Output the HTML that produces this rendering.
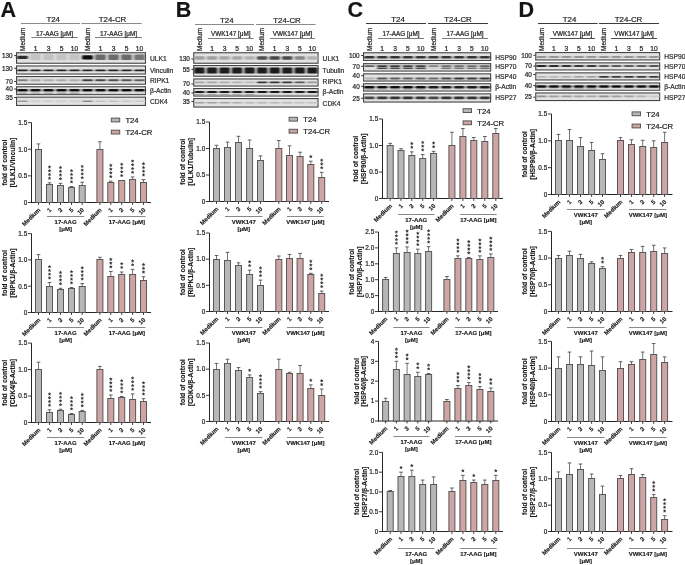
<!DOCTYPE html>
<html><head><meta charset="utf-8"><title>Figure</title>
<style>
html,body{margin:0;padding:0;background:#fff;width:685px;height:565px;overflow:hidden}
svg{display:block;font-family:"Liberation Sans", sans-serif;will-change:transform;filter:blur(0.35px)}
</style></head><body>
<svg width="685" height="565" viewBox="0 0 685 565">
<defs><filter id="bl" x="-20%" y="-80%" width="140%" height="260%"><feGaussianBlur stdDeviation="0.9 0.7"/></filter></defs>
<rect width="685" height="565" fill="#fff"/>
<text x="0.6" y="17" font-size="21.6" font-weight="bold" text-anchor="start" fill="#141414" stroke="#141414" stroke-width="0.15">A</text>
<text x="175.8" y="17" font-size="21.6" font-weight="bold" text-anchor="start" fill="#141414" stroke="#141414" stroke-width="0.15">B</text>
<text x="347.4" y="17" font-size="21.6" font-weight="bold" text-anchor="start" fill="#141414" stroke="#141414" stroke-width="0.15">C</text>
<text x="518.4" y="17" font-size="21.6" font-weight="bold" text-anchor="start" fill="#141414" stroke="#141414" stroke-width="0.15">D</text>
<line x1="20.9" y1="23.5" x2="79.9" y2="23.5" stroke="#8a8a8a" stroke-width="1"/>
<text x="53.2" y="21.9" font-size="7.9" font-weight="normal" text-anchor="middle" fill="#262626" stroke="#262626" stroke-width="0.22">T24</text>
<line x1="81.4" y1="23.5" x2="141.6" y2="23.5" stroke="#8a8a8a" stroke-width="1"/>
<text x="112.5" y="21.9" font-size="7.9" font-weight="normal" text-anchor="middle" fill="#262626" stroke="#262626" stroke-width="0.22">T24-CR</text>
<text x="24.8" y="51" font-size="6.5" font-weight="normal" text-anchor="start" fill="#262626" stroke="#262626" stroke-width="0.22" transform="rotate(-90 24.8 51)">Medium</text>
<text x="89.8" y="51" font-size="6.5" font-weight="normal" text-anchor="start" fill="#262626" stroke="#262626" stroke-width="0.22" transform="rotate(-90 89.8 51)">Medium</text>
<line x1="31.3" y1="37.5" x2="77.8" y2="37.5" stroke="#808080" stroke-width="1"/>
<text x="54.55" y="36" font-size="6.4" font-weight="normal" text-anchor="middle" fill="#262626" stroke="#262626" stroke-width="0.22">17-AAG [&#956;M]</text>
<line x1="95" y1="37.5" x2="142" y2="37.5" stroke="#808080" stroke-width="1"/>
<text x="118.5" y="36" font-size="6.4" font-weight="normal" text-anchor="middle" fill="#262626" stroke="#262626" stroke-width="0.22">17-AAG [&#956;M]</text>
<text x="35.5" y="50.8" font-size="6.7" font-weight="normal" text-anchor="middle" fill="#262626" stroke="#262626" stroke-width="0.22">1</text>
<text x="48.5" y="50.8" font-size="6.7" font-weight="normal" text-anchor="middle" fill="#262626" stroke="#262626" stroke-width="0.22">3</text>
<text x="61.5" y="50.8" font-size="6.7" font-weight="normal" text-anchor="middle" fill="#262626" stroke="#262626" stroke-width="0.22">5</text>
<text x="74.5" y="50.8" font-size="6.7" font-weight="normal" text-anchor="middle" fill="#262626" stroke="#262626" stroke-width="0.22">10</text>
<text x="100.5" y="50.8" font-size="6.7" font-weight="normal" text-anchor="middle" fill="#262626" stroke="#262626" stroke-width="0.22">1</text>
<text x="113.5" y="50.8" font-size="6.7" font-weight="normal" text-anchor="middle" fill="#262626" stroke="#262626" stroke-width="0.22">3</text>
<text x="126.5" y="50.8" font-size="6.7" font-weight="normal" text-anchor="middle" fill="#262626" stroke="#262626" stroke-width="0.22">5</text>
<text x="139.5" y="50.8" font-size="6.7" font-weight="normal" text-anchor="middle" fill="#262626" stroke="#262626" stroke-width="0.22">10</text>
<rect x="16.55" y="52.75" width="128.9" height="10.5" fill="#e1e1e1" stroke="#454545" stroke-width="1.1"/>
<rect x="17.04" y="55.7" width="10.92" height="3.2" rx="1.2" fill="#2a2a2a" filter="url(#bl)"/>
<rect x="30.04" y="54.3" width="10.92" height="6" rx="1.2" fill="#c3c3c3" filter="url(#bl)"/>
<rect x="43.04" y="54.3" width="10.92" height="6" rx="1.2" fill="#c3c3c3" filter="url(#bl)"/>
<rect x="56.04" y="54.3" width="10.92" height="6" rx="1.2" fill="#c3c3c3" filter="url(#bl)"/>
<rect x="69.04" y="54.3" width="10.92" height="6" rx="1.2" fill="#c3c3c3" filter="url(#bl)"/>
<rect x="82.04" y="55.2" width="10.92" height="4.2" rx="1.2" fill="#0a0a0a" filter="url(#bl)"/>
<rect x="95.04" y="54.55" width="10.92" height="5.5" rx="1.2" fill="#6b6b6b" filter="url(#bl)"/>
<rect x="108.04" y="54.55" width="10.92" height="5.5" rx="1.2" fill="#6b6b6b" filter="url(#bl)"/>
<rect x="121.04" y="54.55" width="10.92" height="5.5" rx="1.2" fill="#6b6b6b" filter="url(#bl)"/>
<rect x="134.04" y="54.55" width="10.92" height="5.5" rx="1.2" fill="#767676" filter="url(#bl)"/>
<text x="12.7" y="57.85" font-size="6.4" font-weight="normal" text-anchor="end" fill="#262626" stroke="#262626" stroke-width="0.22">130</text>
<line x1="14.2" y1="55.6" x2="16" y2="55.6" stroke="#333" stroke-width="1"/>
<text x="150" y="60.8" font-size="6.7" font-weight="normal" text-anchor="start" fill="#303030" stroke="#303030" stroke-width="0.22">ULK1</text>
<rect x="16.55" y="65.95" width="128.9" height="8.1" fill="#e1e1e1" stroke="#454545" stroke-width="1.1"/>
<rect x="17.04" y="69.5" width="10.92" height="1.8" rx="0.9" fill="#242424" filter="url(#bl)"/>
<rect x="30.04" y="69.5" width="10.92" height="1.8" rx="0.9" fill="#242424" filter="url(#bl)"/>
<rect x="43.04" y="69.5" width="10.92" height="1.8" rx="0.9" fill="#242424" filter="url(#bl)"/>
<rect x="56.04" y="69.5" width="10.92" height="1.8" rx="0.9" fill="#242424" filter="url(#bl)"/>
<rect x="69.04" y="69.5" width="10.92" height="1.8" rx="0.9" fill="#242424" filter="url(#bl)"/>
<rect x="82.04" y="69.5" width="10.92" height="1.8" rx="0.9" fill="#242424" filter="url(#bl)"/>
<rect x="95.04" y="69.5" width="10.92" height="1.8" rx="0.9" fill="#242424" filter="url(#bl)"/>
<rect x="108.04" y="69.5" width="10.92" height="1.8" rx="0.9" fill="#242424" filter="url(#bl)"/>
<rect x="121.04" y="69.5" width="10.92" height="1.8" rx="0.9" fill="#242424" filter="url(#bl)"/>
<rect x="134.04" y="69.5" width="10.92" height="1.8" rx="0.9" fill="#242424" filter="url(#bl)"/>
<text x="12.7" y="70.55" font-size="6.4" font-weight="normal" text-anchor="end" fill="#262626" stroke="#262626" stroke-width="0.22">130</text>
<line x1="14.2" y1="68.3" x2="16" y2="68.3" stroke="#333" stroke-width="1"/>
<text x="150" y="72.5" font-size="6.7" font-weight="normal" text-anchor="start" fill="#303030" stroke="#303030" stroke-width="0.22">Vinculin</text>
<rect x="16.55" y="76.55" width="128.9" height="7.7" fill="#e1e1e1" stroke="#454545" stroke-width="1.1"/>
<rect x="17.04" y="79.25" width="10.92" height="1.9" rx="0.95" fill="#808080" filter="url(#bl)"/>
<rect x="30.04" y="79.25" width="10.92" height="1.9" rx="0.95" fill="#a5a5a5" filter="url(#bl)"/>
<rect x="43.04" y="79.25" width="10.92" height="1.9" rx="0.95" fill="#adadad" filter="url(#bl)"/>
<rect x="56.04" y="79.25" width="10.92" height="1.9" rx="0.95" fill="#a9a9a9" filter="url(#bl)"/>
<rect x="69.04" y="79.25" width="10.92" height="1.9" rx="0.95" fill="#adadad" filter="url(#bl)"/>
<rect x="82.04" y="79.25" width="10.92" height="1.9" rx="0.95" fill="#404040" filter="url(#bl)"/>
<rect x="95.04" y="79.25" width="10.92" height="1.9" rx="0.95" fill="#464646" filter="url(#bl)"/>
<rect x="108.04" y="79.25" width="10.92" height="1.9" rx="0.95" fill="#4f4f4f" filter="url(#bl)"/>
<rect x="121.04" y="79.25" width="10.92" height="1.9" rx="0.95" fill="#555555" filter="url(#bl)"/>
<rect x="134.04" y="79.25" width="10.92" height="1.9" rx="0.95" fill="#606060" filter="url(#bl)"/>
<text x="12.7" y="83.75" font-size="6.4" font-weight="normal" text-anchor="end" fill="#262626" stroke="#262626" stroke-width="0.22">70</text>
<line x1="14.2" y1="81.5" x2="16" y2="81.5" stroke="#333" stroke-width="1"/>
<text x="150" y="82.8" font-size="6.7" font-weight="normal" text-anchor="start" fill="#303030" stroke="#303030" stroke-width="0.22">RIPK1</text>
<rect x="16.55" y="86.75" width="128.9" height="7.9" fill="#e1e1e1" stroke="#454545" stroke-width="1.1"/>
<rect x="17.04" y="88.9" width="10.92" height="2.6" rx="1.2" fill="#101010" filter="url(#bl)"/>
<rect x="30.04" y="88.9" width="10.92" height="2.6" rx="1.2" fill="#101010" filter="url(#bl)"/>
<rect x="43.04" y="88.9" width="10.92" height="2.6" rx="1.2" fill="#101010" filter="url(#bl)"/>
<rect x="56.04" y="88.9" width="10.92" height="2.6" rx="1.2" fill="#101010" filter="url(#bl)"/>
<rect x="69.04" y="88.9" width="10.92" height="2.6" rx="1.2" fill="#101010" filter="url(#bl)"/>
<rect x="82.04" y="88.9" width="10.92" height="2.6" rx="1.2" fill="#101010" filter="url(#bl)"/>
<rect x="95.04" y="88.9" width="10.92" height="2.6" rx="1.2" fill="#101010" filter="url(#bl)"/>
<rect x="108.04" y="88.9" width="10.92" height="2.6" rx="1.2" fill="#101010" filter="url(#bl)"/>
<rect x="121.04" y="88.9" width="10.92" height="2.6" rx="1.2" fill="#101010" filter="url(#bl)"/>
<rect x="134.04" y="88.9" width="10.92" height="2.6" rx="1.2" fill="#101010" filter="url(#bl)"/>
<rect x="17.3" y="92.6" width="10.4" height="1.2" fill="#a0a0a0" filter="url(#bl)"/>
<rect x="30.3" y="92.6" width="10.4" height="1.2" fill="#a0a0a0" filter="url(#bl)"/>
<rect x="43.3" y="92.6" width="10.4" height="1.2" fill="#a0a0a0" filter="url(#bl)"/>
<rect x="56.3" y="92.6" width="10.4" height="1.2" fill="#969696" filter="url(#bl)"/>
<rect x="69.3" y="92.6" width="10.4" height="1.2" fill="#969696" filter="url(#bl)"/>
<rect x="82.3" y="92.6" width="10.4" height="1.2" fill="#c7c7c7" filter="url(#bl)"/>
<rect x="95.3" y="92.6" width="10.4" height="1.2" fill="#cccccc" filter="url(#bl)"/>
<rect x="108.3" y="92.6" width="10.4" height="1.2" fill="#cccccc" filter="url(#bl)"/>
<rect x="121.3" y="92.6" width="10.4" height="1.2" fill="#cccccc" filter="url(#bl)"/>
<rect x="134.3" y="92.6" width="10.4" height="1.2" fill="#cccccc" filter="url(#bl)"/>
<text x="12.7" y="91.25" font-size="6.4" font-weight="normal" text-anchor="end" fill="#262626" stroke="#262626" stroke-width="0.22">40</text>
<line x1="14.2" y1="89" x2="16" y2="89" stroke="#333" stroke-width="1"/>
<text x="150" y="93.4" font-size="6.7" font-weight="normal" text-anchor="start" fill="#303030" stroke="#303030" stroke-width="0.22">&#946;-Actin</text>
<rect x="16.55" y="97.15" width="128.9" height="8.3" fill="#e1e1e1" stroke="#454545" stroke-width="1.1"/>
<rect x="17.04" y="100.4" width="10.92" height="1.6" rx="0.8" fill="#969696" filter="url(#bl)"/>
<rect x="30.04" y="100.4" width="10.92" height="1.6" rx="0.8" fill="#cccccc" filter="url(#bl)"/>
<rect x="43.04" y="100.4" width="10.92" height="1.6" rx="0.8" fill="#cccccc" filter="url(#bl)"/>
<rect x="56.04" y="100.4" width="10.92" height="1.6" rx="0.8" fill="#cccccc" filter="url(#bl)"/>
<rect x="69.04" y="100.4" width="10.92" height="1.6" rx="0.8" fill="#cccccc" filter="url(#bl)"/>
<rect x="82.04" y="100.4" width="10.92" height="1.6" rx="0.8" fill="#8b8b8b" filter="url(#bl)"/>
<rect x="95.04" y="100.4" width="10.92" height="1.6" rx="0.8" fill="#c1c1c1" filter="url(#bl)"/>
<rect x="108.04" y="100.4" width="10.92" height="1.6" rx="0.8" fill="#c1c1c1" filter="url(#bl)"/>
<rect x="121.04" y="100.4" width="10.92" height="1.6" rx="0.8" fill="#c7c7c7" filter="url(#bl)"/>
<rect x="134.04" y="100.4" width="10.92" height="1.6" rx="0.8" fill="#c7c7c7" filter="url(#bl)"/>
<text x="12.7" y="99.75" font-size="6.4" font-weight="normal" text-anchor="end" fill="#262626" stroke="#262626" stroke-width="0.22">35</text>
<line x1="14.2" y1="97.5" x2="16" y2="97.5" stroke="#333" stroke-width="1"/>
<text x="150" y="103.7" font-size="6.7" font-weight="normal" text-anchor="start" fill="#303030" stroke="#303030" stroke-width="0.22">CDK4</text>
<line x1="195" y1="24.5" x2="254" y2="24.5" stroke="#8a8a8a" stroke-width="1"/>
<text x="226.8" y="22.9" font-size="7.9" font-weight="normal" text-anchor="middle" fill="#262626" stroke="#262626" stroke-width="0.22">T24</text>
<line x1="256" y1="24.5" x2="315.6" y2="24.5" stroke="#8a8a8a" stroke-width="1"/>
<text x="287" y="22.9" font-size="7.9" font-weight="normal" text-anchor="middle" fill="#262626" stroke="#262626" stroke-width="0.22">T24-CR</text>
<text x="201.77" y="51" font-size="6.5" font-weight="normal" text-anchor="start" fill="#262626" stroke="#262626" stroke-width="0.22" transform="rotate(-90 201.77 51)">Medium</text>
<text x="264.47" y="51" font-size="6.5" font-weight="normal" text-anchor="start" fill="#262626" stroke="#262626" stroke-width="0.22" transform="rotate(-90 264.47 51)">Medium</text>
<line x1="208" y1="38.5" x2="253.6" y2="38.5" stroke="#808080" stroke-width="1"/>
<text x="230.8" y="36.2" font-size="6.4" font-weight="normal" text-anchor="middle" fill="#262626" stroke="#262626" stroke-width="0.22">VWK147 [&#956;M]</text>
<line x1="270" y1="38.5" x2="315" y2="38.5" stroke="#808080" stroke-width="1"/>
<text x="292.5" y="36.2" font-size="6.4" font-weight="normal" text-anchor="middle" fill="#262626" stroke="#262626" stroke-width="0.22">VWK147 [&#956;M]</text>
<text x="212.01" y="50.8" font-size="6.7" font-weight="normal" text-anchor="middle" fill="#262626" stroke="#262626" stroke-width="0.22">1</text>
<text x="224.55" y="50.8" font-size="6.7" font-weight="normal" text-anchor="middle" fill="#262626" stroke="#262626" stroke-width="0.22">3</text>
<text x="237.09" y="50.8" font-size="6.7" font-weight="normal" text-anchor="middle" fill="#262626" stroke="#262626" stroke-width="0.22">5</text>
<text x="249.63" y="50.8" font-size="6.7" font-weight="normal" text-anchor="middle" fill="#262626" stroke="#262626" stroke-width="0.22">10</text>
<text x="274.71" y="50.8" font-size="6.7" font-weight="normal" text-anchor="middle" fill="#262626" stroke="#262626" stroke-width="0.22">1</text>
<text x="287.25" y="50.8" font-size="6.7" font-weight="normal" text-anchor="middle" fill="#262626" stroke="#262626" stroke-width="0.22">3</text>
<text x="299.79" y="50.8" font-size="6.7" font-weight="normal" text-anchor="middle" fill="#262626" stroke="#262626" stroke-width="0.22">5</text>
<text x="312.33" y="50.8" font-size="6.7" font-weight="normal" text-anchor="middle" fill="#262626" stroke="#262626" stroke-width="0.22">10</text>
<rect x="193.75" y="52.75" width="124.3" height="10.5" fill="#e1e1e1" stroke="#454545" stroke-width="1.1"/>
<rect x="194.2" y="56.3" width="10.53" height="3.4" rx="1.2" fill="#a0a0a0" filter="url(#bl)"/>
<rect x="206.74" y="56.3" width="10.53" height="3.4" rx="1.2" fill="#a0a0a0" filter="url(#bl)"/>
<rect x="219.28" y="56.3" width="10.53" height="3.4" rx="1.2" fill="#a7a7a7" filter="url(#bl)"/>
<rect x="231.82" y="56.3" width="10.53" height="3.4" rx="1.2" fill="#a7a7a7" filter="url(#bl)"/>
<rect x="244.36" y="56.3" width="10.53" height="3.4" rx="1.2" fill="#b2b2b2" filter="url(#bl)"/>
<rect x="256.9" y="56.3" width="10.53" height="3.4" rx="1.2" fill="#4f4f4f" filter="url(#bl)"/>
<rect x="269.44" y="56.3" width="10.53" height="3.4" rx="1.2" fill="#464646" filter="url(#bl)"/>
<rect x="281.98" y="56.3" width="10.53" height="3.4" rx="1.2" fill="#4a4a4a" filter="url(#bl)"/>
<rect x="294.52" y="56.3" width="10.53" height="3.4" rx="1.2" fill="#878787" filter="url(#bl)"/>
<rect x="307.06" y="56.3" width="10.53" height="3.4" rx="1.2" fill="#b2b2b2" filter="url(#bl)"/>
<text x="189.9" y="61.25" font-size="6.4" font-weight="normal" text-anchor="end" fill="#262626" stroke="#262626" stroke-width="0.22">130</text>
<line x1="191.4" y1="59" x2="193.2" y2="59" stroke="#333" stroke-width="1"/>
<text x="322.6" y="61" font-size="6.7" font-weight="normal" text-anchor="start" fill="#303030" stroke="#303030" stroke-width="0.22">ULK1</text>
<rect x="193.75" y="65.55" width="124.3" height="10.7" fill="#e1e1e1" stroke="#454545" stroke-width="1.1"/>
<rect x="194.2" y="67.6" width="10.53" height="6" rx="1.2" fill="#1b1b1b" filter="url(#bl)"/>
<rect x="206.74" y="67.6" width="10.53" height="6" rx="1.2" fill="#1b1b1b" filter="url(#bl)"/>
<rect x="219.28" y="67.6" width="10.53" height="6" rx="1.2" fill="#1b1b1b" filter="url(#bl)"/>
<rect x="231.82" y="67.6" width="10.53" height="6" rx="1.2" fill="#1b1b1b" filter="url(#bl)"/>
<rect x="244.36" y="67.6" width="10.53" height="6" rx="1.2" fill="#1b1b1b" filter="url(#bl)"/>
<rect x="256.9" y="67.6" width="10.53" height="6" rx="1.2" fill="#1b1b1b" filter="url(#bl)"/>
<rect x="269.44" y="67.6" width="10.53" height="6" rx="1.2" fill="#1b1b1b" filter="url(#bl)"/>
<rect x="281.98" y="67.6" width="10.53" height="6" rx="1.2" fill="#1b1b1b" filter="url(#bl)"/>
<rect x="294.52" y="67.6" width="10.53" height="6" rx="1.2" fill="#1b1b1b" filter="url(#bl)"/>
<rect x="307.06" y="67.6" width="10.53" height="6" rx="1.2" fill="#1b1b1b" filter="url(#bl)"/>
<text x="189.9" y="71.55" font-size="6.4" font-weight="normal" text-anchor="end" fill="#262626" stroke="#262626" stroke-width="0.22">55</text>
<line x1="191.4" y1="69.3" x2="193.2" y2="69.3" stroke="#333" stroke-width="1"/>
<text x="322.6" y="73.4" font-size="6.7" font-weight="normal" text-anchor="start" fill="#303030" stroke="#303030" stroke-width="0.22">Tubulin</text>
<rect x="193.75" y="78.95" width="124.3" height="7.1" fill="#e1e1e1" stroke="#454545" stroke-width="1.1"/>
<rect x="194.2" y="81.45" width="10.53" height="1.9" rx="0.95" fill="#a5a5a5" filter="url(#bl)"/>
<rect x="206.74" y="81.45" width="10.53" height="1.9" rx="0.95" fill="#a5a5a5" filter="url(#bl)"/>
<rect x="219.28" y="81.45" width="10.53" height="1.9" rx="0.95" fill="#ababab" filter="url(#bl)"/>
<rect x="231.82" y="81.45" width="10.53" height="1.9" rx="0.95" fill="#b2b2b2" filter="url(#bl)"/>
<rect x="244.36" y="81.45" width="10.53" height="1.9" rx="0.95" fill="#bababa" filter="url(#bl)"/>
<rect x="256.9" y="81.45" width="10.53" height="1.9" rx="0.95" fill="#353535" filter="url(#bl)"/>
<rect x="269.44" y="81.45" width="10.53" height="1.9" rx="0.95" fill="#313131" filter="url(#bl)"/>
<rect x="281.98" y="81.45" width="10.53" height="1.9" rx="0.95" fill="#353535" filter="url(#bl)"/>
<rect x="294.52" y="81.45" width="10.53" height="1.9" rx="0.95" fill="#555555" filter="url(#bl)"/>
<rect x="307.06" y="81.45" width="10.53" height="1.9" rx="0.95" fill="#969696" filter="url(#bl)"/>
<text x="189.9" y="86.25" font-size="6.4" font-weight="normal" text-anchor="end" fill="#262626" stroke="#262626" stroke-width="0.22">70</text>
<line x1="191.4" y1="84" x2="193.2" y2="84" stroke="#333" stroke-width="1"/>
<text x="322.6" y="84.2" font-size="6.7" font-weight="normal" text-anchor="start" fill="#303030" stroke="#303030" stroke-width="0.22">RIPK1</text>
<rect x="193.75" y="88.55" width="124.3" height="7.5" fill="#e1e1e1" stroke="#454545" stroke-width="1.1"/>
<rect x="194.2" y="90.9" width="10.53" height="2.2" rx="1.1" fill="#151515" filter="url(#bl)"/>
<rect x="206.74" y="90.9" width="10.53" height="2.2" rx="1.1" fill="#151515" filter="url(#bl)"/>
<rect x="219.28" y="90.9" width="10.53" height="2.2" rx="1.1" fill="#151515" filter="url(#bl)"/>
<rect x="231.82" y="90.9" width="10.53" height="2.2" rx="1.1" fill="#151515" filter="url(#bl)"/>
<rect x="244.36" y="90.9" width="10.53" height="2.2" rx="1.1" fill="#151515" filter="url(#bl)"/>
<rect x="256.9" y="90.9" width="10.53" height="2.2" rx="1.1" fill="#151515" filter="url(#bl)"/>
<rect x="269.44" y="90.9" width="10.53" height="2.2" rx="1.1" fill="#151515" filter="url(#bl)"/>
<rect x="281.98" y="90.9" width="10.53" height="2.2" rx="1.1" fill="#151515" filter="url(#bl)"/>
<rect x="294.52" y="90.9" width="10.53" height="2.2" rx="1.1" fill="#151515" filter="url(#bl)"/>
<rect x="307.06" y="90.9" width="10.53" height="2.2" rx="1.1" fill="#151515" filter="url(#bl)"/>
<rect x="194.45" y="93.9" width="10.03" height="1" fill="#a0a0a0" filter="url(#bl)"/>
<rect x="206.99" y="93.9" width="10.03" height="1" fill="#a0a0a0" filter="url(#bl)"/>
<rect x="219.53" y="93.9" width="10.03" height="1" fill="#a0a0a0" filter="url(#bl)"/>
<rect x="232.07" y="93.9" width="10.03" height="1" fill="#a0a0a0" filter="url(#bl)"/>
<rect x="244.61" y="93.9" width="10.03" height="1" fill="#a0a0a0" filter="url(#bl)"/>
<rect x="257.15" y="93.9" width="10.03" height="1" fill="#cccccc" filter="url(#bl)"/>
<rect x="269.69" y="93.9" width="10.03" height="1" fill="#cccccc" filter="url(#bl)"/>
<rect x="282.23" y="93.9" width="10.03" height="1" fill="#cccccc" filter="url(#bl)"/>
<rect x="294.77" y="93.9" width="10.03" height="1" fill="#cccccc" filter="url(#bl)"/>
<rect x="307.31" y="93.9" width="10.03" height="1" fill="#cccccc" filter="url(#bl)"/>
<text x="189.9" y="95.25" font-size="6.4" font-weight="normal" text-anchor="end" fill="#262626" stroke="#262626" stroke-width="0.22">40</text>
<line x1="191.4" y1="93" x2="193.2" y2="93" stroke="#333" stroke-width="1"/>
<text x="322.6" y="94.4" font-size="6.7" font-weight="normal" text-anchor="start" fill="#303030" stroke="#303030" stroke-width="0.22">&#946;-Actin</text>
<rect x="193.75" y="98.55" width="124.3" height="8.5" fill="#e1e1e1" stroke="#454545" stroke-width="1.1"/>
<rect x="194.2" y="102.1" width="10.53" height="1.4" rx="0.7" fill="#a0a0a0" filter="url(#bl)"/>
<rect x="206.74" y="102.1" width="10.53" height="1.4" rx="0.7" fill="#a0a0a0" filter="url(#bl)"/>
<rect x="219.28" y="102.1" width="10.53" height="1.4" rx="0.7" fill="#a5a5a5" filter="url(#bl)"/>
<rect x="231.82" y="102.1" width="10.53" height="1.4" rx="0.7" fill="#ababab" filter="url(#bl)"/>
<rect x="244.36" y="102.1" width="10.53" height="1.4" rx="0.7" fill="#b6b6b6" filter="url(#bl)"/>
<rect x="256.9" y="102.1" width="10.53" height="1.4" rx="0.7" fill="#b6b6b6" filter="url(#bl)"/>
<rect x="269.44" y="102.1" width="10.53" height="1.4" rx="0.7" fill="#b6b6b6" filter="url(#bl)"/>
<rect x="281.98" y="102.1" width="10.53" height="1.4" rx="0.7" fill="#b6b6b6" filter="url(#bl)"/>
<rect x="294.52" y="102.1" width="10.53" height="1.4" rx="0.7" fill="#c1c1c1" filter="url(#bl)"/>
<rect x="307.06" y="102.1" width="10.53" height="1.4" rx="0.7" fill="#c1c1c1" filter="url(#bl)"/>
<text x="189.9" y="103.75" font-size="6.4" font-weight="normal" text-anchor="end" fill="#262626" stroke="#262626" stroke-width="0.22">35</text>
<line x1="191.4" y1="101.5" x2="193.2" y2="101.5" stroke="#333" stroke-width="1"/>
<text x="322.6" y="105.7" font-size="6.7" font-weight="normal" text-anchor="start" fill="#303030" stroke="#303030" stroke-width="0.22">CDK4</text>
<line x1="366" y1="23.5" x2="426" y2="23.5" stroke="#3c3c3c" stroke-width="1"/>
<text x="398" y="21.9" font-size="7.9" font-weight="normal" text-anchor="middle" fill="#262626" stroke="#262626" stroke-width="0.22">T24</text>
<line x1="428" y1="23.5" x2="488" y2="23.5" stroke="#3c3c3c" stroke-width="1"/>
<text x="458" y="21.9" font-size="7.9" font-weight="normal" text-anchor="middle" fill="#262626" stroke="#262626" stroke-width="0.22">T24-CR</text>
<text x="371.71" y="51" font-size="6.5" font-weight="normal" text-anchor="start" fill="#262626" stroke="#262626" stroke-width="0.22" transform="rotate(-90 371.71 51)">Medium</text>
<text x="435.81" y="51" font-size="6.5" font-weight="normal" text-anchor="start" fill="#262626" stroke="#262626" stroke-width="0.22" transform="rotate(-90 435.81 51)">Medium</text>
<line x1="378" y1="38.5" x2="424" y2="38.5" stroke="#808080" stroke-width="1"/>
<text x="401" y="36.2" font-size="6.4" font-weight="normal" text-anchor="middle" fill="#262626" stroke="#262626" stroke-width="0.22">17-AAG [&#956;M]</text>
<line x1="442" y1="38.5" x2="488" y2="38.5" stroke="#808080" stroke-width="1"/>
<text x="465" y="36.2" font-size="6.4" font-weight="normal" text-anchor="middle" fill="#262626" stroke="#262626" stroke-width="0.22">17-AAG [&#956;M]</text>
<text x="382.23" y="50.8" font-size="6.7" font-weight="normal" text-anchor="middle" fill="#262626" stroke="#262626" stroke-width="0.22">1</text>
<text x="395.05" y="50.8" font-size="6.7" font-weight="normal" text-anchor="middle" fill="#262626" stroke="#262626" stroke-width="0.22">3</text>
<text x="407.87" y="50.8" font-size="6.7" font-weight="normal" text-anchor="middle" fill="#262626" stroke="#262626" stroke-width="0.22">5</text>
<text x="420.69" y="50.8" font-size="6.7" font-weight="normal" text-anchor="middle" fill="#262626" stroke="#262626" stroke-width="0.22">10</text>
<text x="446.33" y="50.8" font-size="6.7" font-weight="normal" text-anchor="middle" fill="#262626" stroke="#262626" stroke-width="0.22">1</text>
<text x="459.15" y="50.8" font-size="6.7" font-weight="normal" text-anchor="middle" fill="#262626" stroke="#262626" stroke-width="0.22">3</text>
<text x="471.97" y="50.8" font-size="6.7" font-weight="normal" text-anchor="middle" fill="#262626" stroke="#262626" stroke-width="0.22">5</text>
<text x="484.79" y="50.8" font-size="6.7" font-weight="normal" text-anchor="middle" fill="#262626" stroke="#262626" stroke-width="0.22">10</text>
<rect x="363.55" y="52.75" width="127.1" height="7.7" fill="#e1e1e1" stroke="#454545" stroke-width="1.1"/>
<rect x="364.03" y="56" width="10.77" height="2.6" rx="1.2" fill="#353535" filter="url(#bl)"/>
<rect x="376.85" y="56" width="10.77" height="2.6" rx="1.2" fill="#353535" filter="url(#bl)"/>
<rect x="389.67" y="56" width="10.77" height="2.6" rx="1.2" fill="#353535" filter="url(#bl)"/>
<rect x="402.49" y="56" width="10.77" height="2.6" rx="1.2" fill="#353535" filter="url(#bl)"/>
<rect x="415.31" y="56" width="10.77" height="2.6" rx="1.2" fill="#353535" filter="url(#bl)"/>
<rect x="428.13" y="56" width="10.77" height="2.6" rx="1.2" fill="#353535" filter="url(#bl)"/>
<rect x="440.95" y="56" width="10.77" height="2.6" rx="1.2" fill="#353535" filter="url(#bl)"/>
<rect x="453.77" y="56" width="10.77" height="2.6" rx="1.2" fill="#353535" filter="url(#bl)"/>
<rect x="466.59" y="56" width="10.77" height="2.6" rx="1.2" fill="#353535" filter="url(#bl)"/>
<rect x="479.41" y="56" width="10.77" height="2.6" rx="1.2" fill="#353535" filter="url(#bl)"/>
<text x="359.7" y="57.75" font-size="6.4" font-weight="normal" text-anchor="end" fill="#262626" stroke="#262626" stroke-width="0.22">100</text>
<line x1="361.2" y1="55.5" x2="363" y2="55.5" stroke="#333" stroke-width="1"/>
<text x="495.2" y="59.7" font-size="6.7" font-weight="normal" text-anchor="start" fill="#303030" stroke="#303030" stroke-width="0.22">HSP90</text>
<rect x="363.55" y="63.65" width="127.1" height="7.4" fill="#e1e1e1" stroke="#454545" stroke-width="1.1"/>
<rect x="364.03" y="65.3" width="10.77" height="1.6" rx="0.8" fill="#5c5c5c" filter="url(#bl)"/>
<rect x="376.85" y="65.2" width="10.77" height="1.8" rx="0.9" fill="#393939" filter="url(#bl)"/>
<rect x="389.67" y="65.2" width="10.77" height="1.8" rx="0.9" fill="#393939" filter="url(#bl)"/>
<rect x="402.49" y="65.2" width="10.77" height="1.8" rx="0.9" fill="#3e3e3e" filter="url(#bl)"/>
<rect x="415.31" y="65.2" width="10.77" height="1.8" rx="0.9" fill="#3e3e3e" filter="url(#bl)"/>
<rect x="428.13" y="65.3" width="10.77" height="1.6" rx="0.8" fill="#808080" filter="url(#bl)"/>
<rect x="440.95" y="65.2" width="10.77" height="1.8" rx="0.9" fill="#6b6b6b" filter="url(#bl)"/>
<rect x="453.77" y="65.2" width="10.77" height="1.8" rx="0.9" fill="#6b6b6b" filter="url(#bl)"/>
<rect x="466.59" y="65.2" width="10.77" height="1.8" rx="0.9" fill="#6b6b6b" filter="url(#bl)"/>
<rect x="479.41" y="65.2" width="10.77" height="1.8" rx="0.9" fill="#606060" filter="url(#bl)"/>
<rect x="377.1" y="67.5" width="10.26" height="1.6" fill="#464646" filter="url(#bl)"/>
<rect x="389.92" y="67.5" width="10.26" height="1.6" fill="#464646" filter="url(#bl)"/>
<rect x="402.74" y="67.5" width="10.26" height="1.6" fill="#4a4a4a" filter="url(#bl)"/>
<rect x="415.56" y="67.5" width="10.26" height="1.6" fill="#4a4a4a" filter="url(#bl)"/>
<rect x="428.38" y="67.5" width="10.26" height="1.6" fill="#cccccc" filter="url(#bl)"/>
<rect x="441.2" y="67.5" width="10.26" height="1.6" fill="#767676" filter="url(#bl)"/>
<rect x="454.02" y="67.5" width="10.26" height="1.6" fill="#767676" filter="url(#bl)"/>
<rect x="466.84" y="67.5" width="10.26" height="1.6" fill="#767676" filter="url(#bl)"/>
<rect x="479.66" y="67.5" width="10.26" height="1.6" fill="#6b6b6b" filter="url(#bl)"/>
<text x="359.7" y="68.55" font-size="6.4" font-weight="normal" text-anchor="end" fill="#262626" stroke="#262626" stroke-width="0.22">70</text>
<line x1="361.2" y1="66.3" x2="363" y2="66.3" stroke="#333" stroke-width="1"/>
<text x="495.2" y="69.4" font-size="6.7" font-weight="normal" text-anchor="start" fill="#303030" stroke="#303030" stroke-width="0.22">HSP70</text>
<rect x="363.55" y="73.85" width="127.1" height="7.2" fill="#e1e1e1" stroke="#454545" stroke-width="1.1"/>
<rect x="364.03" y="77.4" width="10.77" height="2" rx="1" fill="#b2b2b2" filter="url(#bl)"/>
<rect x="376.85" y="77.4" width="10.77" height="2" rx="1" fill="#555555" filter="url(#bl)"/>
<rect x="389.67" y="77.4" width="10.77" height="2" rx="1" fill="#5c5c5c" filter="url(#bl)"/>
<rect x="402.49" y="77.4" width="10.77" height="2" rx="1" fill="#606060" filter="url(#bl)"/>
<rect x="415.31" y="77.4" width="10.77" height="2" rx="1" fill="#5c5c5c" filter="url(#bl)"/>
<rect x="428.13" y="77.4" width="10.77" height="2" rx="1" fill="#6b6b6b" filter="url(#bl)"/>
<rect x="440.95" y="77.4" width="10.77" height="2" rx="1" fill="#464646" filter="url(#bl)"/>
<rect x="453.77" y="77.4" width="10.77" height="2" rx="1" fill="#353535" filter="url(#bl)"/>
<rect x="466.59" y="77.4" width="10.77" height="2" rx="1" fill="#393939" filter="url(#bl)"/>
<rect x="479.41" y="77.4" width="10.77" height="2" rx="1" fill="#353535" filter="url(#bl)"/>
<text x="359.7" y="77.95" font-size="6.4" font-weight="normal" text-anchor="end" fill="#262626" stroke="#262626" stroke-width="0.22">40</text>
<line x1="361.2" y1="75.7" x2="363" y2="75.7" stroke="#333" stroke-width="1"/>
<text x="495.2" y="79.4" font-size="6.7" font-weight="normal" text-anchor="start" fill="#303030" stroke="#303030" stroke-width="0.22">HSP40</text>
<rect x="363.55" y="83.75" width="127.1" height="7.3" fill="#e1e1e1" stroke="#454545" stroke-width="1.1"/>
<rect x="364.03" y="85.9" width="10.77" height="2.6" rx="1.2" fill="#0a0a0a" filter="url(#bl)"/>
<rect x="376.85" y="85.9" width="10.77" height="2.6" rx="1.2" fill="#101010" filter="url(#bl)"/>
<rect x="389.67" y="85.9" width="10.77" height="2.6" rx="1.2" fill="#101010" filter="url(#bl)"/>
<rect x="402.49" y="85.9" width="10.77" height="2.6" rx="1.2" fill="#0a0a0a" filter="url(#bl)"/>
<rect x="415.31" y="85.9" width="10.77" height="2.6" rx="1.2" fill="#0a0a0a" filter="url(#bl)"/>
<rect x="428.13" y="85.9" width="10.77" height="2.6" rx="1.2" fill="#1b1b1b" filter="url(#bl)"/>
<rect x="440.95" y="85.9" width="10.77" height="2.6" rx="1.2" fill="#1b1b1b" filter="url(#bl)"/>
<rect x="453.77" y="85.9" width="10.77" height="2.6" rx="1.2" fill="#1b1b1b" filter="url(#bl)"/>
<rect x="466.59" y="85.9" width="10.77" height="2.6" rx="1.2" fill="#1b1b1b" filter="url(#bl)"/>
<rect x="479.41" y="85.9" width="10.77" height="2.6" rx="1.2" fill="#1b1b1b" filter="url(#bl)"/>
<rect x="364.28" y="89.1" width="10.26" height="1" fill="#ababab" filter="url(#bl)"/>
<rect x="377.1" y="89.1" width="10.26" height="1" fill="#b6b6b6" filter="url(#bl)"/>
<rect x="389.92" y="89.1" width="10.26" height="1" fill="#b6b6b6" filter="url(#bl)"/>
<rect x="402.74" y="89.1" width="10.26" height="1" fill="#b2b2b2" filter="url(#bl)"/>
<rect x="415.56" y="89.1" width="10.26" height="1" fill="#b2b2b2" filter="url(#bl)"/>
<rect x="428.38" y="89.1" width="10.26" height="1" fill="#cccccc" filter="url(#bl)"/>
<rect x="441.2" y="89.1" width="10.26" height="1" fill="#cccccc" filter="url(#bl)"/>
<rect x="454.02" y="89.1" width="10.26" height="1" fill="#cccccc" filter="url(#bl)"/>
<rect x="466.84" y="89.1" width="10.26" height="1" fill="#cccccc" filter="url(#bl)"/>
<rect x="479.66" y="89.1" width="10.26" height="1" fill="#cccccc" filter="url(#bl)"/>
<text x="359.7" y="88.55" font-size="6.4" font-weight="normal" text-anchor="end" fill="#262626" stroke="#262626" stroke-width="0.22">40</text>
<line x1="361.2" y1="86.3" x2="363" y2="86.3" stroke="#333" stroke-width="1"/>
<text x="495.2" y="89.4" font-size="6.7" font-weight="normal" text-anchor="start" fill="#303030" stroke="#303030" stroke-width="0.22">&#946;-Actin</text>
<rect x="363.55" y="93.85" width="127.1" height="8.2" fill="#e1e1e1" stroke="#454545" stroke-width="1.1"/>
<rect x="364.03" y="96.4" width="10.77" height="2.8" rx="1.2" fill="#464646" filter="url(#bl)"/>
<rect x="376.85" y="96.4" width="10.77" height="2.8" rx="1.2" fill="#353535" filter="url(#bl)"/>
<rect x="389.67" y="96.4" width="10.77" height="2.8" rx="1.2" fill="#353535" filter="url(#bl)"/>
<rect x="402.49" y="96.4" width="10.77" height="2.8" rx="1.2" fill="#313131" filter="url(#bl)"/>
<rect x="415.31" y="96.4" width="10.77" height="2.8" rx="1.2" fill="#353535" filter="url(#bl)"/>
<rect x="428.13" y="96.4" width="10.77" height="2.8" rx="1.2" fill="#464646" filter="url(#bl)"/>
<rect x="440.95" y="96.4" width="10.77" height="2.8" rx="1.2" fill="#313131" filter="url(#bl)"/>
<rect x="453.77" y="96.4" width="10.77" height="2.8" rx="1.2" fill="#313131" filter="url(#bl)"/>
<rect x="466.59" y="96.4" width="10.77" height="2.8" rx="1.2" fill="#353535" filter="url(#bl)"/>
<rect x="479.41" y="96.4" width="10.77" height="2.8" rx="1.2" fill="#353535" filter="url(#bl)"/>
<text x="359.7" y="100.55" font-size="6.4" font-weight="normal" text-anchor="end" fill="#262626" stroke="#262626" stroke-width="0.22">25</text>
<line x1="361.2" y1="98.3" x2="363" y2="98.3" stroke="#333" stroke-width="1"/>
<text x="495.2" y="100.4" font-size="6.7" font-weight="normal" text-anchor="start" fill="#303030" stroke="#303030" stroke-width="0.22">HSP27</text>
<line x1="538" y1="23.5" x2="597.6" y2="23.5" stroke="#3c3c3c" stroke-width="1"/>
<text x="569.5" y="21.9" font-size="7.9" font-weight="normal" text-anchor="middle" fill="#262626" stroke="#262626" stroke-width="0.22">T24</text>
<line x1="599" y1="23.5" x2="659" y2="23.5" stroke="#3c3c3c" stroke-width="1"/>
<text x="628.5" y="21.9" font-size="7.9" font-weight="normal" text-anchor="middle" fill="#262626" stroke="#262626" stroke-width="0.22">T24-CR</text>
<text x="543.75" y="51" font-size="6.5" font-weight="normal" text-anchor="start" fill="#262626" stroke="#262626" stroke-width="0.22" transform="rotate(-90 543.75 51)">Medium</text>
<text x="606.25" y="51" font-size="6.5" font-weight="normal" text-anchor="start" fill="#262626" stroke="#262626" stroke-width="0.22" transform="rotate(-90 606.25 51)">Medium</text>
<line x1="550" y1="38.5" x2="595" y2="38.5" stroke="#505050" stroke-width="1"/>
<text x="572.5" y="36.2" font-size="6.4" font-weight="normal" text-anchor="middle" fill="#262626" stroke="#262626" stroke-width="0.22">VWK147 [&#956;M]</text>
<line x1="611" y1="38.5" x2="657" y2="38.5" stroke="#505050" stroke-width="1"/>
<text x="634" y="36.2" font-size="6.4" font-weight="normal" text-anchor="middle" fill="#262626" stroke="#262626" stroke-width="0.22">VWK147 [&#956;M]</text>
<text x="553.95" y="50.8" font-size="6.7" font-weight="normal" text-anchor="middle" fill="#262626" stroke="#262626" stroke-width="0.22">1</text>
<text x="566.45" y="50.8" font-size="6.7" font-weight="normal" text-anchor="middle" fill="#262626" stroke="#262626" stroke-width="0.22">3</text>
<text x="578.95" y="50.8" font-size="6.7" font-weight="normal" text-anchor="middle" fill="#262626" stroke="#262626" stroke-width="0.22">5</text>
<text x="591.45" y="50.8" font-size="6.7" font-weight="normal" text-anchor="middle" fill="#262626" stroke="#262626" stroke-width="0.22">10</text>
<text x="616.45" y="50.8" font-size="6.7" font-weight="normal" text-anchor="middle" fill="#262626" stroke="#262626" stroke-width="0.22">1</text>
<text x="628.95" y="50.8" font-size="6.7" font-weight="normal" text-anchor="middle" fill="#262626" stroke="#262626" stroke-width="0.22">3</text>
<text x="641.45" y="50.8" font-size="6.7" font-weight="normal" text-anchor="middle" fill="#262626" stroke="#262626" stroke-width="0.22">5</text>
<text x="653.95" y="50.8" font-size="6.7" font-weight="normal" text-anchor="middle" fill="#262626" stroke="#262626" stroke-width="0.22">10</text>
<rect x="535.75" y="52.55" width="123.9" height="7.4" fill="#e1e1e1" stroke="#454545" stroke-width="1.1"/>
<rect x="536.2" y="56" width="10.5" height="2" rx="1" fill="#969696" filter="url(#bl)"/>
<rect x="548.7" y="56" width="10.5" height="2" rx="1" fill="#969696" filter="url(#bl)"/>
<rect x="561.2" y="56" width="10.5" height="2" rx="1" fill="#969696" filter="url(#bl)"/>
<rect x="573.7" y="56" width="10.5" height="2" rx="1" fill="#969696" filter="url(#bl)"/>
<rect x="586.2" y="56" width="10.5" height="2" rx="1" fill="#969696" filter="url(#bl)"/>
<rect x="598.7" y="56" width="10.5" height="2" rx="1" fill="#969696" filter="url(#bl)"/>
<rect x="611.2" y="56" width="10.5" height="2" rx="1" fill="#969696" filter="url(#bl)"/>
<rect x="623.7" y="56" width="10.5" height="2" rx="1" fill="#969696" filter="url(#bl)"/>
<rect x="636.2" y="56" width="10.5" height="2" rx="1" fill="#969696" filter="url(#bl)"/>
<rect x="648.7" y="56" width="10.5" height="2" rx="1" fill="#969696" filter="url(#bl)"/>
<text x="531.9" y="57.55" font-size="6.4" font-weight="normal" text-anchor="end" fill="#262626" stroke="#262626" stroke-width="0.22">100</text>
<line x1="533.4" y1="55.3" x2="535.2" y2="55.3" stroke="#333" stroke-width="1"/>
<text x="664.2" y="58.9" font-size="6.7" font-weight="normal" text-anchor="start" fill="#303030" stroke="#303030" stroke-width="0.22">HSP90</text>
<rect x="535.75" y="62.85" width="123.9" height="7.1" fill="#e1e1e1" stroke="#454545" stroke-width="1.1"/>
<rect x="536.2" y="65.1" width="10.5" height="2" rx="1" fill="#242424" filter="url(#bl)"/>
<rect x="548.7" y="65.1" width="10.5" height="2" rx="1" fill="#2a2a2a" filter="url(#bl)"/>
<rect x="561.2" y="65.1" width="10.5" height="2" rx="1" fill="#313131" filter="url(#bl)"/>
<rect x="573.7" y="65.1" width="10.5" height="2" rx="1" fill="#393939" filter="url(#bl)"/>
<rect x="586.2" y="65.1" width="10.5" height="2" rx="1" fill="#393939" filter="url(#bl)"/>
<rect x="598.7" y="65.1" width="10.5" height="2" rx="1" fill="#5c5c5c" filter="url(#bl)"/>
<rect x="611.2" y="65.1" width="10.5" height="2" rx="1" fill="#5c5c5c" filter="url(#bl)"/>
<rect x="623.7" y="65.1" width="10.5" height="2" rx="1" fill="#5c5c5c" filter="url(#bl)"/>
<rect x="636.2" y="65.1" width="10.5" height="2" rx="1" fill="#5c5c5c" filter="url(#bl)"/>
<rect x="648.7" y="65.1" width="10.5" height="2" rx="1" fill="#575757" filter="url(#bl)"/>
<text x="531.9" y="68.35" font-size="6.4" font-weight="normal" text-anchor="end" fill="#262626" stroke="#262626" stroke-width="0.22">70</text>
<line x1="533.4" y1="66.1" x2="535.2" y2="66.1" stroke="#333" stroke-width="1"/>
<text x="664.2" y="68.9" font-size="6.7" font-weight="normal" text-anchor="start" fill="#303030" stroke="#303030" stroke-width="0.22">HSP70</text>
<rect x="535.75" y="72.85" width="123.9" height="7.1" fill="#e1e1e1" stroke="#454545" stroke-width="1.1"/>
<rect x="536.2" y="75.9" width="10.5" height="1.8" rx="0.9" fill="#b6b6b6" filter="url(#bl)"/>
<rect x="548.7" y="75.9" width="10.5" height="1.8" rx="0.9" fill="#bababa" filter="url(#bl)"/>
<rect x="561.2" y="75.9" width="10.5" height="1.8" rx="0.9" fill="#b2b2b2" filter="url(#bl)"/>
<rect x="573.7" y="75.9" width="10.5" height="1.8" rx="0.9" fill="#a5a5a5" filter="url(#bl)"/>
<rect x="586.2" y="75.9" width="10.5" height="1.8" rx="0.9" fill="#a0a0a0" filter="url(#bl)"/>
<rect x="598.7" y="75.9" width="10.5" height="1.8" rx="0.9" fill="#393939" filter="url(#bl)"/>
<rect x="611.2" y="75.9" width="10.5" height="1.8" rx="0.9" fill="#393939" filter="url(#bl)"/>
<rect x="623.7" y="75.9" width="10.5" height="1.8" rx="0.9" fill="#353535" filter="url(#bl)"/>
<rect x="636.2" y="75.9" width="10.5" height="1.8" rx="0.9" fill="#393939" filter="url(#bl)"/>
<rect x="648.7" y="75.9" width="10.5" height="1.8" rx="0.9" fill="#393939" filter="url(#bl)"/>
<text x="531.9" y="76.75" font-size="6.4" font-weight="normal" text-anchor="end" fill="#262626" stroke="#262626" stroke-width="0.22">40</text>
<line x1="533.4" y1="74.5" x2="535.2" y2="74.5" stroke="#333" stroke-width="1"/>
<text x="664.2" y="78.9" font-size="6.7" font-weight="normal" text-anchor="start" fill="#303030" stroke="#303030" stroke-width="0.22">HSP40</text>
<rect x="535.75" y="82.95" width="123.9" height="7.3" fill="#e1e1e1" stroke="#454545" stroke-width="1.1"/>
<rect x="536.2" y="85.25" width="10.5" height="2.5" rx="1.2" fill="#0a0a0a" filter="url(#bl)"/>
<rect x="548.7" y="85.25" width="10.5" height="2.5" rx="1.2" fill="#0a0a0a" filter="url(#bl)"/>
<rect x="561.2" y="85.25" width="10.5" height="2.5" rx="1.2" fill="#0a0a0a" filter="url(#bl)"/>
<rect x="573.7" y="85.25" width="10.5" height="2.5" rx="1.2" fill="#0a0a0a" filter="url(#bl)"/>
<rect x="586.2" y="85.25" width="10.5" height="2.5" rx="1.2" fill="#0a0a0a" filter="url(#bl)"/>
<rect x="598.7" y="85.25" width="10.5" height="2.5" rx="1.2" fill="#0a0a0a" filter="url(#bl)"/>
<rect x="611.2" y="85.25" width="10.5" height="2.5" rx="1.2" fill="#0a0a0a" filter="url(#bl)"/>
<rect x="623.7" y="85.25" width="10.5" height="2.5" rx="1.2" fill="#0a0a0a" filter="url(#bl)"/>
<rect x="636.2" y="85.25" width="10.5" height="2.5" rx="1.2" fill="#0a0a0a" filter="url(#bl)"/>
<rect x="648.7" y="85.25" width="10.5" height="2.5" rx="1.2" fill="#0a0a0a" filter="url(#bl)"/>
<rect x="536.45" y="88.45" width="10" height="1.1" fill="#c1c1c1" filter="url(#bl)"/>
<rect x="548.95" y="88.45" width="10" height="1.1" fill="#b6b6b6" filter="url(#bl)"/>
<rect x="561.45" y="88.45" width="10" height="1.1" fill="#8b8b8b" filter="url(#bl)"/>
<rect x="573.95" y="88.45" width="10" height="1.1" fill="#8b8b8b" filter="url(#bl)"/>
<rect x="586.45" y="88.45" width="10" height="1.1" fill="#8b8b8b" filter="url(#bl)"/>
<rect x="598.95" y="88.45" width="10" height="1.1" fill="#cccccc" filter="url(#bl)"/>
<rect x="611.45" y="88.45" width="10" height="1.1" fill="#cccccc" filter="url(#bl)"/>
<rect x="623.95" y="88.45" width="10" height="1.1" fill="#cccccc" filter="url(#bl)"/>
<rect x="636.45" y="88.45" width="10" height="1.1" fill="#cccccc" filter="url(#bl)"/>
<rect x="648.95" y="88.45" width="10" height="1.1" fill="#cccccc" filter="url(#bl)"/>
<text x="531.9" y="87.75" font-size="6.4" font-weight="normal" text-anchor="end" fill="#262626" stroke="#262626" stroke-width="0.22">40</text>
<line x1="533.4" y1="85.5" x2="535.2" y2="85.5" stroke="#333" stroke-width="1"/>
<text x="664.2" y="88.7" font-size="6.7" font-weight="normal" text-anchor="start" fill="#303030" stroke="#303030" stroke-width="0.22">&#946;-Actin</text>
<rect x="535.75" y="92.95" width="123.9" height="7.6" fill="#e1e1e1" stroke="#454545" stroke-width="1.1"/>
<rect x="536.2" y="95.4" width="10.5" height="1.8" rx="0.9" fill="#8f8f8f" filter="url(#bl)"/>
<rect x="548.7" y="95.4" width="10.5" height="1.8" rx="0.9" fill="#9c9c9c" filter="url(#bl)"/>
<rect x="561.2" y="95.4" width="10.5" height="1.8" rx="0.9" fill="#969696" filter="url(#bl)"/>
<rect x="573.7" y="95.4" width="10.5" height="1.8" rx="0.9" fill="#a0a0a0" filter="url(#bl)"/>
<rect x="586.2" y="95.4" width="10.5" height="1.8" rx="0.9" fill="#a5a5a5" filter="url(#bl)"/>
<rect x="598.7" y="95.4" width="10.5" height="1.8" rx="0.9" fill="#8f8f8f" filter="url(#bl)"/>
<rect x="611.2" y="95.4" width="10.5" height="1.8" rx="0.9" fill="#9c9c9c" filter="url(#bl)"/>
<rect x="623.7" y="95.4" width="10.5" height="1.8" rx="0.9" fill="#a0a0a0" filter="url(#bl)"/>
<rect x="636.2" y="95.4" width="10.5" height="1.8" rx="0.9" fill="#b2b2b2" filter="url(#bl)"/>
<rect x="648.7" y="95.4" width="10.5" height="1.8" rx="0.9" fill="#c7c7c7" filter="url(#bl)"/>
<text x="531.9" y="99.45" font-size="6.4" font-weight="normal" text-anchor="end" fill="#262626" stroke="#262626" stroke-width="0.22">25</text>
<line x1="533.4" y1="97.2" x2="535.2" y2="97.2" stroke="#333" stroke-width="1"/>
<text x="664.2" y="99.9" font-size="6.7" font-weight="normal" text-anchor="start" fill="#303030" stroke="#303030" stroke-width="0.22">HSP27</text>
<line x1="31.5" y1="122.6" x2="31.5" y2="203" stroke="#262626" stroke-width="1"/>
<line x1="31" y1="202.5" x2="151" y2="202.5" stroke="#262626" stroke-width="1"/>
<line x1="28" y1="202.5" x2="31.5" y2="202.5" stroke="#262626" stroke-width="0.9"/>
<text x="27.2" y="204.8" font-size="6.4" font-weight="normal" text-anchor="end" fill="#1a1a1a" stroke="#1a1a1a" stroke-width="0.2">0</text>
<line x1="28" y1="175.87" x2="31.5" y2="175.87" stroke="#262626" stroke-width="0.9"/>
<text x="27.2" y="178.17" font-size="6.4" font-weight="normal" text-anchor="end" fill="#1a1a1a" stroke="#1a1a1a" stroke-width="0.2">0.5</text>
<line x1="28" y1="149.23" x2="31.5" y2="149.23" stroke="#262626" stroke-width="0.9"/>
<text x="27.2" y="151.53" font-size="6.4" font-weight="normal" text-anchor="end" fill="#1a1a1a" stroke="#1a1a1a" stroke-width="0.2">1.0</text>
<line x1="28" y1="122.6" x2="31.5" y2="122.6" stroke="#262626" stroke-width="0.9"/>
<text x="27.2" y="124.9" font-size="6.4" font-weight="normal" text-anchor="end" fill="#1a1a1a" stroke="#1a1a1a" stroke-width="0.2">1.5</text>
<line x1="38.5" y1="143.91" x2="38.5" y2="149.5" stroke="#5a5a5a" stroke-width="0.85"/>
<line x1="36.7" y1="143.91" x2="40.3" y2="143.91" stroke="#555" stroke-width="0.95"/>
<rect x="35.5" y="149.5" width="6" height="53" fill="#b6b7b6" stroke="#585858" stroke-width="1"/>
<line x1="38.5" y1="202.5" x2="38.5" y2="204.9" stroke="#262626" stroke-width="0.9"/>
<line x1="49.5" y1="182.79" x2="49.5" y2="184.5" stroke="#5a5a5a" stroke-width="0.85"/>
<line x1="47.7" y1="182.79" x2="51.3" y2="182.79" stroke="#555" stroke-width="0.95"/>
<rect x="46.5" y="184.5" width="6" height="18" fill="#b6b7b6" stroke="#585858" stroke-width="1"/>
<line x1="49.5" y1="202.5" x2="49.5" y2="204.9" stroke="#262626" stroke-width="0.9"/>
<polygon points="49.5,176.29 50.06,177.42 51.31,177.6 50.4,178.48 50.62,179.73 49.5,179.14 48.38,179.73 48.6,178.48 47.69,177.6 48.94,177.42" fill="#3a3a3a"/>
<polygon points="49.5,172.54 50.06,173.67 51.31,173.85 50.4,174.73 50.62,175.98 49.5,175.39 48.38,175.98 48.6,174.73 47.69,173.85 48.94,173.67" fill="#3a3a3a"/>
<polygon points="49.5,168.79 50.06,169.92 51.31,170.1 50.4,170.98 50.62,172.23 49.5,171.64 48.38,172.23 48.6,170.98 47.69,170.1 48.94,169.92" fill="#3a3a3a"/>
<polygon points="49.5,165.04 50.06,166.17 51.31,166.35 50.4,167.23 50.62,168.48 49.5,167.89 48.38,168.48 48.6,167.23 47.69,166.35 48.94,166.17" fill="#3a3a3a"/>
<line x1="60.5" y1="183.32" x2="60.5" y2="185.5" stroke="#5a5a5a" stroke-width="0.85"/>
<line x1="58.7" y1="183.32" x2="62.3" y2="183.32" stroke="#555" stroke-width="0.95"/>
<rect x="57.5" y="185.5" width="6" height="17" fill="#b6b7b6" stroke="#585858" stroke-width="1"/>
<line x1="60.5" y1="202.5" x2="60.5" y2="204.9" stroke="#262626" stroke-width="0.9"/>
<polygon points="60.5,176.82 61.06,177.96 62.31,178.14 61.4,179.02 61.62,180.26 60.5,179.67 59.38,180.26 59.6,179.02 58.69,178.14 59.94,177.96" fill="#3a3a3a"/>
<polygon points="60.5,173.07 61.06,174.21 62.31,174.39 61.4,175.27 61.62,176.51 60.5,175.92 59.38,176.51 59.6,175.27 58.69,174.39 59.94,174.21" fill="#3a3a3a"/>
<polygon points="60.5,169.32 61.06,170.46 62.31,170.64 61.4,171.52 61.62,172.76 60.5,172.17 59.38,172.76 59.6,171.52 58.69,170.64 59.94,170.46" fill="#3a3a3a"/>
<polygon points="60.5,165.57 61.06,166.71 62.31,166.89 61.4,167.77 61.62,169.01 60.5,168.42 59.38,169.01 59.6,167.77 58.69,166.89 59.94,166.71" fill="#3a3a3a"/>
<line x1="71.5" y1="186.5" x2="71.5" y2="187.5" stroke="#5a5a5a" stroke-width="0.85"/>
<line x1="69.7" y1="186.5" x2="73.3" y2="186.5" stroke="#555" stroke-width="0.95"/>
<rect x="68.5" y="187.5" width="6" height="15" fill="#b6b7b6" stroke="#585858" stroke-width="1"/>
<line x1="71.5" y1="202.5" x2="71.5" y2="204.9" stroke="#262626" stroke-width="0.9"/>
<polygon points="71.5,180 72.06,181.13 73.31,181.31 72.4,182.19 72.62,183.44 71.5,182.85 70.38,183.44 70.6,182.19 69.69,181.31 70.94,181.13" fill="#3a3a3a"/>
<polygon points="71.5,176.25 72.06,177.38 73.31,177.56 72.4,178.44 72.62,179.69 71.5,179.1 70.38,179.69 70.6,178.44 69.69,177.56 70.94,177.38" fill="#3a3a3a"/>
<polygon points="71.5,172.5 72.06,173.63 73.31,173.81 72.4,174.69 72.62,175.94 71.5,175.35 70.38,175.94 70.6,174.69 69.69,173.81 70.94,173.63" fill="#3a3a3a"/>
<polygon points="71.5,168.75 72.06,169.88 73.31,170.06 72.4,170.94 72.62,172.19 71.5,171.6 70.38,172.19 70.6,170.94 69.69,170.06 70.94,169.88" fill="#3a3a3a"/>
<line x1="82.2" y1="182.26" x2="82.2" y2="185.5" stroke="#5a5a5a" stroke-width="0.85"/>
<line x1="80.4" y1="182.26" x2="84" y2="182.26" stroke="#555" stroke-width="0.95"/>
<rect x="79.2" y="185.5" width="6" height="17" fill="#b6b7b6" stroke="#585858" stroke-width="1"/>
<line x1="82.2" y1="202.5" x2="82.2" y2="204.9" stroke="#262626" stroke-width="0.9"/>
<polygon points="82.2,175.76 82.76,176.89 84.01,177.07 83.1,177.95 83.32,179.2 82.2,178.61 81.08,179.2 81.3,177.95 80.39,177.07 81.64,176.89" fill="#3a3a3a"/>
<polygon points="82.2,172.01 82.76,173.14 84.01,173.32 83.1,174.2 83.32,175.45 82.2,174.86 81.08,175.45 81.3,174.2 80.39,173.32 81.64,173.14" fill="#3a3a3a"/>
<polygon points="82.2,168.26 82.76,169.39 84.01,169.57 83.1,170.45 83.32,171.7 82.2,171.11 81.08,171.7 81.3,170.45 80.39,169.57 81.64,169.39" fill="#3a3a3a"/>
<polygon points="82.2,164.51 82.76,165.64 84.01,165.82 83.1,166.7 83.32,167.95 82.2,167.36 81.08,167.95 81.3,166.7 80.39,165.82 81.64,165.64" fill="#3a3a3a"/>
<line x1="99.9" y1="141.78" x2="99.9" y2="149.5" stroke="#5a5a5a" stroke-width="0.85"/>
<line x1="98.1" y1="141.78" x2="101.7" y2="141.78" stroke="#555" stroke-width="0.95"/>
<rect x="96.9" y="149.5" width="6" height="53" fill="#cea5a4" stroke="#585858" stroke-width="1"/>
<line x1="99.9" y1="202.5" x2="99.9" y2="204.9" stroke="#262626" stroke-width="0.9"/>
<line x1="110.8" y1="181.19" x2="110.8" y2="182.5" stroke="#5a5a5a" stroke-width="0.85"/>
<line x1="109" y1="181.19" x2="112.6" y2="181.19" stroke="#555" stroke-width="0.95"/>
<rect x="107.8" y="182.5" width="6" height="20" fill="#cea5a4" stroke="#585858" stroke-width="1"/>
<line x1="110.8" y1="202.5" x2="110.8" y2="204.9" stroke="#262626" stroke-width="0.9"/>
<polygon points="110.8,174.69 111.36,175.82 112.61,176.01 111.7,176.89 111.92,178.13 110.8,177.54 109.68,178.13 109.9,176.89 108.99,176.01 110.24,175.82" fill="#3a3a3a"/>
<polygon points="110.8,170.94 111.36,172.07 112.61,172.26 111.7,173.14 111.92,174.38 110.8,173.79 109.68,174.38 109.9,173.14 108.99,172.26 110.24,172.07" fill="#3a3a3a"/>
<polygon points="110.8,167.19 111.36,168.32 112.61,168.51 111.7,169.39 111.92,170.63 110.8,170.04 109.68,170.63 109.9,169.39 108.99,168.51 110.24,168.32" fill="#3a3a3a"/>
<polygon points="110.8,163.44 111.36,164.57 112.61,164.76 111.7,165.64 111.92,166.88 110.8,166.29 109.68,166.88 109.9,165.64 108.99,164.76 110.24,164.57" fill="#3a3a3a"/>
<rect x="118.7" y="180.5" width="6" height="22" fill="#cea5a4" stroke="#585858" stroke-width="1"/>
<line x1="121.7" y1="202.5" x2="121.7" y2="204.9" stroke="#262626" stroke-width="0.9"/>
<polygon points="121.7,173.63 122.26,174.76 123.51,174.94 122.6,175.82 122.82,177.07 121.7,176.48 120.58,177.07 120.8,175.82 119.89,174.94 121.14,174.76" fill="#3a3a3a"/>
<polygon points="121.7,169.88 122.26,171.01 123.51,171.19 122.6,172.07 122.82,173.32 121.7,172.73 120.58,173.32 120.8,172.07 119.89,171.19 121.14,171.01" fill="#3a3a3a"/>
<polygon points="121.7,166.13 122.26,167.26 123.51,167.44 122.6,168.32 122.82,169.57 121.7,168.98 120.58,169.57 120.8,168.32 119.89,167.44 121.14,167.26" fill="#3a3a3a"/>
<polygon points="121.7,162.38 122.26,163.51 123.51,163.69 122.6,164.57 122.82,165.82 121.7,165.23 120.58,165.82 120.8,164.57 119.89,163.69 121.14,163.51" fill="#3a3a3a"/>
<line x1="132.6" y1="176.93" x2="132.6" y2="179.5" stroke="#5a5a5a" stroke-width="0.85"/>
<line x1="130.8" y1="176.93" x2="134.4" y2="176.93" stroke="#555" stroke-width="0.95"/>
<rect x="129.6" y="179.5" width="6" height="23" fill="#cea5a4" stroke="#585858" stroke-width="1"/>
<line x1="132.6" y1="202.5" x2="132.6" y2="204.9" stroke="#262626" stroke-width="0.9"/>
<polygon points="132.6,170.43 133.16,171.56 134.41,171.74 133.5,172.63 133.72,173.87 132.6,173.28 131.48,173.87 131.7,172.63 130.79,171.74 132.04,171.56" fill="#3a3a3a"/>
<polygon points="132.6,166.68 133.16,167.81 134.41,167.99 133.5,168.88 133.72,170.12 132.6,169.53 131.48,170.12 131.7,168.88 130.79,167.99 132.04,167.81" fill="#3a3a3a"/>
<polygon points="132.6,162.93 133.16,164.06 134.41,164.24 133.5,165.13 133.72,166.37 132.6,165.78 131.48,166.37 131.7,165.13 130.79,164.24 132.04,164.06" fill="#3a3a3a"/>
<polygon points="132.6,159.18 133.16,160.31 134.41,160.49 133.5,161.38 133.72,162.62 132.6,162.03 131.48,162.62 131.7,161.38 130.79,160.49 132.04,160.31" fill="#3a3a3a"/>
<line x1="143.5" y1="179.6" x2="143.5" y2="182.5" stroke="#5a5a5a" stroke-width="0.85"/>
<line x1="141.7" y1="179.6" x2="145.3" y2="179.6" stroke="#555" stroke-width="0.95"/>
<rect x="140.5" y="182.5" width="6" height="20" fill="#cea5a4" stroke="#585858" stroke-width="1"/>
<line x1="143.5" y1="202.5" x2="143.5" y2="204.9" stroke="#262626" stroke-width="0.9"/>
<polygon points="143.5,173.1 144.06,174.23 145.31,174.41 144.4,175.29 144.62,176.53 143.5,175.95 142.38,176.53 142.6,175.29 141.69,174.41 142.94,174.23" fill="#3a3a3a"/>
<polygon points="143.5,169.35 144.06,170.48 145.31,170.66 144.4,171.54 144.62,172.78 143.5,172.2 142.38,172.78 142.6,171.54 141.69,170.66 142.94,170.48" fill="#3a3a3a"/>
<polygon points="143.5,165.6 144.06,166.73 145.31,166.91 144.4,167.79 144.62,169.03 143.5,168.45 142.38,169.03 142.6,167.79 141.69,166.91 142.94,166.73" fill="#3a3a3a"/>
<polygon points="143.5,161.85 144.06,162.98 145.31,163.16 144.4,164.04 144.62,165.28 143.5,164.7 142.38,165.28 142.6,164.04 141.69,163.16 142.94,162.98" fill="#3a3a3a"/>
<text x="40.8" y="210.3" font-size="6.1" font-weight="bold" text-anchor="end" fill="#1a1a1a" stroke="#1a1a1a" stroke-width="0.15" transform="rotate(-45 40.8 210.3)">Medium</text>
<text x="51.8" y="210.3" font-size="6.1" font-weight="bold" text-anchor="end" fill="#1a1a1a" stroke="#1a1a1a" stroke-width="0.15" transform="rotate(-45 51.8 210.3)">1</text>
<text x="62.8" y="210.3" font-size="6.1" font-weight="bold" text-anchor="end" fill="#1a1a1a" stroke="#1a1a1a" stroke-width="0.15" transform="rotate(-45 62.8 210.3)">3</text>
<text x="73.8" y="210.3" font-size="6.1" font-weight="bold" text-anchor="end" fill="#1a1a1a" stroke="#1a1a1a" stroke-width="0.15" transform="rotate(-45 73.8 210.3)">5</text>
<text x="84.5" y="210.3" font-size="6.1" font-weight="bold" text-anchor="end" fill="#1a1a1a" stroke="#1a1a1a" stroke-width="0.15" transform="rotate(-45 84.5 210.3)">10</text>
<text x="102.2" y="210.3" font-size="6.1" font-weight="bold" text-anchor="end" fill="#1a1a1a" stroke="#1a1a1a" stroke-width="0.15" transform="rotate(-45 102.2 210.3)">Medium</text>
<text x="113.1" y="210.3" font-size="6.1" font-weight="bold" text-anchor="end" fill="#1a1a1a" stroke="#1a1a1a" stroke-width="0.15" transform="rotate(-45 113.1 210.3)">1</text>
<text x="124" y="210.3" font-size="6.1" font-weight="bold" text-anchor="end" fill="#1a1a1a" stroke="#1a1a1a" stroke-width="0.15" transform="rotate(-45 124 210.3)">3</text>
<text x="134.9" y="210.3" font-size="6.1" font-weight="bold" text-anchor="end" fill="#1a1a1a" stroke="#1a1a1a" stroke-width="0.15" transform="rotate(-45 134.9 210.3)">5</text>
<text x="145.8" y="210.3" font-size="6.1" font-weight="bold" text-anchor="end" fill="#1a1a1a" stroke="#1a1a1a" stroke-width="0.15" transform="rotate(-45 145.8 210.3)">10</text>
<line x1="47" y1="216.5" x2="84.2" y2="216.5" stroke="#7c7c7c" stroke-width="0.9"/>
<text x="65.6" y="224" font-size="6" font-weight="bold" text-anchor="middle" fill="#1a1a1a" stroke="#1a1a1a" stroke-width="0.15">17-AAG</text>
<text x="65.6" y="230.5" font-size="6" font-weight="bold" text-anchor="middle" fill="#1a1a1a" stroke="#1a1a1a" stroke-width="0.15">[&#956;M]</text>
<line x1="108.3" y1="216.5" x2="145.5" y2="216.5" stroke="#7c7c7c" stroke-width="0.9"/>
<text x="126.9" y="224" font-size="6" font-weight="bold" text-anchor="middle" fill="#1a1a1a" stroke="#1a1a1a" stroke-width="0.15">17-AAG [&#956;M]</text>
<text x="7.1" y="162.55" font-size="6.85" font-weight="bold" text-anchor="middle" fill="#1a1a1a" stroke="#1a1a1a" stroke-width="0.15" transform="rotate(-90 7.1 162.55)">fold of control</text>
<text x="14.9" y="162.55" font-size="6.7" font-weight="bold" text-anchor="middle" fill="#1a1a1a" stroke="#1a1a1a" stroke-width="0.15" transform="rotate(-90 14.9 162.55)">[ULK1/Vinculin]</text>
<line x1="31.5" y1="233.6" x2="31.5" y2="313" stroke="#262626" stroke-width="1"/>
<line x1="31" y1="312.5" x2="151" y2="312.5" stroke="#262626" stroke-width="1"/>
<line x1="28" y1="312.5" x2="31.5" y2="312.5" stroke="#262626" stroke-width="0.9"/>
<text x="27.2" y="314.8" font-size="6.4" font-weight="normal" text-anchor="end" fill="#1a1a1a" stroke="#1a1a1a" stroke-width="0.2">0</text>
<line x1="28" y1="286.2" x2="31.5" y2="286.2" stroke="#262626" stroke-width="0.9"/>
<text x="27.2" y="288.5" font-size="6.4" font-weight="normal" text-anchor="end" fill="#1a1a1a" stroke="#1a1a1a" stroke-width="0.2">0.5</text>
<line x1="28" y1="259.9" x2="31.5" y2="259.9" stroke="#262626" stroke-width="0.9"/>
<text x="27.2" y="262.2" font-size="6.4" font-weight="normal" text-anchor="end" fill="#1a1a1a" stroke="#1a1a1a" stroke-width="0.2">1.0</text>
<line x1="28" y1="233.6" x2="31.5" y2="233.6" stroke="#262626" stroke-width="0.9"/>
<text x="27.2" y="235.9" font-size="6.4" font-weight="normal" text-anchor="end" fill="#1a1a1a" stroke="#1a1a1a" stroke-width="0.2">1.5</text>
<line x1="38.5" y1="254.64" x2="38.5" y2="259.5" stroke="#5a5a5a" stroke-width="0.85"/>
<line x1="36.7" y1="254.64" x2="40.3" y2="254.64" stroke="#555" stroke-width="0.95"/>
<rect x="35.5" y="259.5" width="6" height="53" fill="#b6b7b6" stroke="#585858" stroke-width="1"/>
<line x1="38.5" y1="312.5" x2="38.5" y2="314.9" stroke="#262626" stroke-width="0.9"/>
<line x1="49.5" y1="282.52" x2="49.5" y2="286.5" stroke="#5a5a5a" stroke-width="0.85"/>
<line x1="47.7" y1="282.52" x2="51.3" y2="282.52" stroke="#555" stroke-width="0.95"/>
<rect x="46.5" y="286.5" width="6" height="26" fill="#b6b7b6" stroke="#585858" stroke-width="1"/>
<line x1="49.5" y1="312.5" x2="49.5" y2="314.9" stroke="#262626" stroke-width="0.9"/>
<polygon points="49.5,276.02 50.06,277.15 51.31,277.33 50.4,278.21 50.62,279.46 49.5,278.87 48.38,279.46 48.6,278.21 47.69,277.33 48.94,277.15" fill="#3a3a3a"/>
<polygon points="49.5,272.27 50.06,273.4 51.31,273.58 50.4,274.46 50.62,275.71 49.5,275.12 48.38,275.71 48.6,274.46 47.69,273.58 48.94,273.4" fill="#3a3a3a"/>
<polygon points="49.5,268.52 50.06,269.65 51.31,269.83 50.4,270.71 50.62,271.96 49.5,271.37 48.38,271.96 48.6,270.71 47.69,269.83 48.94,269.65" fill="#3a3a3a"/>
<polygon points="49.5,264.77 50.06,265.9 51.31,266.08 50.4,266.96 50.62,268.21 49.5,267.62 48.38,268.21 48.6,266.96 47.69,266.08 48.94,265.9" fill="#3a3a3a"/>
<line x1="60.5" y1="288.3" x2="60.5" y2="289.5" stroke="#5a5a5a" stroke-width="0.85"/>
<line x1="58.7" y1="288.3" x2="62.3" y2="288.3" stroke="#555" stroke-width="0.95"/>
<rect x="57.5" y="289.5" width="6" height="23" fill="#b6b7b6" stroke="#585858" stroke-width="1"/>
<line x1="60.5" y1="312.5" x2="60.5" y2="314.9" stroke="#262626" stroke-width="0.9"/>
<polygon points="60.5,281.8 61.06,282.94 62.31,283.12 61.4,284 61.62,285.24 60.5,284.65 59.38,285.24 59.6,284 58.69,283.12 59.94,282.94" fill="#3a3a3a"/>
<polygon points="60.5,278.05 61.06,279.19 62.31,279.37 61.4,280.25 61.62,281.49 60.5,280.9 59.38,281.49 59.6,280.25 58.69,279.37 59.94,279.19" fill="#3a3a3a"/>
<polygon points="60.5,274.3 61.06,275.44 62.31,275.62 61.4,276.5 61.62,277.74 60.5,277.15 59.38,277.74 59.6,276.5 58.69,275.62 59.94,275.44" fill="#3a3a3a"/>
<polygon points="60.5,270.55 61.06,271.69 62.31,271.87 61.4,272.75 61.62,273.99 60.5,273.4 59.38,273.99 59.6,272.75 58.69,271.87 59.94,271.69" fill="#3a3a3a"/>
<line x1="71.5" y1="287.5" x2="71.5" y2="288.5" stroke="#5a5a5a" stroke-width="0.85"/>
<line x1="69.7" y1="287.5" x2="73.3" y2="287.5" stroke="#555" stroke-width="0.95"/>
<rect x="68.5" y="288.5" width="6" height="24" fill="#b6b7b6" stroke="#585858" stroke-width="1"/>
<line x1="71.5" y1="312.5" x2="71.5" y2="314.9" stroke="#262626" stroke-width="0.9"/>
<polygon points="71.5,281 72.06,282.13 73.31,282.31 72.4,283.19 72.62,284.44 71.5,283.85 70.38,284.44 70.6,283.19 69.69,282.31 70.94,282.13" fill="#3a3a3a"/>
<polygon points="71.5,277.25 72.06,278.38 73.31,278.56 72.4,279.44 72.62,280.69 71.5,280.1 70.38,280.69 70.6,279.44 69.69,278.56 70.94,278.38" fill="#3a3a3a"/>
<polygon points="71.5,273.5 72.06,274.63 73.31,274.81 72.4,275.69 72.62,276.94 71.5,276.35 70.38,276.94 70.6,275.69 69.69,274.81 70.94,274.63" fill="#3a3a3a"/>
<polygon points="71.5,269.75 72.06,270.88 73.31,271.06 72.4,271.94 72.62,273.19 71.5,272.6 70.38,273.19 70.6,271.94 69.69,271.06 70.94,270.88" fill="#3a3a3a"/>
<line x1="82.2" y1="283.57" x2="82.2" y2="286.5" stroke="#5a5a5a" stroke-width="0.85"/>
<line x1="80.4" y1="283.57" x2="84" y2="283.57" stroke="#555" stroke-width="0.95"/>
<rect x="79.2" y="286.5" width="6" height="26" fill="#b6b7b6" stroke="#585858" stroke-width="1"/>
<line x1="82.2" y1="312.5" x2="82.2" y2="314.9" stroke="#262626" stroke-width="0.9"/>
<polygon points="82.2,277.07 82.76,278.2 84.01,278.38 83.1,279.26 83.32,280.51 82.2,279.92 81.08,280.51 81.3,279.26 80.39,278.38 81.64,278.2" fill="#3a3a3a"/>
<polygon points="82.2,273.32 82.76,274.45 84.01,274.63 83.1,275.51 83.32,276.76 82.2,276.17 81.08,276.76 81.3,275.51 80.39,274.63 81.64,274.45" fill="#3a3a3a"/>
<polygon points="82.2,269.57 82.76,270.7 84.01,270.88 83.1,271.76 83.32,273.01 82.2,272.42 81.08,273.01 81.3,271.76 80.39,270.88 81.64,270.7" fill="#3a3a3a"/>
<polygon points="82.2,265.82 82.76,266.95 84.01,267.13 83.1,268.01 83.32,269.26 82.2,268.67 81.08,269.26 81.3,268.01 80.39,267.13 81.64,266.95" fill="#3a3a3a"/>
<line x1="99.9" y1="257.27" x2="99.9" y2="259.5" stroke="#5a5a5a" stroke-width="0.85"/>
<line x1="98.1" y1="257.27" x2="101.7" y2="257.27" stroke="#555" stroke-width="0.95"/>
<rect x="96.9" y="259.5" width="6" height="53" fill="#cea5a4" stroke="#585858" stroke-width="1"/>
<line x1="99.9" y1="312.5" x2="99.9" y2="314.9" stroke="#262626" stroke-width="0.9"/>
<line x1="110.8" y1="271.47" x2="110.8" y2="276.5" stroke="#5a5a5a" stroke-width="0.85"/>
<line x1="109" y1="271.47" x2="112.6" y2="271.47" stroke="#555" stroke-width="0.95"/>
<rect x="107.8" y="276.5" width="6" height="36" fill="#cea5a4" stroke="#585858" stroke-width="1"/>
<line x1="110.8" y1="312.5" x2="110.8" y2="314.9" stroke="#262626" stroke-width="0.9"/>
<polygon points="110.8,264.97 111.36,266.1 112.61,266.28 111.7,267.17 111.92,268.41 110.8,267.82 109.68,268.41 109.9,267.17 108.99,266.28 110.24,266.1" fill="#3a3a3a"/>
<polygon points="110.8,261.22 111.36,262.35 112.61,262.53 111.7,263.42 111.92,264.66 110.8,264.07 109.68,264.66 109.9,263.42 108.99,262.53 110.24,262.35" fill="#3a3a3a"/>
<polygon points="110.8,257.47 111.36,258.6 112.61,258.78 111.7,259.67 111.92,260.91 110.8,260.32 109.68,260.91 109.9,259.67 108.99,258.78 110.24,258.6" fill="#3a3a3a"/>
<line x1="121.7" y1="272" x2="121.7" y2="274.5" stroke="#5a5a5a" stroke-width="0.85"/>
<line x1="119.9" y1="272" x2="123.5" y2="272" stroke="#555" stroke-width="0.95"/>
<rect x="118.7" y="274.5" width="6" height="38" fill="#cea5a4" stroke="#585858" stroke-width="1"/>
<line x1="121.7" y1="312.5" x2="121.7" y2="314.9" stroke="#262626" stroke-width="0.9"/>
<polygon points="121.7,265.5 122.26,266.63 123.51,266.81 122.6,267.69 122.82,268.94 121.7,268.35 120.58,268.94 120.8,267.69 119.89,266.81 121.14,266.63" fill="#3a3a3a"/>
<polygon points="121.7,261.75 122.26,262.88 123.51,263.06 122.6,263.94 122.82,265.19 121.7,264.6 120.58,265.19 120.8,263.94 119.89,263.06 121.14,262.88" fill="#3a3a3a"/>
<line x1="132.6" y1="269.37" x2="132.6" y2="274.5" stroke="#5a5a5a" stroke-width="0.85"/>
<line x1="130.8" y1="269.37" x2="134.4" y2="269.37" stroke="#555" stroke-width="0.95"/>
<rect x="129.6" y="274.5" width="6" height="38" fill="#cea5a4" stroke="#585858" stroke-width="1"/>
<line x1="132.6" y1="312.5" x2="132.6" y2="314.9" stroke="#262626" stroke-width="0.9"/>
<polygon points="132.6,262.87 133.16,264 134.41,264.18 133.5,265.06 133.72,266.31 132.6,265.72 131.48,266.31 131.7,265.06 130.79,264.18 132.04,264" fill="#3a3a3a"/>
<polygon points="132.6,259.12 133.16,260.25 134.41,260.43 133.5,261.31 133.72,262.56 132.6,261.97 131.48,262.56 131.7,261.31 130.79,260.43 132.04,260.25" fill="#3a3a3a"/>
<line x1="143.5" y1="276.73" x2="143.5" y2="280.5" stroke="#5a5a5a" stroke-width="0.85"/>
<line x1="141.7" y1="276.73" x2="145.3" y2="276.73" stroke="#555" stroke-width="0.95"/>
<rect x="140.5" y="280.5" width="6" height="32" fill="#cea5a4" stroke="#585858" stroke-width="1"/>
<line x1="143.5" y1="312.5" x2="143.5" y2="314.9" stroke="#262626" stroke-width="0.9"/>
<polygon points="143.5,270.23 144.06,271.36 145.31,271.54 144.4,272.43 144.62,273.67 143.5,273.08 142.38,273.67 142.6,272.43 141.69,271.54 142.94,271.36" fill="#3a3a3a"/>
<polygon points="143.5,266.48 144.06,267.61 145.31,267.79 144.4,268.68 144.62,269.92 143.5,269.33 142.38,269.92 142.6,268.68 141.69,267.79 142.94,267.61" fill="#3a3a3a"/>
<polygon points="143.5,262.73 144.06,263.86 145.31,264.04 144.4,264.93 144.62,266.17 143.5,265.58 142.38,266.17 142.6,264.93 141.69,264.04 142.94,263.86" fill="#3a3a3a"/>
<text x="40.8" y="320.3" font-size="6.1" font-weight="bold" text-anchor="end" fill="#1a1a1a" stroke="#1a1a1a" stroke-width="0.15" transform="rotate(-45 40.8 320.3)">Medium</text>
<text x="51.8" y="320.3" font-size="6.1" font-weight="bold" text-anchor="end" fill="#1a1a1a" stroke="#1a1a1a" stroke-width="0.15" transform="rotate(-45 51.8 320.3)">1</text>
<text x="62.8" y="320.3" font-size="6.1" font-weight="bold" text-anchor="end" fill="#1a1a1a" stroke="#1a1a1a" stroke-width="0.15" transform="rotate(-45 62.8 320.3)">3</text>
<text x="73.8" y="320.3" font-size="6.1" font-weight="bold" text-anchor="end" fill="#1a1a1a" stroke="#1a1a1a" stroke-width="0.15" transform="rotate(-45 73.8 320.3)">5</text>
<text x="84.5" y="320.3" font-size="6.1" font-weight="bold" text-anchor="end" fill="#1a1a1a" stroke="#1a1a1a" stroke-width="0.15" transform="rotate(-45 84.5 320.3)">10</text>
<text x="102.2" y="320.3" font-size="6.1" font-weight="bold" text-anchor="end" fill="#1a1a1a" stroke="#1a1a1a" stroke-width="0.15" transform="rotate(-45 102.2 320.3)">Medium</text>
<text x="113.1" y="320.3" font-size="6.1" font-weight="bold" text-anchor="end" fill="#1a1a1a" stroke="#1a1a1a" stroke-width="0.15" transform="rotate(-45 113.1 320.3)">1</text>
<text x="124" y="320.3" font-size="6.1" font-weight="bold" text-anchor="end" fill="#1a1a1a" stroke="#1a1a1a" stroke-width="0.15" transform="rotate(-45 124 320.3)">3</text>
<text x="134.9" y="320.3" font-size="6.1" font-weight="bold" text-anchor="end" fill="#1a1a1a" stroke="#1a1a1a" stroke-width="0.15" transform="rotate(-45 134.9 320.3)">5</text>
<text x="145.8" y="320.3" font-size="6.1" font-weight="bold" text-anchor="end" fill="#1a1a1a" stroke="#1a1a1a" stroke-width="0.15" transform="rotate(-45 145.8 320.3)">10</text>
<line x1="47" y1="327.5" x2="84.2" y2="327.5" stroke="#7c7c7c" stroke-width="0.9"/>
<text x="65.6" y="335" font-size="6" font-weight="bold" text-anchor="middle" fill="#1a1a1a" stroke="#1a1a1a" stroke-width="0.15">17-AAG</text>
<text x="65.6" y="341.5" font-size="6" font-weight="bold" text-anchor="middle" fill="#1a1a1a" stroke="#1a1a1a" stroke-width="0.15">[&#956;M]</text>
<line x1="108.3" y1="327.5" x2="145.5" y2="327.5" stroke="#7c7c7c" stroke-width="0.9"/>
<text x="126.9" y="335" font-size="6" font-weight="bold" text-anchor="middle" fill="#1a1a1a" stroke="#1a1a1a" stroke-width="0.15">17-AAG [&#956;M]</text>
<text x="7.1" y="273.05" font-size="6.85" font-weight="bold" text-anchor="middle" fill="#1a1a1a" stroke="#1a1a1a" stroke-width="0.15" transform="rotate(-90 7.1 273.05)">fold of control</text>
<text x="14.9" y="273.05" font-size="6.7" font-weight="bold" text-anchor="middle" fill="#1a1a1a" stroke="#1a1a1a" stroke-width="0.15" transform="rotate(-90 14.9 273.05)">[RIPK1/&#946;-Actin]</text>
<line x1="31.5" y1="343.1" x2="31.5" y2="423" stroke="#262626" stroke-width="1"/>
<line x1="31" y1="422.5" x2="151" y2="422.5" stroke="#262626" stroke-width="1"/>
<line x1="28" y1="422.5" x2="31.5" y2="422.5" stroke="#262626" stroke-width="0.9"/>
<text x="27.2" y="424.8" font-size="6.4" font-weight="normal" text-anchor="end" fill="#1a1a1a" stroke="#1a1a1a" stroke-width="0.2">0</text>
<line x1="28" y1="396.03" x2="31.5" y2="396.03" stroke="#262626" stroke-width="0.9"/>
<text x="27.2" y="398.33" font-size="6.4" font-weight="normal" text-anchor="end" fill="#1a1a1a" stroke="#1a1a1a" stroke-width="0.2">0.5</text>
<line x1="28" y1="369.57" x2="31.5" y2="369.57" stroke="#262626" stroke-width="0.9"/>
<text x="27.2" y="371.87" font-size="6.4" font-weight="normal" text-anchor="end" fill="#1a1a1a" stroke="#1a1a1a" stroke-width="0.2">1.0</text>
<line x1="28" y1="343.1" x2="31.5" y2="343.1" stroke="#262626" stroke-width="0.9"/>
<text x="27.2" y="345.4" font-size="6.4" font-weight="normal" text-anchor="end" fill="#1a1a1a" stroke="#1a1a1a" stroke-width="0.2">1.5</text>
<line x1="38.5" y1="362.16" x2="38.5" y2="369.5" stroke="#5a5a5a" stroke-width="0.85"/>
<line x1="36.7" y1="362.16" x2="40.3" y2="362.16" stroke="#555" stroke-width="0.95"/>
<rect x="35.5" y="369.5" width="6" height="53" fill="#b6b7b6" stroke="#585858" stroke-width="1"/>
<line x1="38.5" y1="422.5" x2="38.5" y2="424.9" stroke="#262626" stroke-width="0.9"/>
<line x1="49.5" y1="409.8" x2="49.5" y2="412.5" stroke="#5a5a5a" stroke-width="0.85"/>
<line x1="47.7" y1="409.8" x2="51.3" y2="409.8" stroke="#555" stroke-width="0.95"/>
<rect x="46.5" y="412.5" width="6" height="10" fill="#b6b7b6" stroke="#585858" stroke-width="1"/>
<line x1="49.5" y1="422.5" x2="49.5" y2="424.9" stroke="#262626" stroke-width="0.9"/>
<polygon points="49.5,403.3 50.06,404.43 51.31,404.61 50.4,405.49 50.62,406.73 49.5,406.15 48.38,406.73 48.6,405.49 47.69,404.61 48.94,404.43" fill="#3a3a3a"/>
<polygon points="49.5,399.55 50.06,400.68 51.31,400.86 50.4,401.74 50.62,402.98 49.5,402.4 48.38,402.98 48.6,401.74 47.69,400.86 48.94,400.68" fill="#3a3a3a"/>
<polygon points="49.5,395.8 50.06,396.93 51.31,397.11 50.4,397.99 50.62,399.23 49.5,398.65 48.38,399.23 48.6,397.99 47.69,397.11 48.94,396.93" fill="#3a3a3a"/>
<polygon points="49.5,392.05 50.06,393.18 51.31,393.36 50.4,394.24 50.62,395.48 49.5,394.9 48.38,395.48 48.6,394.24 47.69,393.36 48.94,393.18" fill="#3a3a3a"/>
<line x1="60.5" y1="409.27" x2="60.5" y2="410.5" stroke="#5a5a5a" stroke-width="0.85"/>
<line x1="58.7" y1="409.27" x2="62.3" y2="409.27" stroke="#555" stroke-width="0.95"/>
<rect x="57.5" y="410.5" width="6" height="12" fill="#b6b7b6" stroke="#585858" stroke-width="1"/>
<line x1="60.5" y1="422.5" x2="60.5" y2="424.9" stroke="#262626" stroke-width="0.9"/>
<polygon points="60.5,402.77 61.06,403.9 62.31,404.08 61.4,404.96 61.62,406.2 60.5,405.62 59.38,406.2 59.6,404.96 58.69,404.08 59.94,403.9" fill="#3a3a3a"/>
<polygon points="60.5,399.02 61.06,400.15 62.31,400.33 61.4,401.21 61.62,402.45 60.5,401.87 59.38,402.45 59.6,401.21 58.69,400.33 59.94,400.15" fill="#3a3a3a"/>
<polygon points="60.5,395.27 61.06,396.4 62.31,396.58 61.4,397.46 61.62,398.7 60.5,398.12 59.38,398.7 59.6,397.46 58.69,396.58 59.94,396.4" fill="#3a3a3a"/>
<polygon points="60.5,391.52 61.06,392.65 62.31,392.83 61.4,393.71 61.62,394.95 60.5,394.37 59.38,394.95 59.6,393.71 58.69,392.83 59.94,392.65" fill="#3a3a3a"/>
<line x1="71.5" y1="413.5" x2="71.5" y2="414.5" stroke="#5a5a5a" stroke-width="0.85"/>
<line x1="69.7" y1="413.5" x2="73.3" y2="413.5" stroke="#555" stroke-width="0.95"/>
<rect x="68.5" y="414.5" width="6" height="8" fill="#b6b7b6" stroke="#585858" stroke-width="1"/>
<line x1="71.5" y1="422.5" x2="71.5" y2="424.9" stroke="#262626" stroke-width="0.9"/>
<polygon points="71.5,407 72.06,408.13 73.31,408.31 72.4,409.19 72.62,410.44 71.5,409.85 70.38,410.44 70.6,409.19 69.69,408.31 70.94,408.13" fill="#3a3a3a"/>
<polygon points="71.5,403.25 72.06,404.38 73.31,404.56 72.4,405.44 72.62,406.69 71.5,406.1 70.38,406.69 70.6,405.44 69.69,404.56 70.94,404.38" fill="#3a3a3a"/>
<polygon points="71.5,399.5 72.06,400.63 73.31,400.81 72.4,401.69 72.62,402.94 71.5,402.35 70.38,402.94 70.6,401.69 69.69,400.81 70.94,400.63" fill="#3a3a3a"/>
<polygon points="71.5,395.75 72.06,396.88 73.31,397.06 72.4,397.94 72.62,399.19 71.5,398.6 70.38,399.19 70.6,397.94 69.69,397.06 70.94,396.88" fill="#3a3a3a"/>
<line x1="82.2" y1="410.33" x2="82.2" y2="411.5" stroke="#5a5a5a" stroke-width="0.85"/>
<line x1="80.4" y1="410.33" x2="84" y2="410.33" stroke="#555" stroke-width="0.95"/>
<rect x="79.2" y="411.5" width="6" height="11" fill="#b6b7b6" stroke="#585858" stroke-width="1"/>
<line x1="82.2" y1="422.5" x2="82.2" y2="424.9" stroke="#262626" stroke-width="0.9"/>
<polygon points="82.2,403.83 82.76,404.96 84.01,405.14 83.1,406.02 83.32,407.26 82.2,406.68 81.08,407.26 81.3,406.02 80.39,405.14 81.64,404.96" fill="#3a3a3a"/>
<polygon points="82.2,400.08 82.76,401.21 84.01,401.39 83.1,402.27 83.32,403.51 82.2,402.93 81.08,403.51 81.3,402.27 80.39,401.39 81.64,401.21" fill="#3a3a3a"/>
<polygon points="82.2,396.33 82.76,397.46 84.01,397.64 83.1,398.52 83.32,399.76 82.2,399.18 81.08,399.76 81.3,398.52 80.39,397.64 81.64,397.46" fill="#3a3a3a"/>
<polygon points="82.2,392.58 82.76,393.71 84.01,393.89 83.1,394.77 83.32,396.01 82.2,395.43 81.08,396.01 81.3,394.77 80.39,393.89 81.64,393.71" fill="#3a3a3a"/>
<line x1="99.9" y1="366.39" x2="99.9" y2="369.5" stroke="#5a5a5a" stroke-width="0.85"/>
<line x1="98.1" y1="366.39" x2="101.7" y2="366.39" stroke="#555" stroke-width="0.95"/>
<rect x="96.9" y="369.5" width="6" height="53" fill="#cea5a4" stroke="#585858" stroke-width="1"/>
<line x1="99.9" y1="422.5" x2="99.9" y2="424.9" stroke="#262626" stroke-width="0.9"/>
<line x1="110.8" y1="394.97" x2="110.8" y2="398.5" stroke="#5a5a5a" stroke-width="0.85"/>
<line x1="109" y1="394.97" x2="112.6" y2="394.97" stroke="#555" stroke-width="0.95"/>
<rect x="107.8" y="398.5" width="6" height="24" fill="#cea5a4" stroke="#585858" stroke-width="1"/>
<line x1="110.8" y1="422.5" x2="110.8" y2="424.9" stroke="#262626" stroke-width="0.9"/>
<polygon points="110.8,388.47 111.36,389.61 112.61,389.79 111.7,390.67 111.92,391.91 110.8,391.32 109.68,391.91 109.9,390.67 108.99,389.79 110.24,389.61" fill="#3a3a3a"/>
<polygon points="110.8,384.72 111.36,385.86 112.61,386.04 111.7,386.92 111.92,388.16 110.8,387.57 109.68,388.16 109.9,386.92 108.99,386.04 110.24,385.86" fill="#3a3a3a"/>
<polygon points="110.8,380.97 111.36,382.11 112.61,382.29 111.7,383.17 111.92,384.41 110.8,383.82 109.68,384.41 109.9,383.17 108.99,382.29 110.24,382.11" fill="#3a3a3a"/>
<polygon points="110.8,377.22 111.36,378.36 112.61,378.54 111.7,379.42 111.92,380.66 110.8,380.07 109.68,380.66 109.9,379.42 108.99,378.54 110.24,378.36" fill="#3a3a3a"/>
<line x1="121.7" y1="396.5" x2="121.7" y2="397.5" stroke="#5a5a5a" stroke-width="0.85"/>
<line x1="119.9" y1="396.5" x2="123.5" y2="396.5" stroke="#555" stroke-width="0.95"/>
<rect x="118.7" y="397.5" width="6" height="25" fill="#cea5a4" stroke="#585858" stroke-width="1"/>
<line x1="121.7" y1="422.5" x2="121.7" y2="424.9" stroke="#262626" stroke-width="0.9"/>
<polygon points="121.7,390 122.26,391.13 123.51,391.31 122.6,392.19 122.82,393.44 121.7,392.85 120.58,393.44 120.8,392.19 119.89,391.31 121.14,391.13" fill="#3a3a3a"/>
<polygon points="121.7,386.25 122.26,387.38 123.51,387.56 122.6,388.44 122.82,389.69 121.7,389.1 120.58,389.69 120.8,388.44 119.89,387.56 121.14,387.38" fill="#3a3a3a"/>
<polygon points="121.7,382.5 122.26,383.63 123.51,383.81 122.6,384.69 122.82,385.94 121.7,385.35 120.58,385.94 120.8,384.69 119.89,383.81 121.14,383.63" fill="#3a3a3a"/>
<polygon points="121.7,378.75 122.26,379.88 123.51,380.06 122.6,380.94 122.82,382.19 121.7,381.6 120.58,382.19 120.8,380.94 119.89,380.06 121.14,379.88" fill="#3a3a3a"/>
<line x1="132.6" y1="393.92" x2="132.6" y2="399.5" stroke="#5a5a5a" stroke-width="0.85"/>
<line x1="130.8" y1="393.92" x2="134.4" y2="393.92" stroke="#555" stroke-width="0.95"/>
<rect x="129.6" y="399.5" width="6" height="23" fill="#cea5a4" stroke="#585858" stroke-width="1"/>
<line x1="132.6" y1="422.5" x2="132.6" y2="424.9" stroke="#262626" stroke-width="0.9"/>
<polygon points="132.6,387.42 133.16,388.55 134.41,388.73 133.5,389.61 133.72,390.85 132.6,390.27 131.48,390.85 131.7,389.61 130.79,388.73 132.04,388.55" fill="#3a3a3a"/>
<polygon points="132.6,383.67 133.16,384.8 134.41,384.98 133.5,385.86 133.72,387.1 132.6,386.52 131.48,387.1 131.7,385.86 130.79,384.98 132.04,384.8" fill="#3a3a3a"/>
<polygon points="132.6,379.92 133.16,381.05 134.41,381.23 133.5,382.11 133.72,383.35 132.6,382.77 131.48,383.35 131.7,382.11 130.79,381.23 132.04,381.05" fill="#3a3a3a"/>
<polygon points="132.6,376.17 133.16,377.3 134.41,377.48 133.5,378.36 133.72,379.6 132.6,379.02 131.48,379.6 131.7,378.36 130.79,377.48 132.04,377.3" fill="#3a3a3a"/>
<line x1="143.5" y1="398.68" x2="143.5" y2="401.5" stroke="#5a5a5a" stroke-width="0.85"/>
<line x1="141.7" y1="398.68" x2="145.3" y2="398.68" stroke="#555" stroke-width="0.95"/>
<rect x="140.5" y="401.5" width="6" height="21" fill="#cea5a4" stroke="#585858" stroke-width="1"/>
<line x1="143.5" y1="422.5" x2="143.5" y2="424.9" stroke="#262626" stroke-width="0.9"/>
<polygon points="143.5,392.18 144.06,393.31 145.31,393.49 144.4,394.37 144.62,395.62 143.5,395.03 142.38,395.62 142.6,394.37 141.69,393.49 142.94,393.31" fill="#3a3a3a"/>
<polygon points="143.5,388.43 144.06,389.56 145.31,389.74 144.4,390.62 144.62,391.87 143.5,391.28 142.38,391.87 142.6,390.62 141.69,389.74 142.94,389.56" fill="#3a3a3a"/>
<polygon points="143.5,384.68 144.06,385.81 145.31,385.99 144.4,386.87 144.62,388.12 143.5,387.53 142.38,388.12 142.6,386.87 141.69,385.99 142.94,385.81" fill="#3a3a3a"/>
<polygon points="143.5,380.93 144.06,382.06 145.31,382.24 144.4,383.12 144.62,384.37 143.5,383.78 142.38,384.37 142.6,383.12 141.69,382.24 142.94,382.06" fill="#3a3a3a"/>
<text x="40.8" y="430.3" font-size="6.1" font-weight="bold" text-anchor="end" fill="#1a1a1a" stroke="#1a1a1a" stroke-width="0.15" transform="rotate(-45 40.8 430.3)">Medium</text>
<text x="51.8" y="430.3" font-size="6.1" font-weight="bold" text-anchor="end" fill="#1a1a1a" stroke="#1a1a1a" stroke-width="0.15" transform="rotate(-45 51.8 430.3)">1</text>
<text x="62.8" y="430.3" font-size="6.1" font-weight="bold" text-anchor="end" fill="#1a1a1a" stroke="#1a1a1a" stroke-width="0.15" transform="rotate(-45 62.8 430.3)">3</text>
<text x="73.8" y="430.3" font-size="6.1" font-weight="bold" text-anchor="end" fill="#1a1a1a" stroke="#1a1a1a" stroke-width="0.15" transform="rotate(-45 73.8 430.3)">5</text>
<text x="84.5" y="430.3" font-size="6.1" font-weight="bold" text-anchor="end" fill="#1a1a1a" stroke="#1a1a1a" stroke-width="0.15" transform="rotate(-45 84.5 430.3)">10</text>
<text x="102.2" y="430.3" font-size="6.1" font-weight="bold" text-anchor="end" fill="#1a1a1a" stroke="#1a1a1a" stroke-width="0.15" transform="rotate(-45 102.2 430.3)">Medium</text>
<text x="113.1" y="430.3" font-size="6.1" font-weight="bold" text-anchor="end" fill="#1a1a1a" stroke="#1a1a1a" stroke-width="0.15" transform="rotate(-45 113.1 430.3)">1</text>
<text x="124" y="430.3" font-size="6.1" font-weight="bold" text-anchor="end" fill="#1a1a1a" stroke="#1a1a1a" stroke-width="0.15" transform="rotate(-45 124 430.3)">3</text>
<text x="134.9" y="430.3" font-size="6.1" font-weight="bold" text-anchor="end" fill="#1a1a1a" stroke="#1a1a1a" stroke-width="0.15" transform="rotate(-45 134.9 430.3)">5</text>
<text x="145.8" y="430.3" font-size="6.1" font-weight="bold" text-anchor="end" fill="#1a1a1a" stroke="#1a1a1a" stroke-width="0.15" transform="rotate(-45 145.8 430.3)">10</text>
<line x1="47" y1="437.5" x2="84.2" y2="437.5" stroke="#7c7c7c" stroke-width="0.9"/>
<text x="65.6" y="445" font-size="6" font-weight="bold" text-anchor="middle" fill="#1a1a1a" stroke="#1a1a1a" stroke-width="0.15">17-AAG</text>
<text x="65.6" y="451.5" font-size="6" font-weight="bold" text-anchor="middle" fill="#1a1a1a" stroke="#1a1a1a" stroke-width="0.15">[&#956;M]</text>
<line x1="108.3" y1="437.5" x2="145.5" y2="437.5" stroke="#7c7c7c" stroke-width="0.9"/>
<text x="126.9" y="445" font-size="6" font-weight="bold" text-anchor="middle" fill="#1a1a1a" stroke="#1a1a1a" stroke-width="0.15">17-AAG [&#956;M]</text>
<text x="7.1" y="382.8" font-size="6.85" font-weight="bold" text-anchor="middle" fill="#1a1a1a" stroke="#1a1a1a" stroke-width="0.15" transform="rotate(-90 7.1 382.8)">fold of control</text>
<text x="14.9" y="382.8" font-size="6.7" font-weight="bold" text-anchor="middle" fill="#1a1a1a" stroke="#1a1a1a" stroke-width="0.15" transform="rotate(-90 14.9 382.8)">[CDK4/&#946;-Actin]</text>
<rect x="111.3" y="118.1" width="8.4" height="3.8" fill="#b6b7b6" stroke="#585858" stroke-width="1"/>
<rect x="111.3" y="130.2" width="8.4" height="3.8" fill="#cea5a4" stroke="#585858" stroke-width="1"/>
<text x="125.4" y="123.1" font-size="7.7" font-weight="normal" text-anchor="start" fill="#1e1e1e" stroke="#1e1e1e" stroke-width="0.22">T24</text>
<text x="125.4" y="135.2" font-size="7.7" font-weight="normal" text-anchor="start" fill="#1e1e1e" stroke="#1e1e1e" stroke-width="0.22">T24-CR</text>
<line x1="209.5" y1="122" x2="209.5" y2="202" stroke="#262626" stroke-width="1"/>
<line x1="209" y1="201.5" x2="329" y2="201.5" stroke="#262626" stroke-width="1"/>
<line x1="206" y1="201.5" x2="209.5" y2="201.5" stroke="#262626" stroke-width="0.9"/>
<text x="205.2" y="203.8" font-size="6.4" font-weight="normal" text-anchor="end" fill="#1a1a1a" stroke="#1a1a1a" stroke-width="0.2">0</text>
<line x1="206" y1="175" x2="209.5" y2="175" stroke="#262626" stroke-width="0.9"/>
<text x="205.2" y="177.3" font-size="6.4" font-weight="normal" text-anchor="end" fill="#1a1a1a" stroke="#1a1a1a" stroke-width="0.2">0.5</text>
<line x1="206" y1="148.5" x2="209.5" y2="148.5" stroke="#262626" stroke-width="0.9"/>
<text x="205.2" y="150.8" font-size="6.4" font-weight="normal" text-anchor="end" fill="#1a1a1a" stroke="#1a1a1a" stroke-width="0.2">1.0</text>
<line x1="206" y1="122" x2="209.5" y2="122" stroke="#262626" stroke-width="0.9"/>
<text x="205.2" y="124.3" font-size="6.4" font-weight="normal" text-anchor="end" fill="#1a1a1a" stroke="#1a1a1a" stroke-width="0.2">1.5</text>
<line x1="216.5" y1="145.32" x2="216.5" y2="148.5" stroke="#5a5a5a" stroke-width="0.85"/>
<line x1="214.7" y1="145.32" x2="218.3" y2="145.32" stroke="#555" stroke-width="0.95"/>
<rect x="213.5" y="148.5" width="6" height="53" fill="#b6b7b6" stroke="#585858" stroke-width="1"/>
<line x1="216.5" y1="201.5" x2="216.5" y2="203.9" stroke="#262626" stroke-width="0.9"/>
<line x1="227.5" y1="142.14" x2="227.5" y2="147.5" stroke="#5a5a5a" stroke-width="0.85"/>
<line x1="225.7" y1="142.14" x2="229.3" y2="142.14" stroke="#555" stroke-width="0.95"/>
<rect x="224.5" y="147.5" width="6" height="54" fill="#b6b7b6" stroke="#585858" stroke-width="1"/>
<line x1="227.5" y1="201.5" x2="227.5" y2="203.9" stroke="#262626" stroke-width="0.9"/>
<line x1="238.5" y1="136.31" x2="238.5" y2="142.5" stroke="#5a5a5a" stroke-width="0.85"/>
<line x1="236.7" y1="136.31" x2="240.3" y2="136.31" stroke="#555" stroke-width="0.95"/>
<rect x="235.5" y="142.5" width="6" height="59" fill="#b6b7b6" stroke="#585858" stroke-width="1"/>
<line x1="238.5" y1="201.5" x2="238.5" y2="203.9" stroke="#262626" stroke-width="0.9"/>
<line x1="249.6" y1="140.02" x2="249.6" y2="148.5" stroke="#5a5a5a" stroke-width="0.85"/>
<line x1="247.8" y1="140.02" x2="251.4" y2="140.02" stroke="#555" stroke-width="0.95"/>
<rect x="246.6" y="148.5" width="6" height="53" fill="#b6b7b6" stroke="#585858" stroke-width="1"/>
<line x1="249.6" y1="201.5" x2="249.6" y2="203.9" stroke="#262626" stroke-width="0.9"/>
<line x1="260.5" y1="155.92" x2="260.5" y2="160.5" stroke="#5a5a5a" stroke-width="0.85"/>
<line x1="258.7" y1="155.92" x2="262.3" y2="155.92" stroke="#555" stroke-width="0.95"/>
<rect x="257.5" y="160.5" width="6" height="41" fill="#b6b7b6" stroke="#585858" stroke-width="1"/>
<line x1="260.5" y1="201.5" x2="260.5" y2="203.9" stroke="#262626" stroke-width="0.9"/>
<line x1="278.8" y1="140.55" x2="278.8" y2="148.5" stroke="#5a5a5a" stroke-width="0.85"/>
<line x1="277" y1="140.55" x2="280.6" y2="140.55" stroke="#555" stroke-width="0.95"/>
<rect x="275.8" y="148.5" width="6" height="53" fill="#cea5a4" stroke="#585858" stroke-width="1"/>
<line x1="278.8" y1="201.5" x2="278.8" y2="203.9" stroke="#262626" stroke-width="0.9"/>
<line x1="289.5" y1="145.85" x2="289.5" y2="155.5" stroke="#5a5a5a" stroke-width="0.85"/>
<line x1="287.7" y1="145.85" x2="291.3" y2="145.85" stroke="#555" stroke-width="0.95"/>
<rect x="286.5" y="155.5" width="6" height="46" fill="#cea5a4" stroke="#585858" stroke-width="1"/>
<line x1="289.5" y1="201.5" x2="289.5" y2="203.9" stroke="#262626" stroke-width="0.9"/>
<line x1="300.1" y1="152.21" x2="300.1" y2="156.5" stroke="#5a5a5a" stroke-width="0.85"/>
<line x1="298.3" y1="152.21" x2="301.9" y2="152.21" stroke="#555" stroke-width="0.95"/>
<rect x="297.1" y="156.5" width="6" height="45" fill="#cea5a4" stroke="#585858" stroke-width="1"/>
<line x1="300.1" y1="201.5" x2="300.1" y2="203.9" stroke="#262626" stroke-width="0.9"/>
<line x1="310.8" y1="161.22" x2="310.8" y2="164.5" stroke="#5a5a5a" stroke-width="0.85"/>
<line x1="309" y1="161.22" x2="312.6" y2="161.22" stroke="#555" stroke-width="0.95"/>
<rect x="307.8" y="164.5" width="6" height="37" fill="#cea5a4" stroke="#585858" stroke-width="1"/>
<line x1="310.8" y1="201.5" x2="310.8" y2="203.9" stroke="#262626" stroke-width="0.9"/>
<polygon points="310.8,154.72 311.36,155.85 312.61,156.03 311.7,156.91 311.92,158.16 310.8,157.57 309.68,158.16 309.9,156.91 308.99,156.03 310.24,155.85" fill="#3a3a3a"/>
<line x1="321.7" y1="172.35" x2="321.7" y2="177.5" stroke="#5a5a5a" stroke-width="0.85"/>
<line x1="319.9" y1="172.35" x2="323.5" y2="172.35" stroke="#555" stroke-width="0.95"/>
<rect x="318.7" y="177.5" width="6" height="24" fill="#cea5a4" stroke="#585858" stroke-width="1"/>
<line x1="321.7" y1="201.5" x2="321.7" y2="203.9" stroke="#262626" stroke-width="0.9"/>
<polygon points="321.7,165.85 322.26,166.98 323.51,167.16 322.6,168.04 322.82,169.29 321.7,168.7 320.58,169.29 320.8,168.04 319.89,167.16 321.14,166.98" fill="#3a3a3a"/>
<polygon points="321.7,162.1 322.26,163.23 323.51,163.41 322.6,164.29 322.82,165.54 321.7,164.95 320.58,165.54 320.8,164.29 319.89,163.41 321.14,163.23" fill="#3a3a3a"/>
<polygon points="321.7,158.35 322.26,159.48 323.51,159.66 322.6,160.54 322.82,161.79 321.7,161.2 320.58,161.79 320.8,160.54 319.89,159.66 321.14,159.48" fill="#3a3a3a"/>
<text x="218.8" y="209.3" font-size="6.1" font-weight="bold" text-anchor="end" fill="#1a1a1a" stroke="#1a1a1a" stroke-width="0.15" transform="rotate(-45 218.8 209.3)">Medium</text>
<text x="229.8" y="209.3" font-size="6.1" font-weight="bold" text-anchor="end" fill="#1a1a1a" stroke="#1a1a1a" stroke-width="0.15" transform="rotate(-45 229.8 209.3)">1</text>
<text x="240.8" y="209.3" font-size="6.1" font-weight="bold" text-anchor="end" fill="#1a1a1a" stroke="#1a1a1a" stroke-width="0.15" transform="rotate(-45 240.8 209.3)">3</text>
<text x="251.9" y="209.3" font-size="6.1" font-weight="bold" text-anchor="end" fill="#1a1a1a" stroke="#1a1a1a" stroke-width="0.15" transform="rotate(-45 251.9 209.3)">5</text>
<text x="262.8" y="209.3" font-size="6.1" font-weight="bold" text-anchor="end" fill="#1a1a1a" stroke="#1a1a1a" stroke-width="0.15" transform="rotate(-45 262.8 209.3)">10</text>
<text x="281.1" y="209.3" font-size="6.1" font-weight="bold" text-anchor="end" fill="#1a1a1a" stroke="#1a1a1a" stroke-width="0.15" transform="rotate(-45 281.1 209.3)">Medium</text>
<text x="291.8" y="209.3" font-size="6.1" font-weight="bold" text-anchor="end" fill="#1a1a1a" stroke="#1a1a1a" stroke-width="0.15" transform="rotate(-45 291.8 209.3)">1</text>
<text x="302.4" y="209.3" font-size="6.1" font-weight="bold" text-anchor="end" fill="#1a1a1a" stroke="#1a1a1a" stroke-width="0.15" transform="rotate(-45 302.4 209.3)">3</text>
<text x="313.1" y="209.3" font-size="6.1" font-weight="bold" text-anchor="end" fill="#1a1a1a" stroke="#1a1a1a" stroke-width="0.15" transform="rotate(-45 313.1 209.3)">5</text>
<text x="324" y="209.3" font-size="6.1" font-weight="bold" text-anchor="end" fill="#1a1a1a" stroke="#1a1a1a" stroke-width="0.15" transform="rotate(-45 324 209.3)">10</text>
<line x1="225" y1="216.5" x2="262.5" y2="216.5" stroke="#7c7c7c" stroke-width="0.9"/>
<text x="243.75" y="224" font-size="6" font-weight="bold" text-anchor="middle" fill="#1a1a1a" stroke="#1a1a1a" stroke-width="0.15">VWK147</text>
<text x="243.75" y="230.5" font-size="6" font-weight="bold" text-anchor="middle" fill="#1a1a1a" stroke="#1a1a1a" stroke-width="0.15">[&#956;M]</text>
<line x1="287" y1="216.5" x2="323.7" y2="216.5" stroke="#7c7c7c" stroke-width="0.9"/>
<text x="305.35" y="224" font-size="6" font-weight="bold" text-anchor="middle" fill="#1a1a1a" stroke="#1a1a1a" stroke-width="0.15">VWK147 [&#956;M]</text>
<text x="184.6" y="161.75" font-size="6.85" font-weight="bold" text-anchor="middle" fill="#1a1a1a" stroke="#1a1a1a" stroke-width="0.15" transform="rotate(-90 184.6 161.75)">fold of control</text>
<text x="192.9" y="161.75" font-size="6.7" font-weight="bold" text-anchor="middle" fill="#1a1a1a" stroke="#1a1a1a" stroke-width="0.15" transform="rotate(-90 192.9 161.75)">[ULK1/Tubulin]</text>
<line x1="209.5" y1="233" x2="209.5" y2="312" stroke="#262626" stroke-width="1"/>
<line x1="209" y1="311.5" x2="329" y2="311.5" stroke="#262626" stroke-width="1"/>
<line x1="206" y1="311.5" x2="209.5" y2="311.5" stroke="#262626" stroke-width="0.9"/>
<text x="205.2" y="313.8" font-size="6.4" font-weight="normal" text-anchor="end" fill="#1a1a1a" stroke="#1a1a1a" stroke-width="0.2">0</text>
<line x1="206" y1="285.33" x2="209.5" y2="285.33" stroke="#262626" stroke-width="0.9"/>
<text x="205.2" y="287.63" font-size="6.4" font-weight="normal" text-anchor="end" fill="#1a1a1a" stroke="#1a1a1a" stroke-width="0.2">0.5</text>
<line x1="206" y1="259.17" x2="209.5" y2="259.17" stroke="#262626" stroke-width="0.9"/>
<text x="205.2" y="261.47" font-size="6.4" font-weight="normal" text-anchor="end" fill="#1a1a1a" stroke="#1a1a1a" stroke-width="0.2">1.0</text>
<line x1="206" y1="233" x2="209.5" y2="233" stroke="#262626" stroke-width="0.9"/>
<text x="205.2" y="235.3" font-size="6.4" font-weight="normal" text-anchor="end" fill="#1a1a1a" stroke="#1a1a1a" stroke-width="0.2">1.5</text>
<line x1="216.5" y1="255.5" x2="216.5" y2="259.5" stroke="#5a5a5a" stroke-width="0.85"/>
<line x1="214.7" y1="255.5" x2="218.3" y2="255.5" stroke="#555" stroke-width="0.95"/>
<rect x="213.5" y="259.5" width="6" height="52" fill="#b6b7b6" stroke="#585858" stroke-width="1"/>
<line x1="216.5" y1="311.5" x2="216.5" y2="313.9" stroke="#262626" stroke-width="0.9"/>
<line x1="227.5" y1="252.36" x2="227.5" y2="260.5" stroke="#5a5a5a" stroke-width="0.85"/>
<line x1="225.7" y1="252.36" x2="229.3" y2="252.36" stroke="#555" stroke-width="0.95"/>
<rect x="224.5" y="260.5" width="6" height="51" fill="#b6b7b6" stroke="#585858" stroke-width="1"/>
<line x1="227.5" y1="311.5" x2="227.5" y2="313.9" stroke="#262626" stroke-width="0.9"/>
<line x1="238.5" y1="262.83" x2="238.5" y2="265.5" stroke="#5a5a5a" stroke-width="0.85"/>
<line x1="236.7" y1="262.83" x2="240.3" y2="262.83" stroke="#555" stroke-width="0.95"/>
<rect x="235.5" y="265.5" width="6" height="46" fill="#b6b7b6" stroke="#585858" stroke-width="1"/>
<line x1="238.5" y1="311.5" x2="238.5" y2="313.9" stroke="#262626" stroke-width="0.9"/>
<line x1="249.6" y1="270.16" x2="249.6" y2="274.5" stroke="#5a5a5a" stroke-width="0.85"/>
<line x1="247.8" y1="270.16" x2="251.4" y2="270.16" stroke="#555" stroke-width="0.95"/>
<rect x="246.6" y="274.5" width="6" height="37" fill="#b6b7b6" stroke="#585858" stroke-width="1"/>
<line x1="249.6" y1="311.5" x2="249.6" y2="313.9" stroke="#262626" stroke-width="0.9"/>
<polygon points="249.6,263.66 250.16,264.79 251.41,264.97 250.5,265.85 250.72,267.09 249.6,266.51 248.48,267.09 248.7,265.85 247.79,264.97 249.04,264.79" fill="#3a3a3a"/>
<polygon points="249.6,259.91 250.16,261.04 251.41,261.22 250.5,262.1 250.72,263.34 249.6,262.76 248.48,263.34 248.7,262.1 247.79,261.22 249.04,261.04" fill="#3a3a3a"/>
<line x1="260.5" y1="280.1" x2="260.5" y2="285.5" stroke="#5a5a5a" stroke-width="0.85"/>
<line x1="258.7" y1="280.1" x2="262.3" y2="280.1" stroke="#555" stroke-width="0.95"/>
<rect x="257.5" y="285.5" width="6" height="26" fill="#b6b7b6" stroke="#585858" stroke-width="1"/>
<line x1="260.5" y1="311.5" x2="260.5" y2="313.9" stroke="#262626" stroke-width="0.9"/>
<polygon points="260.5,273.6 261.06,274.73 262.31,274.91 261.4,275.79 261.62,277.04 260.5,276.45 259.38,277.04 259.6,275.79 258.69,274.91 259.94,274.73" fill="#3a3a3a"/>
<polygon points="260.5,269.85 261.06,270.98 262.31,271.16 261.4,272.04 261.62,273.29 260.5,272.7 259.38,273.29 259.6,272.04 258.69,271.16 259.94,270.98" fill="#3a3a3a"/>
<polygon points="260.5,266.1 261.06,267.23 262.31,267.41 261.4,268.29 261.62,269.54 260.5,268.95 259.38,269.54 259.6,268.29 258.69,267.41 259.94,267.23" fill="#3a3a3a"/>
<line x1="278.8" y1="256.03" x2="278.8" y2="259.5" stroke="#5a5a5a" stroke-width="0.85"/>
<line x1="277" y1="256.03" x2="280.6" y2="256.03" stroke="#555" stroke-width="0.95"/>
<rect x="275.8" y="259.5" width="6" height="52" fill="#cea5a4" stroke="#585858" stroke-width="1"/>
<line x1="278.8" y1="311.5" x2="278.8" y2="313.9" stroke="#262626" stroke-width="0.9"/>
<line x1="289.5" y1="254.46" x2="289.5" y2="258.5" stroke="#5a5a5a" stroke-width="0.85"/>
<line x1="287.7" y1="254.46" x2="291.3" y2="254.46" stroke="#555" stroke-width="0.95"/>
<rect x="286.5" y="258.5" width="6" height="53" fill="#cea5a4" stroke="#585858" stroke-width="1"/>
<line x1="289.5" y1="311.5" x2="289.5" y2="313.9" stroke="#262626" stroke-width="0.9"/>
<line x1="300.1" y1="253.41" x2="300.1" y2="258.5" stroke="#5a5a5a" stroke-width="0.85"/>
<line x1="298.3" y1="253.41" x2="301.9" y2="253.41" stroke="#555" stroke-width="0.95"/>
<rect x="297.1" y="258.5" width="6" height="53" fill="#cea5a4" stroke="#585858" stroke-width="1"/>
<line x1="300.1" y1="311.5" x2="300.1" y2="313.9" stroke="#262626" stroke-width="0.9"/>
<line x1="310.8" y1="273.3" x2="310.8" y2="274.5" stroke="#5a5a5a" stroke-width="0.85"/>
<line x1="309" y1="273.3" x2="312.6" y2="273.3" stroke="#555" stroke-width="0.95"/>
<rect x="307.8" y="274.5" width="6" height="37" fill="#cea5a4" stroke="#585858" stroke-width="1"/>
<line x1="310.8" y1="311.5" x2="310.8" y2="313.9" stroke="#262626" stroke-width="0.9"/>
<polygon points="310.8,266.8 311.36,267.93 312.61,268.11 311.7,268.99 311.92,270.23 310.8,269.65 309.68,270.23 309.9,268.99 308.99,268.11 310.24,267.93" fill="#3a3a3a"/>
<polygon points="310.8,263.05 311.36,264.18 312.61,264.36 311.7,265.24 311.92,266.48 310.8,265.9 309.68,266.48 309.9,265.24 308.99,264.36 310.24,264.18" fill="#3a3a3a"/>
<polygon points="310.8,259.3 311.36,260.43 312.61,260.61 311.7,261.49 311.92,262.73 310.8,262.15 309.68,262.73 309.9,261.49 308.99,260.61 310.24,260.43" fill="#3a3a3a"/>
<line x1="321.7" y1="291.09" x2="321.7" y2="293.5" stroke="#5a5a5a" stroke-width="0.85"/>
<line x1="319.9" y1="291.09" x2="323.5" y2="291.09" stroke="#555" stroke-width="0.95"/>
<rect x="318.7" y="293.5" width="6" height="18" fill="#cea5a4" stroke="#585858" stroke-width="1"/>
<line x1="321.7" y1="311.5" x2="321.7" y2="313.9" stroke="#262626" stroke-width="0.9"/>
<polygon points="321.7,284.59 322.26,285.72 323.51,285.9 322.6,286.78 322.82,288.03 321.7,287.44 320.58,288.03 320.8,286.78 319.89,285.9 321.14,285.72" fill="#3a3a3a"/>
<polygon points="321.7,280.84 322.26,281.97 323.51,282.15 322.6,283.03 322.82,284.28 321.7,283.69 320.58,284.28 320.8,283.03 319.89,282.15 321.14,281.97" fill="#3a3a3a"/>
<polygon points="321.7,277.09 322.26,278.22 323.51,278.4 322.6,279.28 322.82,280.53 321.7,279.94 320.58,280.53 320.8,279.28 319.89,278.4 321.14,278.22" fill="#3a3a3a"/>
<polygon points="321.7,273.34 322.26,274.47 323.51,274.65 322.6,275.53 322.82,276.78 321.7,276.19 320.58,276.78 320.8,275.53 319.89,274.65 321.14,274.47" fill="#3a3a3a"/>
<text x="218.8" y="319.3" font-size="6.1" font-weight="bold" text-anchor="end" fill="#1a1a1a" stroke="#1a1a1a" stroke-width="0.15" transform="rotate(-45 218.8 319.3)">Medium</text>
<text x="229.8" y="319.3" font-size="6.1" font-weight="bold" text-anchor="end" fill="#1a1a1a" stroke="#1a1a1a" stroke-width="0.15" transform="rotate(-45 229.8 319.3)">1</text>
<text x="240.8" y="319.3" font-size="6.1" font-weight="bold" text-anchor="end" fill="#1a1a1a" stroke="#1a1a1a" stroke-width="0.15" transform="rotate(-45 240.8 319.3)">3</text>
<text x="251.9" y="319.3" font-size="6.1" font-weight="bold" text-anchor="end" fill="#1a1a1a" stroke="#1a1a1a" stroke-width="0.15" transform="rotate(-45 251.9 319.3)">5</text>
<text x="262.8" y="319.3" font-size="6.1" font-weight="bold" text-anchor="end" fill="#1a1a1a" stroke="#1a1a1a" stroke-width="0.15" transform="rotate(-45 262.8 319.3)">10</text>
<text x="281.1" y="319.3" font-size="6.1" font-weight="bold" text-anchor="end" fill="#1a1a1a" stroke="#1a1a1a" stroke-width="0.15" transform="rotate(-45 281.1 319.3)">Medium</text>
<text x="291.8" y="319.3" font-size="6.1" font-weight="bold" text-anchor="end" fill="#1a1a1a" stroke="#1a1a1a" stroke-width="0.15" transform="rotate(-45 291.8 319.3)">1</text>
<text x="302.4" y="319.3" font-size="6.1" font-weight="bold" text-anchor="end" fill="#1a1a1a" stroke="#1a1a1a" stroke-width="0.15" transform="rotate(-45 302.4 319.3)">3</text>
<text x="313.1" y="319.3" font-size="6.1" font-weight="bold" text-anchor="end" fill="#1a1a1a" stroke="#1a1a1a" stroke-width="0.15" transform="rotate(-45 313.1 319.3)">5</text>
<text x="324" y="319.3" font-size="6.1" font-weight="bold" text-anchor="end" fill="#1a1a1a" stroke="#1a1a1a" stroke-width="0.15" transform="rotate(-45 324 319.3)">10</text>
<line x1="225" y1="327.5" x2="262.5" y2="327.5" stroke="#7c7c7c" stroke-width="0.9"/>
<text x="243.75" y="335" font-size="6" font-weight="bold" text-anchor="middle" fill="#1a1a1a" stroke="#1a1a1a" stroke-width="0.15">VWK147</text>
<text x="243.75" y="341.5" font-size="6" font-weight="bold" text-anchor="middle" fill="#1a1a1a" stroke="#1a1a1a" stroke-width="0.15">[&#956;M]</text>
<line x1="287" y1="327.5" x2="323.7" y2="327.5" stroke="#7c7c7c" stroke-width="0.9"/>
<text x="305.35" y="335" font-size="6" font-weight="bold" text-anchor="middle" fill="#1a1a1a" stroke="#1a1a1a" stroke-width="0.15">VWK147 [&#956;M]</text>
<text x="184.6" y="272.25" font-size="6.85" font-weight="bold" text-anchor="middle" fill="#1a1a1a" stroke="#1a1a1a" stroke-width="0.15" transform="rotate(-90 184.6 272.25)">fold of control</text>
<text x="192.9" y="272.25" font-size="6.7" font-weight="bold" text-anchor="middle" fill="#1a1a1a" stroke="#1a1a1a" stroke-width="0.15" transform="rotate(-90 192.9 272.25)">[RIPK1/&#946;-Actin]</text>
<line x1="209.5" y1="343" x2="209.5" y2="422" stroke="#262626" stroke-width="1"/>
<line x1="209" y1="421.5" x2="329" y2="421.5" stroke="#262626" stroke-width="1"/>
<line x1="206" y1="421.5" x2="209.5" y2="421.5" stroke="#262626" stroke-width="0.9"/>
<text x="205.2" y="423.8" font-size="6.4" font-weight="normal" text-anchor="end" fill="#1a1a1a" stroke="#1a1a1a" stroke-width="0.2">0</text>
<line x1="206" y1="395.33" x2="209.5" y2="395.33" stroke="#262626" stroke-width="0.9"/>
<text x="205.2" y="397.63" font-size="6.4" font-weight="normal" text-anchor="end" fill="#1a1a1a" stroke="#1a1a1a" stroke-width="0.2">0.5</text>
<line x1="206" y1="369.17" x2="209.5" y2="369.17" stroke="#262626" stroke-width="0.9"/>
<text x="205.2" y="371.47" font-size="6.4" font-weight="normal" text-anchor="end" fill="#1a1a1a" stroke="#1a1a1a" stroke-width="0.2">1.0</text>
<line x1="206" y1="343" x2="209.5" y2="343" stroke="#262626" stroke-width="0.9"/>
<text x="205.2" y="345.3" font-size="6.4" font-weight="normal" text-anchor="end" fill="#1a1a1a" stroke="#1a1a1a" stroke-width="0.2">1.5</text>
<line x1="216.5" y1="363.41" x2="216.5" y2="369.5" stroke="#5a5a5a" stroke-width="0.85"/>
<line x1="214.7" y1="363.41" x2="218.3" y2="363.41" stroke="#555" stroke-width="0.95"/>
<rect x="213.5" y="369.5" width="6" height="52" fill="#b6b7b6" stroke="#585858" stroke-width="1"/>
<line x1="216.5" y1="421.5" x2="216.5" y2="423.9" stroke="#262626" stroke-width="0.9"/>
<line x1="227.5" y1="359.22" x2="227.5" y2="363.5" stroke="#5a5a5a" stroke-width="0.85"/>
<line x1="225.7" y1="359.22" x2="229.3" y2="359.22" stroke="#555" stroke-width="0.95"/>
<rect x="224.5" y="363.5" width="6" height="58" fill="#b6b7b6" stroke="#585858" stroke-width="1"/>
<line x1="227.5" y1="421.5" x2="227.5" y2="423.9" stroke="#262626" stroke-width="0.9"/>
<line x1="238.5" y1="367.6" x2="238.5" y2="370.5" stroke="#5a5a5a" stroke-width="0.85"/>
<line x1="236.7" y1="367.6" x2="240.3" y2="367.6" stroke="#555" stroke-width="0.95"/>
<rect x="235.5" y="370.5" width="6" height="51" fill="#b6b7b6" stroke="#585858" stroke-width="1"/>
<line x1="238.5" y1="421.5" x2="238.5" y2="423.9" stroke="#262626" stroke-width="0.9"/>
<line x1="249.6" y1="374.92" x2="249.6" y2="377.5" stroke="#5a5a5a" stroke-width="0.85"/>
<line x1="247.8" y1="374.92" x2="251.4" y2="374.92" stroke="#555" stroke-width="0.95"/>
<rect x="246.6" y="377.5" width="6" height="44" fill="#b6b7b6" stroke="#585858" stroke-width="1"/>
<line x1="249.6" y1="421.5" x2="249.6" y2="423.9" stroke="#262626" stroke-width="0.9"/>
<polygon points="249.6,368.42 250.16,369.55 251.41,369.74 250.5,370.62 250.72,371.86 249.6,371.27 248.48,371.86 248.7,370.62 247.79,369.74 249.04,369.55" fill="#3a3a3a"/>
<line x1="260.5" y1="391.67" x2="260.5" y2="393.5" stroke="#5a5a5a" stroke-width="0.85"/>
<line x1="258.7" y1="391.67" x2="262.3" y2="391.67" stroke="#555" stroke-width="0.95"/>
<rect x="257.5" y="393.5" width="6" height="28" fill="#b6b7b6" stroke="#585858" stroke-width="1"/>
<line x1="260.5" y1="421.5" x2="260.5" y2="423.9" stroke="#262626" stroke-width="0.9"/>
<polygon points="260.5,385.17 261.06,386.3 262.31,386.48 261.4,387.36 261.62,388.61 260.5,388.02 259.38,388.61 259.6,387.36 258.69,386.48 259.94,386.3" fill="#3a3a3a"/>
<polygon points="260.5,381.42 261.06,382.55 262.31,382.73 261.4,383.61 261.62,384.86 260.5,384.27 259.38,384.86 259.6,383.61 258.69,382.73 259.94,382.55" fill="#3a3a3a"/>
<polygon points="260.5,377.67 261.06,378.8 262.31,378.98 261.4,379.86 261.62,381.11 260.5,380.52 259.38,381.11 259.6,379.86 258.69,378.98 259.94,378.8" fill="#3a3a3a"/>
<polygon points="260.5,373.92 261.06,375.05 262.31,375.23 261.4,376.11 261.62,377.36 260.5,376.77 259.38,377.36 259.6,376.11 258.69,375.23 259.94,375.05" fill="#3a3a3a"/>
<line x1="278.8" y1="359.22" x2="278.8" y2="369.5" stroke="#5a5a5a" stroke-width="0.85"/>
<line x1="277" y1="359.22" x2="280.6" y2="359.22" stroke="#555" stroke-width="0.95"/>
<rect x="275.8" y="369.5" width="6" height="52" fill="#cea5a4" stroke="#585858" stroke-width="1"/>
<line x1="278.8" y1="421.5" x2="278.8" y2="423.9" stroke="#262626" stroke-width="0.9"/>
<line x1="289.5" y1="372.31" x2="289.5" y2="373.5" stroke="#5a5a5a" stroke-width="0.85"/>
<line x1="287.7" y1="372.31" x2="291.3" y2="372.31" stroke="#555" stroke-width="0.95"/>
<rect x="286.5" y="373.5" width="6" height="48" fill="#cea5a4" stroke="#585858" stroke-width="1"/>
<line x1="289.5" y1="421.5" x2="289.5" y2="423.9" stroke="#262626" stroke-width="0.9"/>
<line x1="300.1" y1="365.5" x2="300.1" y2="373.5" stroke="#5a5a5a" stroke-width="0.85"/>
<line x1="298.3" y1="365.5" x2="301.9" y2="365.5" stroke="#555" stroke-width="0.95"/>
<rect x="297.1" y="373.5" width="6" height="48" fill="#cea5a4" stroke="#585858" stroke-width="1"/>
<line x1="300.1" y1="421.5" x2="300.1" y2="423.9" stroke="#262626" stroke-width="0.9"/>
<line x1="310.8" y1="384.87" x2="310.8" y2="388.5" stroke="#5a5a5a" stroke-width="0.85"/>
<line x1="309" y1="384.87" x2="312.6" y2="384.87" stroke="#555" stroke-width="0.95"/>
<rect x="307.8" y="388.5" width="6" height="33" fill="#cea5a4" stroke="#585858" stroke-width="1"/>
<line x1="310.8" y1="421.5" x2="310.8" y2="423.9" stroke="#262626" stroke-width="0.9"/>
<polygon points="310.8,378.37 311.36,379.5 312.61,379.68 311.7,380.56 311.92,381.8 310.8,381.22 309.68,381.8 309.9,380.56 308.99,379.68 310.24,379.5" fill="#3a3a3a"/>
<line x1="321.7" y1="389.05" x2="321.7" y2="395.5" stroke="#5a5a5a" stroke-width="0.85"/>
<line x1="319.9" y1="389.05" x2="323.5" y2="389.05" stroke="#555" stroke-width="0.95"/>
<rect x="318.7" y="395.5" width="6" height="26" fill="#cea5a4" stroke="#585858" stroke-width="1"/>
<line x1="321.7" y1="421.5" x2="321.7" y2="423.9" stroke="#262626" stroke-width="0.9"/>
<polygon points="321.7,382.55 322.26,383.68 323.51,383.87 322.6,384.75 322.82,385.99 321.7,385.4 320.58,385.99 320.8,384.75 319.89,383.87 321.14,383.68" fill="#3a3a3a"/>
<polygon points="321.7,378.8 322.26,379.93 323.51,380.12 322.6,381 322.82,382.24 321.7,381.65 320.58,382.24 320.8,381 319.89,380.12 321.14,379.93" fill="#3a3a3a"/>
<text x="218.8" y="429.3" font-size="6.1" font-weight="bold" text-anchor="end" fill="#1a1a1a" stroke="#1a1a1a" stroke-width="0.15" transform="rotate(-45 218.8 429.3)">Medium</text>
<text x="229.8" y="429.3" font-size="6.1" font-weight="bold" text-anchor="end" fill="#1a1a1a" stroke="#1a1a1a" stroke-width="0.15" transform="rotate(-45 229.8 429.3)">1</text>
<text x="240.8" y="429.3" font-size="6.1" font-weight="bold" text-anchor="end" fill="#1a1a1a" stroke="#1a1a1a" stroke-width="0.15" transform="rotate(-45 240.8 429.3)">3</text>
<text x="251.9" y="429.3" font-size="6.1" font-weight="bold" text-anchor="end" fill="#1a1a1a" stroke="#1a1a1a" stroke-width="0.15" transform="rotate(-45 251.9 429.3)">5</text>
<text x="262.8" y="429.3" font-size="6.1" font-weight="bold" text-anchor="end" fill="#1a1a1a" stroke="#1a1a1a" stroke-width="0.15" transform="rotate(-45 262.8 429.3)">10</text>
<text x="281.1" y="429.3" font-size="6.1" font-weight="bold" text-anchor="end" fill="#1a1a1a" stroke="#1a1a1a" stroke-width="0.15" transform="rotate(-45 281.1 429.3)">Medium</text>
<text x="291.8" y="429.3" font-size="6.1" font-weight="bold" text-anchor="end" fill="#1a1a1a" stroke="#1a1a1a" stroke-width="0.15" transform="rotate(-45 291.8 429.3)">1</text>
<text x="302.4" y="429.3" font-size="6.1" font-weight="bold" text-anchor="end" fill="#1a1a1a" stroke="#1a1a1a" stroke-width="0.15" transform="rotate(-45 302.4 429.3)">3</text>
<text x="313.1" y="429.3" font-size="6.1" font-weight="bold" text-anchor="end" fill="#1a1a1a" stroke="#1a1a1a" stroke-width="0.15" transform="rotate(-45 313.1 429.3)">5</text>
<text x="324" y="429.3" font-size="6.1" font-weight="bold" text-anchor="end" fill="#1a1a1a" stroke="#1a1a1a" stroke-width="0.15" transform="rotate(-45 324 429.3)">10</text>
<line x1="225" y1="437.5" x2="262.5" y2="437.5" stroke="#7c7c7c" stroke-width="0.9"/>
<text x="243.75" y="445" font-size="6" font-weight="bold" text-anchor="middle" fill="#1a1a1a" stroke="#1a1a1a" stroke-width="0.15">VWK147</text>
<text x="243.75" y="451.5" font-size="6" font-weight="bold" text-anchor="middle" fill="#1a1a1a" stroke="#1a1a1a" stroke-width="0.15">[&#956;M]</text>
<line x1="287" y1="437.5" x2="323.7" y2="437.5" stroke="#7c7c7c" stroke-width="0.9"/>
<text x="305.35" y="445" font-size="6" font-weight="bold" text-anchor="middle" fill="#1a1a1a" stroke="#1a1a1a" stroke-width="0.15">VWK147 [&#956;M]</text>
<text x="184.6" y="382.25" font-size="6.85" font-weight="bold" text-anchor="middle" fill="#1a1a1a" stroke="#1a1a1a" stroke-width="0.15" transform="rotate(-90 184.6 382.25)">fold of control</text>
<text x="192.9" y="382.25" font-size="6.7" font-weight="bold" text-anchor="middle" fill="#1a1a1a" stroke="#1a1a1a" stroke-width="0.15" transform="rotate(-90 192.9 382.25)">[CDK4/&#946;-Actin]</text>
<rect x="289.1" y="117.3" width="8.4" height="3.8" fill="#b6b7b6" stroke="#585858" stroke-width="1"/>
<rect x="289.1" y="129.3" width="8.4" height="3.8" fill="#cea5a4" stroke="#585858" stroke-width="1"/>
<text x="303.2" y="122.3" font-size="7.7" font-weight="normal" text-anchor="start" fill="#1e1e1e" stroke="#1e1e1e" stroke-width="0.22">T24</text>
<text x="303.2" y="134.3" font-size="7.7" font-weight="normal" text-anchor="start" fill="#1e1e1e" stroke="#1e1e1e" stroke-width="0.22">T24-CR</text>
<line x1="382.5" y1="119" x2="382.5" y2="199" stroke="#262626" stroke-width="1"/>
<line x1="382" y1="198.5" x2="503" y2="198.5" stroke="#262626" stroke-width="1"/>
<line x1="379" y1="198.5" x2="382.5" y2="198.5" stroke="#262626" stroke-width="0.9"/>
<text x="378.2" y="200.8" font-size="6.4" font-weight="normal" text-anchor="end" fill="#1a1a1a" stroke="#1a1a1a" stroke-width="0.2">0</text>
<line x1="379" y1="172" x2="382.5" y2="172" stroke="#262626" stroke-width="0.9"/>
<text x="378.2" y="174.3" font-size="6.4" font-weight="normal" text-anchor="end" fill="#1a1a1a" stroke="#1a1a1a" stroke-width="0.2">0.5</text>
<line x1="379" y1="145.5" x2="382.5" y2="145.5" stroke="#262626" stroke-width="0.9"/>
<text x="378.2" y="147.8" font-size="6.4" font-weight="normal" text-anchor="end" fill="#1a1a1a" stroke="#1a1a1a" stroke-width="0.2">1.0</text>
<line x1="379" y1="119" x2="382.5" y2="119" stroke="#262626" stroke-width="0.9"/>
<text x="378.2" y="121.3" font-size="6.4" font-weight="normal" text-anchor="end" fill="#1a1a1a" stroke="#1a1a1a" stroke-width="0.2">1.5</text>
<line x1="390.2" y1="143.38" x2="390.2" y2="145.5" stroke="#5a5a5a" stroke-width="0.85"/>
<line x1="388.4" y1="143.38" x2="392" y2="143.38" stroke="#555" stroke-width="0.95"/>
<rect x="387.2" y="145.5" width="6" height="53" fill="#b6b7b6" stroke="#585858" stroke-width="1"/>
<line x1="390.2" y1="198.5" x2="390.2" y2="200.9" stroke="#262626" stroke-width="0.9"/>
<line x1="401" y1="148.68" x2="401" y2="150.5" stroke="#5a5a5a" stroke-width="0.85"/>
<line x1="399.2" y1="148.68" x2="402.8" y2="148.68" stroke="#555" stroke-width="0.95"/>
<rect x="398" y="150.5" width="6" height="48" fill="#b6b7b6" stroke="#585858" stroke-width="1"/>
<line x1="401" y1="198.5" x2="401" y2="200.9" stroke="#262626" stroke-width="0.9"/>
<line x1="411.8" y1="151.86" x2="411.8" y2="155.5" stroke="#5a5a5a" stroke-width="0.85"/>
<line x1="410" y1="151.86" x2="413.6" y2="151.86" stroke="#555" stroke-width="0.95"/>
<rect x="408.8" y="155.5" width="6" height="43" fill="#b6b7b6" stroke="#585858" stroke-width="1"/>
<line x1="411.8" y1="198.5" x2="411.8" y2="200.9" stroke="#262626" stroke-width="0.9"/>
<polygon points="411.8,145.36 412.36,146.49 413.61,146.67 412.7,147.55 412.92,148.8 411.8,148.21 410.68,148.8 410.9,147.55 409.99,146.67 411.24,146.49" fill="#3a3a3a"/>
<polygon points="411.8,141.61 412.36,142.74 413.61,142.92 412.7,143.8 412.92,145.05 411.8,144.46 410.68,145.05 410.9,143.8 409.99,142.92 411.24,142.74" fill="#3a3a3a"/>
<line x1="422.7" y1="154.51" x2="422.7" y2="158.5" stroke="#5a5a5a" stroke-width="0.85"/>
<line x1="420.9" y1="154.51" x2="424.5" y2="154.51" stroke="#555" stroke-width="0.95"/>
<rect x="419.7" y="158.5" width="6" height="40" fill="#b6b7b6" stroke="#585858" stroke-width="1"/>
<line x1="422.7" y1="198.5" x2="422.7" y2="200.9" stroke="#262626" stroke-width="0.9"/>
<polygon points="422.7,148.01 423.26,149.14 424.51,149.32 423.6,150.2 423.82,151.45 422.7,150.86 421.58,151.45 421.8,150.2 420.89,149.32 422.14,149.14" fill="#3a3a3a"/>
<polygon points="422.7,144.26 423.26,145.39 424.51,145.57 423.6,146.45 423.82,147.7 422.7,147.11 421.58,147.7 421.8,146.45 420.89,145.57 422.14,145.39" fill="#3a3a3a"/>
<polygon points="422.7,140.51 423.26,141.64 424.51,141.82 423.6,142.7 423.82,143.95 422.7,143.36 421.58,143.95 421.8,142.7 420.89,141.82 422.14,141.64" fill="#3a3a3a"/>
<line x1="433.6" y1="151.33" x2="433.6" y2="153.5" stroke="#5a5a5a" stroke-width="0.85"/>
<line x1="431.8" y1="151.33" x2="435.4" y2="151.33" stroke="#555" stroke-width="0.95"/>
<rect x="430.6" y="153.5" width="6" height="45" fill="#b6b7b6" stroke="#585858" stroke-width="1"/>
<line x1="433.6" y1="198.5" x2="433.6" y2="200.9" stroke="#262626" stroke-width="0.9"/>
<polygon points="433.6,144.83 434.16,145.96 435.41,146.14 434.5,147.02 434.72,148.27 433.6,147.68 432.48,148.27 432.7,147.02 431.79,146.14 433.04,145.96" fill="#3a3a3a"/>
<polygon points="433.6,141.08 434.16,142.21 435.41,142.39 434.5,143.27 434.72,144.52 433.6,143.93 432.48,144.52 432.7,143.27 431.79,142.39 433.04,142.21" fill="#3a3a3a"/>
<line x1="451.9" y1="132.25" x2="451.9" y2="145.5" stroke="#5a5a5a" stroke-width="0.85"/>
<line x1="450.1" y1="132.25" x2="453.7" y2="132.25" stroke="#555" stroke-width="0.95"/>
<rect x="448.9" y="145.5" width="6" height="53" fill="#cea5a4" stroke="#585858" stroke-width="1"/>
<line x1="451.9" y1="198.5" x2="451.9" y2="200.9" stroke="#262626" stroke-width="0.9"/>
<line x1="462.9" y1="128.54" x2="462.9" y2="136.5" stroke="#5a5a5a" stroke-width="0.85"/>
<line x1="461.1" y1="128.54" x2="464.7" y2="128.54" stroke="#555" stroke-width="0.95"/>
<rect x="459.9" y="136.5" width="6" height="62" fill="#cea5a4" stroke="#585858" stroke-width="1"/>
<line x1="462.9" y1="198.5" x2="462.9" y2="200.9" stroke="#262626" stroke-width="0.9"/>
<line x1="473.8" y1="137.55" x2="473.8" y2="140.5" stroke="#5a5a5a" stroke-width="0.85"/>
<line x1="472" y1="137.55" x2="475.6" y2="137.55" stroke="#555" stroke-width="0.95"/>
<rect x="470.8" y="140.5" width="6" height="58" fill="#cea5a4" stroke="#585858" stroke-width="1"/>
<line x1="473.8" y1="198.5" x2="473.8" y2="200.9" stroke="#262626" stroke-width="0.9"/>
<line x1="484.8" y1="136.49" x2="484.8" y2="141.5" stroke="#5a5a5a" stroke-width="0.85"/>
<line x1="483" y1="136.49" x2="486.6" y2="136.49" stroke="#555" stroke-width="0.95"/>
<rect x="481.8" y="141.5" width="6" height="57" fill="#cea5a4" stroke="#585858" stroke-width="1"/>
<line x1="484.8" y1="198.5" x2="484.8" y2="200.9" stroke="#262626" stroke-width="0.9"/>
<line x1="495.8" y1="128.54" x2="495.8" y2="133.5" stroke="#5a5a5a" stroke-width="0.85"/>
<line x1="494" y1="128.54" x2="497.6" y2="128.54" stroke="#555" stroke-width="0.95"/>
<rect x="492.8" y="133.5" width="6" height="65" fill="#cea5a4" stroke="#585858" stroke-width="1"/>
<line x1="495.8" y1="198.5" x2="495.8" y2="200.9" stroke="#262626" stroke-width="0.9"/>
<text x="392.5" y="206.3" font-size="6.1" font-weight="bold" text-anchor="end" fill="#1a1a1a" stroke="#1a1a1a" stroke-width="0.15" transform="rotate(-45 392.5 206.3)">Medium</text>
<text x="403.3" y="206.3" font-size="6.1" font-weight="bold" text-anchor="end" fill="#1a1a1a" stroke="#1a1a1a" stroke-width="0.15" transform="rotate(-45 403.3 206.3)">1</text>
<text x="414.1" y="206.3" font-size="6.1" font-weight="bold" text-anchor="end" fill="#1a1a1a" stroke="#1a1a1a" stroke-width="0.15" transform="rotate(-45 414.1 206.3)">3</text>
<text x="425" y="206.3" font-size="6.1" font-weight="bold" text-anchor="end" fill="#1a1a1a" stroke="#1a1a1a" stroke-width="0.15" transform="rotate(-45 425 206.3)">5</text>
<text x="435.9" y="206.3" font-size="6.1" font-weight="bold" text-anchor="end" fill="#1a1a1a" stroke="#1a1a1a" stroke-width="0.15" transform="rotate(-45 435.9 206.3)">10</text>
<text x="454.2" y="206.3" font-size="6.1" font-weight="bold" text-anchor="end" fill="#1a1a1a" stroke="#1a1a1a" stroke-width="0.15" transform="rotate(-45 454.2 206.3)">Medium</text>
<text x="465.2" y="206.3" font-size="6.1" font-weight="bold" text-anchor="end" fill="#1a1a1a" stroke="#1a1a1a" stroke-width="0.15" transform="rotate(-45 465.2 206.3)">1</text>
<text x="476.1" y="206.3" font-size="6.1" font-weight="bold" text-anchor="end" fill="#1a1a1a" stroke="#1a1a1a" stroke-width="0.15" transform="rotate(-45 476.1 206.3)">3</text>
<text x="487.1" y="206.3" font-size="6.1" font-weight="bold" text-anchor="end" fill="#1a1a1a" stroke="#1a1a1a" stroke-width="0.15" transform="rotate(-45 487.1 206.3)">5</text>
<text x="498.1" y="206.3" font-size="6.1" font-weight="bold" text-anchor="end" fill="#1a1a1a" stroke="#1a1a1a" stroke-width="0.15" transform="rotate(-45 498.1 206.3)">10</text>
<line x1="398" y1="214.5" x2="434.5" y2="214.5" stroke="#7c7c7c" stroke-width="0.9"/>
<text x="416.25" y="222" font-size="6" font-weight="bold" text-anchor="middle" fill="#1a1a1a" stroke="#1a1a1a" stroke-width="0.15">17-AAG</text>
<text x="416.25" y="228.5" font-size="6" font-weight="bold" text-anchor="middle" fill="#1a1a1a" stroke="#1a1a1a" stroke-width="0.15">[&#956;M]</text>
<line x1="459.9" y1="214.5" x2="496.7" y2="214.5" stroke="#7c7c7c" stroke-width="0.9"/>
<text x="478.3" y="222" font-size="6" font-weight="bold" text-anchor="middle" fill="#1a1a1a" stroke="#1a1a1a" stroke-width="0.15">17-AAG [&#956;M]</text>
<text x="358.2" y="158.75" font-size="6.85" font-weight="bold" text-anchor="middle" fill="#1a1a1a" stroke="#1a1a1a" stroke-width="0.15" transform="rotate(-90 358.2 158.75)">fold of control</text>
<text x="366" y="158.75" font-size="6.7" font-weight="bold" text-anchor="middle" fill="#1a1a1a" stroke="#1a1a1a" stroke-width="0.15" transform="rotate(-90 366 158.75)">[HSP90/&#946;-Actin]</text>
<line x1="378.5" y1="232" x2="378.5" y2="312" stroke="#262626" stroke-width="1"/>
<line x1="378" y1="311.5" x2="498" y2="311.5" stroke="#262626" stroke-width="1"/>
<line x1="375" y1="311.5" x2="378.5" y2="311.5" stroke="#262626" stroke-width="0.9"/>
<text x="374.2" y="313.8" font-size="6.4" font-weight="normal" text-anchor="end" fill="#1a1a1a" stroke="#1a1a1a" stroke-width="0.2">0</text>
<line x1="375" y1="295.6" x2="378.5" y2="295.6" stroke="#262626" stroke-width="0.9"/>
<text x="374.2" y="297.9" font-size="6.4" font-weight="normal" text-anchor="end" fill="#1a1a1a" stroke="#1a1a1a" stroke-width="0.2">0.5</text>
<line x1="375" y1="279.7" x2="378.5" y2="279.7" stroke="#262626" stroke-width="0.9"/>
<text x="374.2" y="282" font-size="6.4" font-weight="normal" text-anchor="end" fill="#1a1a1a" stroke="#1a1a1a" stroke-width="0.2">1.0</text>
<line x1="375" y1="263.8" x2="378.5" y2="263.8" stroke="#262626" stroke-width="0.9"/>
<text x="374.2" y="266.1" font-size="6.4" font-weight="normal" text-anchor="end" fill="#1a1a1a" stroke="#1a1a1a" stroke-width="0.2">1.5</text>
<line x1="375" y1="247.9" x2="378.5" y2="247.9" stroke="#262626" stroke-width="0.9"/>
<text x="374.2" y="250.2" font-size="6.4" font-weight="normal" text-anchor="end" fill="#1a1a1a" stroke="#1a1a1a" stroke-width="0.2">2.0</text>
<line x1="375" y1="232" x2="378.5" y2="232" stroke="#262626" stroke-width="0.9"/>
<text x="374.2" y="234.3" font-size="6.4" font-weight="normal" text-anchor="end" fill="#1a1a1a" stroke="#1a1a1a" stroke-width="0.2">2.5</text>
<line x1="385.6" y1="277.47" x2="385.6" y2="279.5" stroke="#5a5a5a" stroke-width="0.85"/>
<line x1="383.8" y1="277.47" x2="387.4" y2="277.47" stroke="#555" stroke-width="0.95"/>
<rect x="382.6" y="279.5" width="6" height="32" fill="#b6b7b6" stroke="#585858" stroke-width="1"/>
<line x1="385.6" y1="311.5" x2="385.6" y2="313.9" stroke="#262626" stroke-width="0.9"/>
<line x1="396.4" y1="247.9" x2="396.4" y2="253.5" stroke="#5a5a5a" stroke-width="0.85"/>
<line x1="394.6" y1="247.9" x2="398.2" y2="247.9" stroke="#555" stroke-width="0.95"/>
<rect x="393.4" y="253.5" width="6" height="58" fill="#b6b7b6" stroke="#585858" stroke-width="1"/>
<line x1="396.4" y1="311.5" x2="396.4" y2="313.9" stroke="#262626" stroke-width="0.9"/>
<polygon points="396.4,241.4 396.96,242.53 398.21,242.71 397.3,243.59 397.52,244.84 396.4,244.25 395.28,244.84 395.5,243.59 394.59,242.71 395.84,242.53" fill="#3a3a3a"/>
<polygon points="396.4,237.65 396.96,238.78 398.21,238.96 397.3,239.84 397.52,241.09 396.4,240.5 395.28,241.09 395.5,239.84 394.59,238.96 395.84,238.78" fill="#3a3a3a"/>
<polygon points="396.4,233.9 396.96,235.03 398.21,235.21 397.3,236.09 397.52,237.34 396.4,236.75 395.28,237.34 395.5,236.09 394.59,235.21 395.84,235.03" fill="#3a3a3a"/>
<polygon points="396.4,230.15 396.96,231.28 398.21,231.46 397.3,232.34 397.52,233.59 396.4,233 395.28,233.59 395.5,232.34 394.59,231.46 395.84,231.28" fill="#3a3a3a"/>
<line x1="407.1" y1="246.95" x2="407.1" y2="252.5" stroke="#5a5a5a" stroke-width="0.85"/>
<line x1="405.3" y1="246.95" x2="408.9" y2="246.95" stroke="#555" stroke-width="0.95"/>
<rect x="404.1" y="252.5" width="6" height="59" fill="#b6b7b6" stroke="#585858" stroke-width="1"/>
<line x1="407.1" y1="311.5" x2="407.1" y2="313.9" stroke="#262626" stroke-width="0.9"/>
<polygon points="407.1,240.45 407.66,241.58 408.91,241.76 408,242.64 408.22,243.88 407.1,243.3 405.98,243.88 406.2,242.64 405.29,241.76 406.54,241.58" fill="#3a3a3a"/>
<polygon points="407.1,236.7 407.66,237.83 408.91,238.01 408,238.89 408.22,240.13 407.1,239.55 405.98,240.13 406.2,238.89 405.29,238.01 406.54,237.83" fill="#3a3a3a"/>
<polygon points="407.1,232.95 407.66,234.08 408.91,234.26 408,235.14 408.22,236.38 407.1,235.8 405.98,236.38 406.2,235.14 405.29,234.26 406.54,234.08" fill="#3a3a3a"/>
<polygon points="407.1,229.2 407.66,230.33 408.91,230.51 408,231.39 408.22,232.63 407.1,232.05 405.98,232.63 406.2,231.39 405.29,230.51 406.54,230.33" fill="#3a3a3a"/>
<line x1="417.8" y1="249.17" x2="417.8" y2="253.5" stroke="#5a5a5a" stroke-width="0.85"/>
<line x1="416" y1="249.17" x2="419.6" y2="249.17" stroke="#555" stroke-width="0.95"/>
<rect x="414.8" y="253.5" width="6" height="58" fill="#b6b7b6" stroke="#585858" stroke-width="1"/>
<line x1="417.8" y1="311.5" x2="417.8" y2="313.9" stroke="#262626" stroke-width="0.9"/>
<polygon points="417.8,242.67 418.36,243.8 419.61,243.98 418.7,244.87 418.92,246.11 417.8,245.52 416.68,246.11 416.9,244.87 415.99,243.98 417.24,243.8" fill="#3a3a3a"/>
<polygon points="417.8,238.92 418.36,240.05 419.61,240.23 418.7,241.12 418.92,242.36 417.8,241.77 416.68,242.36 416.9,241.12 415.99,240.23 417.24,240.05" fill="#3a3a3a"/>
<polygon points="417.8,235.17 418.36,236.3 419.61,236.48 418.7,237.37 418.92,238.61 417.8,238.02 416.68,238.61 416.9,237.37 415.99,236.48 417.24,236.3" fill="#3a3a3a"/>
<polygon points="417.8,231.42 418.36,232.55 419.61,232.73 418.7,233.62 418.92,234.86 417.8,234.27 416.68,234.86 416.9,233.62 415.99,232.73 417.24,232.55" fill="#3a3a3a"/>
<line x1="428.6" y1="246.63" x2="428.6" y2="251.5" stroke="#5a5a5a" stroke-width="0.85"/>
<line x1="426.8" y1="246.63" x2="430.4" y2="246.63" stroke="#555" stroke-width="0.95"/>
<rect x="425.6" y="251.5" width="6" height="60" fill="#b6b7b6" stroke="#585858" stroke-width="1"/>
<line x1="428.6" y1="311.5" x2="428.6" y2="313.9" stroke="#262626" stroke-width="0.9"/>
<polygon points="428.6,240.13 429.16,241.26 430.41,241.44 429.5,242.32 429.72,243.57 428.6,242.98 427.48,243.57 427.7,242.32 426.79,241.44 428.04,241.26" fill="#3a3a3a"/>
<polygon points="428.6,236.38 429.16,237.51 430.41,237.69 429.5,238.57 429.72,239.82 428.6,239.23 427.48,239.82 427.7,238.57 426.79,237.69 428.04,237.51" fill="#3a3a3a"/>
<polygon points="428.6,232.63 429.16,233.76 430.41,233.94 429.5,234.82 429.72,236.07 428.6,235.48 427.48,236.07 427.7,234.82 426.79,233.94 428.04,233.76" fill="#3a3a3a"/>
<polygon points="428.6,228.88 429.16,230.01 430.41,230.19 429.5,231.07 429.72,232.32 428.6,231.73 427.48,232.32 427.7,231.07 426.79,230.19 428.04,230.01" fill="#3a3a3a"/>
<line x1="446.9" y1="276.52" x2="446.9" y2="279.5" stroke="#5a5a5a" stroke-width="0.85"/>
<line x1="445.1" y1="276.52" x2="448.7" y2="276.52" stroke="#555" stroke-width="0.95"/>
<rect x="443.9" y="279.5" width="6" height="32" fill="#cea5a4" stroke="#585858" stroke-width="1"/>
<line x1="446.9" y1="311.5" x2="446.9" y2="313.9" stroke="#262626" stroke-width="0.9"/>
<line x1="457.9" y1="255.85" x2="457.9" y2="258.5" stroke="#5a5a5a" stroke-width="0.85"/>
<line x1="456.1" y1="255.85" x2="459.7" y2="255.85" stroke="#555" stroke-width="0.95"/>
<rect x="454.9" y="258.5" width="6" height="53" fill="#cea5a4" stroke="#585858" stroke-width="1"/>
<line x1="457.9" y1="311.5" x2="457.9" y2="313.9" stroke="#262626" stroke-width="0.9"/>
<polygon points="457.9,249.35 458.46,250.48 459.71,250.66 458.8,251.54 459.02,252.79 457.9,252.2 456.78,252.79 457,251.54 456.09,250.66 457.34,250.48" fill="#3a3a3a"/>
<polygon points="457.9,245.6 458.46,246.73 459.71,246.91 458.8,247.79 459.02,249.04 457.9,248.45 456.78,249.04 457,247.79 456.09,246.91 457.34,246.73" fill="#3a3a3a"/>
<polygon points="457.9,241.85 458.46,242.98 459.71,243.16 458.8,244.04 459.02,245.29 457.9,244.7 456.78,245.29 457,244.04 456.09,243.16 457.34,242.98" fill="#3a3a3a"/>
<polygon points="457.9,238.1 458.46,239.23 459.71,239.41 458.8,240.29 459.02,241.54 457.9,240.95 456.78,241.54 457,240.29 456.09,239.41 457.34,239.23" fill="#3a3a3a"/>
<line x1="468.8" y1="257.44" x2="468.8" y2="258.5" stroke="#5a5a5a" stroke-width="0.85"/>
<line x1="467" y1="257.44" x2="470.6" y2="257.44" stroke="#555" stroke-width="0.95"/>
<rect x="465.8" y="258.5" width="6" height="53" fill="#cea5a4" stroke="#585858" stroke-width="1"/>
<line x1="468.8" y1="311.5" x2="468.8" y2="313.9" stroke="#262626" stroke-width="0.9"/>
<polygon points="468.8,250.94 469.36,252.07 470.61,252.25 469.7,253.13 469.92,254.38 468.8,253.79 467.68,254.38 467.9,253.13 466.99,252.25 468.24,252.07" fill="#3a3a3a"/>
<polygon points="468.8,247.19 469.36,248.32 470.61,248.5 469.7,249.38 469.92,250.63 468.8,250.04 467.68,250.63 467.9,249.38 466.99,248.5 468.24,248.32" fill="#3a3a3a"/>
<polygon points="468.8,243.44 469.36,244.57 470.61,244.75 469.7,245.63 469.92,246.88 468.8,246.29 467.68,246.88 467.9,245.63 466.99,244.75 468.24,244.57" fill="#3a3a3a"/>
<polygon points="468.8,239.69 469.36,240.82 470.61,241 469.7,241.88 469.92,243.13 468.8,242.54 467.68,243.13 467.9,241.88 466.99,241 468.24,240.82" fill="#3a3a3a"/>
<line x1="479.9" y1="255.85" x2="479.9" y2="259.5" stroke="#5a5a5a" stroke-width="0.85"/>
<line x1="478.1" y1="255.85" x2="481.7" y2="255.85" stroke="#555" stroke-width="0.95"/>
<rect x="476.9" y="259.5" width="6" height="52" fill="#cea5a4" stroke="#585858" stroke-width="1"/>
<line x1="479.9" y1="311.5" x2="479.9" y2="313.9" stroke="#262626" stroke-width="0.9"/>
<polygon points="479.9,249.35 480.46,250.48 481.71,250.66 480.8,251.54 481.02,252.79 479.9,252.2 478.78,252.79 479,251.54 478.09,250.66 479.34,250.48" fill="#3a3a3a"/>
<polygon points="479.9,245.6 480.46,246.73 481.71,246.91 480.8,247.79 481.02,249.04 479.9,248.45 478.78,249.04 479,247.79 478.09,246.91 479.34,246.73" fill="#3a3a3a"/>
<polygon points="479.9,241.85 480.46,242.98 481.71,243.16 480.8,244.04 481.02,245.29 479.9,244.7 478.78,245.29 479,244.04 478.09,243.16 479.34,242.98" fill="#3a3a3a"/>
<polygon points="479.9,238.1 480.46,239.23 481.71,239.41 480.8,240.29 481.02,241.54 479.9,240.95 478.78,241.54 479,240.29 478.09,239.41 479.34,239.23" fill="#3a3a3a"/>
<line x1="490.8" y1="253.94" x2="490.8" y2="257.5" stroke="#5a5a5a" stroke-width="0.85"/>
<line x1="489" y1="253.94" x2="492.6" y2="253.94" stroke="#555" stroke-width="0.95"/>
<rect x="487.8" y="257.5" width="6" height="54" fill="#cea5a4" stroke="#585858" stroke-width="1"/>
<line x1="490.8" y1="311.5" x2="490.8" y2="313.9" stroke="#262626" stroke-width="0.9"/>
<polygon points="490.8,247.44 491.36,248.57 492.61,248.75 491.7,249.64 491.92,250.88 490.8,250.29 489.68,250.88 489.9,249.64 488.99,248.75 490.24,248.57" fill="#3a3a3a"/>
<polygon points="490.8,243.69 491.36,244.82 492.61,245 491.7,245.89 491.92,247.13 490.8,246.54 489.68,247.13 489.9,245.89 488.99,245 490.24,244.82" fill="#3a3a3a"/>
<polygon points="490.8,239.94 491.36,241.07 492.61,241.25 491.7,242.14 491.92,243.38 490.8,242.79 489.68,243.38 489.9,242.14 488.99,241.25 490.24,241.07" fill="#3a3a3a"/>
<polygon points="490.8,236.19 491.36,237.32 492.61,237.5 491.7,238.39 491.92,239.63 490.8,239.04 489.68,239.63 489.9,238.39 488.99,237.5 490.24,237.32" fill="#3a3a3a"/>
<text x="387.9" y="319.3" font-size="6.1" font-weight="bold" text-anchor="end" fill="#1a1a1a" stroke="#1a1a1a" stroke-width="0.15" transform="rotate(-45 387.9 319.3)">Medium</text>
<text x="398.7" y="319.3" font-size="6.1" font-weight="bold" text-anchor="end" fill="#1a1a1a" stroke="#1a1a1a" stroke-width="0.15" transform="rotate(-45 398.7 319.3)">1</text>
<text x="409.4" y="319.3" font-size="6.1" font-weight="bold" text-anchor="end" fill="#1a1a1a" stroke="#1a1a1a" stroke-width="0.15" transform="rotate(-45 409.4 319.3)">3</text>
<text x="420.1" y="319.3" font-size="6.1" font-weight="bold" text-anchor="end" fill="#1a1a1a" stroke="#1a1a1a" stroke-width="0.15" transform="rotate(-45 420.1 319.3)">5</text>
<text x="430.9" y="319.3" font-size="6.1" font-weight="bold" text-anchor="end" fill="#1a1a1a" stroke="#1a1a1a" stroke-width="0.15" transform="rotate(-45 430.9 319.3)">10</text>
<text x="449.2" y="319.3" font-size="6.1" font-weight="bold" text-anchor="end" fill="#1a1a1a" stroke="#1a1a1a" stroke-width="0.15" transform="rotate(-45 449.2 319.3)">Medium</text>
<text x="460.2" y="319.3" font-size="6.1" font-weight="bold" text-anchor="end" fill="#1a1a1a" stroke="#1a1a1a" stroke-width="0.15" transform="rotate(-45 460.2 319.3)">1</text>
<text x="471.1" y="319.3" font-size="6.1" font-weight="bold" text-anchor="end" fill="#1a1a1a" stroke="#1a1a1a" stroke-width="0.15" transform="rotate(-45 471.1 319.3)">3</text>
<text x="482.2" y="319.3" font-size="6.1" font-weight="bold" text-anchor="end" fill="#1a1a1a" stroke="#1a1a1a" stroke-width="0.15" transform="rotate(-45 482.2 319.3)">5</text>
<text x="493.1" y="319.3" font-size="6.1" font-weight="bold" text-anchor="end" fill="#1a1a1a" stroke="#1a1a1a" stroke-width="0.15" transform="rotate(-45 493.1 319.3)">10</text>
<line x1="393.4" y1="327.5" x2="429.5" y2="327.5" stroke="#7c7c7c" stroke-width="0.9"/>
<text x="411.45" y="335" font-size="6" font-weight="bold" text-anchor="middle" fill="#1a1a1a" stroke="#1a1a1a" stroke-width="0.15">17-AAG</text>
<text x="411.45" y="341.5" font-size="6" font-weight="bold" text-anchor="middle" fill="#1a1a1a" stroke="#1a1a1a" stroke-width="0.15">[&#956;M]</text>
<line x1="454.9" y1="327.5" x2="491.7" y2="327.5" stroke="#7c7c7c" stroke-width="0.9"/>
<text x="473.3" y="335" font-size="6" font-weight="bold" text-anchor="middle" fill="#1a1a1a" stroke="#1a1a1a" stroke-width="0.15">17-AAG [&#956;M]</text>
<text x="354.4" y="271.75" font-size="6.85" font-weight="bold" text-anchor="middle" fill="#1a1a1a" stroke="#1a1a1a" stroke-width="0.15" transform="rotate(-90 354.4 271.75)">fold of control</text>
<text x="362.2" y="271.75" font-size="6.7" font-weight="bold" text-anchor="middle" fill="#1a1a1a" stroke="#1a1a1a" stroke-width="0.15" transform="rotate(-90 362.2 271.75)">[HSP70/&#946;-Actin]</text>
<line x1="378.5" y1="341.4" x2="378.5" y2="421.5" stroke="#262626" stroke-width="1"/>
<line x1="378" y1="421" x2="498" y2="421" stroke="#262626" stroke-width="1"/>
<line x1="375" y1="421" x2="378.5" y2="421" stroke="#262626" stroke-width="0.9"/>
<text x="374.2" y="423.3" font-size="6.4" font-weight="normal" text-anchor="end" fill="#1a1a1a" stroke="#1a1a1a" stroke-width="0.2">0</text>
<line x1="375" y1="401.1" x2="378.5" y2="401.1" stroke="#262626" stroke-width="0.9"/>
<text x="374.2" y="403.4" font-size="6.4" font-weight="normal" text-anchor="end" fill="#1a1a1a" stroke="#1a1a1a" stroke-width="0.2">1</text>
<line x1="375" y1="381.2" x2="378.5" y2="381.2" stroke="#262626" stroke-width="0.9"/>
<text x="374.2" y="383.5" font-size="6.4" font-weight="normal" text-anchor="end" fill="#1a1a1a" stroke="#1a1a1a" stroke-width="0.2">2</text>
<line x1="375" y1="361.3" x2="378.5" y2="361.3" stroke="#262626" stroke-width="0.9"/>
<text x="374.2" y="363.6" font-size="6.4" font-weight="normal" text-anchor="end" fill="#1a1a1a" stroke="#1a1a1a" stroke-width="0.2">3</text>
<line x1="375" y1="341.4" x2="378.5" y2="341.4" stroke="#262626" stroke-width="0.9"/>
<text x="374.2" y="343.7" font-size="6.4" font-weight="normal" text-anchor="end" fill="#1a1a1a" stroke="#1a1a1a" stroke-width="0.2">4</text>
<line x1="385.6" y1="398.31" x2="385.6" y2="401.5" stroke="#5a5a5a" stroke-width="0.85"/>
<line x1="383.8" y1="398.31" x2="387.4" y2="398.31" stroke="#555" stroke-width="0.95"/>
<rect x="382.6" y="401.5" width="6" height="19.5" fill="#b6b7b6" stroke="#585858" stroke-width="1"/>
<line x1="385.6" y1="421" x2="385.6" y2="423.4" stroke="#262626" stroke-width="0.9"/>
<line x1="396.4" y1="361.3" x2="396.4" y2="369.5" stroke="#5a5a5a" stroke-width="0.85"/>
<line x1="394.6" y1="361.3" x2="398.2" y2="361.3" stroke="#555" stroke-width="0.95"/>
<rect x="393.4" y="369.5" width="6" height="51.5" fill="#b6b7b6" stroke="#585858" stroke-width="1"/>
<line x1="396.4" y1="421" x2="396.4" y2="423.4" stroke="#262626" stroke-width="0.9"/>
<polygon points="396.4,354.8 396.96,355.93 398.21,356.11 397.3,356.99 397.52,358.24 396.4,357.65 395.28,358.24 395.5,356.99 394.59,356.11 395.84,355.93" fill="#3a3a3a"/>
<polygon points="396.4,351.05 396.96,352.18 398.21,352.36 397.3,353.24 397.52,354.49 396.4,353.9 395.28,354.49 395.5,353.24 394.59,352.36 395.84,352.18" fill="#3a3a3a"/>
<polygon points="396.4,347.3 396.96,348.43 398.21,348.61 397.3,349.49 397.52,350.74 396.4,350.15 395.28,350.74 395.5,349.49 394.59,348.61 395.84,348.43" fill="#3a3a3a"/>
<line x1="407.1" y1="363.29" x2="407.1" y2="374.5" stroke="#5a5a5a" stroke-width="0.85"/>
<line x1="405.3" y1="363.29" x2="408.9" y2="363.29" stroke="#555" stroke-width="0.95"/>
<rect x="404.1" y="374.5" width="6" height="46.5" fill="#b6b7b6" stroke="#585858" stroke-width="1"/>
<line x1="407.1" y1="421" x2="407.1" y2="423.4" stroke="#262626" stroke-width="0.9"/>
<polygon points="407.1,356.79 407.66,357.92 408.91,358.1 408,358.98 408.22,360.23 407.1,359.64 405.98,360.23 406.2,358.98 405.29,358.1 406.54,357.92" fill="#3a3a3a"/>
<polygon points="407.1,353.04 407.66,354.17 408.91,354.35 408,355.23 408.22,356.48 407.1,355.89 405.98,356.48 406.2,355.23 405.29,354.35 406.54,354.17" fill="#3a3a3a"/>
<line x1="417.8" y1="372.25" x2="417.8" y2="376.5" stroke="#5a5a5a" stroke-width="0.85"/>
<line x1="416" y1="372.25" x2="419.6" y2="372.25" stroke="#555" stroke-width="0.95"/>
<rect x="414.8" y="376.5" width="6" height="44.5" fill="#b6b7b6" stroke="#585858" stroke-width="1"/>
<line x1="417.8" y1="421" x2="417.8" y2="423.4" stroke="#262626" stroke-width="0.9"/>
<polygon points="417.8,365.75 418.36,366.88 419.61,367.06 418.7,367.94 418.92,369.18 417.8,368.59 416.68,369.18 416.9,367.94 415.99,367.06 417.24,366.88" fill="#3a3a3a"/>
<polygon points="417.8,362 418.36,363.13 419.61,363.31 418.7,364.19 418.92,365.43 417.8,364.84 416.68,365.43 416.9,364.19 415.99,363.31 417.24,363.13" fill="#3a3a3a"/>
<line x1="428.6" y1="373.5" x2="428.6" y2="374.5" stroke="#5a5a5a" stroke-width="0.85"/>
<line x1="426.8" y1="373.5" x2="430.4" y2="373.5" stroke="#555" stroke-width="0.95"/>
<rect x="425.6" y="374.5" width="6" height="46.5" fill="#b6b7b6" stroke="#585858" stroke-width="1"/>
<line x1="428.6" y1="421" x2="428.6" y2="423.4" stroke="#262626" stroke-width="0.9"/>
<polygon points="428.6,367 429.16,368.13 430.41,368.31 429.5,369.19 429.72,370.44 428.6,369.85 427.48,370.44 427.7,369.19 426.79,368.31 428.04,368.13" fill="#3a3a3a"/>
<polygon points="428.6,363.25 429.16,364.38 430.41,364.56 429.5,365.44 429.72,366.69 428.6,366.1 427.48,366.69 427.7,365.44 426.79,364.56 428.04,364.38" fill="#3a3a3a"/>
<line x1="446.9" y1="399.51" x2="446.9" y2="401.5" stroke="#5a5a5a" stroke-width="0.85"/>
<line x1="445.1" y1="399.51" x2="448.7" y2="399.51" stroke="#555" stroke-width="0.95"/>
<rect x="443.9" y="401.5" width="6" height="19.5" fill="#cea5a4" stroke="#585858" stroke-width="1"/>
<line x1="446.9" y1="421" x2="446.9" y2="423.4" stroke="#262626" stroke-width="0.9"/>
<line x1="457.9" y1="385.58" x2="457.9" y2="388.5" stroke="#5a5a5a" stroke-width="0.85"/>
<line x1="456.1" y1="385.58" x2="459.7" y2="385.58" stroke="#555" stroke-width="0.95"/>
<rect x="454.9" y="388.5" width="6" height="32.5" fill="#cea5a4" stroke="#585858" stroke-width="1"/>
<line x1="457.9" y1="421" x2="457.9" y2="423.4" stroke="#262626" stroke-width="0.9"/>
<polygon points="457.9,379.08 458.46,380.21 459.71,380.39 458.8,381.27 459.02,382.52 457.9,381.93 456.78,382.52 457,381.27 456.09,380.39 457.34,380.21" fill="#3a3a3a"/>
<polygon points="457.9,375.33 458.46,376.46 459.71,376.64 458.8,377.52 459.02,378.77 457.9,378.18 456.78,378.77 457,377.52 456.09,376.64 457.34,376.46" fill="#3a3a3a"/>
<polygon points="457.9,371.58 458.46,372.71 459.71,372.89 458.8,373.77 459.02,375.02 457.9,374.43 456.78,375.02 457,373.77 456.09,372.89 457.34,372.71" fill="#3a3a3a"/>
<line x1="468.8" y1="382.59" x2="468.8" y2="385.5" stroke="#5a5a5a" stroke-width="0.85"/>
<line x1="467" y1="382.59" x2="470.6" y2="382.59" stroke="#555" stroke-width="0.95"/>
<rect x="465.8" y="385.5" width="6" height="35.5" fill="#cea5a4" stroke="#585858" stroke-width="1"/>
<line x1="468.8" y1="421" x2="468.8" y2="423.4" stroke="#262626" stroke-width="0.9"/>
<polygon points="468.8,376.09 469.36,377.22 470.61,377.41 469.7,378.29 469.92,379.53 468.8,378.94 467.68,379.53 467.9,378.29 466.99,377.41 468.24,377.22" fill="#3a3a3a"/>
<polygon points="468.8,372.34 469.36,373.47 470.61,373.66 469.7,374.54 469.92,375.78 468.8,375.19 467.68,375.78 467.9,374.54 466.99,373.66 468.24,373.47" fill="#3a3a3a"/>
<polygon points="468.8,368.59 469.36,369.72 470.61,369.91 469.7,370.79 469.92,372.03 468.8,371.44 467.68,372.03 467.9,370.79 466.99,369.91 468.24,369.72" fill="#3a3a3a"/>
<polygon points="468.8,364.84 469.36,365.97 470.61,366.16 469.7,367.04 469.92,368.28 468.8,367.69 467.68,368.28 467.9,367.04 466.99,366.16 468.24,365.97" fill="#3a3a3a"/>
<line x1="479.9" y1="386.57" x2="479.9" y2="389.5" stroke="#5a5a5a" stroke-width="0.85"/>
<line x1="478.1" y1="386.57" x2="481.7" y2="386.57" stroke="#555" stroke-width="0.95"/>
<rect x="476.9" y="389.5" width="6" height="31.5" fill="#cea5a4" stroke="#585858" stroke-width="1"/>
<line x1="479.9" y1="421" x2="479.9" y2="423.4" stroke="#262626" stroke-width="0.9"/>
<polygon points="479.9,380.07 480.46,381.2 481.71,381.39 480.8,382.27 481.02,383.51 479.9,382.92 478.78,383.51 479,382.27 478.09,381.39 479.34,381.2" fill="#3a3a3a"/>
<polygon points="479.9,376.32 480.46,377.45 481.71,377.64 480.8,378.52 481.02,379.76 479.9,379.17 478.78,379.76 479,378.52 478.09,377.64 479.34,377.45" fill="#3a3a3a"/>
<polygon points="479.9,372.57 480.46,373.7 481.71,373.89 480.8,374.77 481.02,376.01 479.9,375.42 478.78,376.01 479,374.77 478.09,373.89 479.34,373.7" fill="#3a3a3a"/>
<line x1="490.8" y1="387.97" x2="490.8" y2="391.5" stroke="#5a5a5a" stroke-width="0.85"/>
<line x1="489" y1="387.97" x2="492.6" y2="387.97" stroke="#555" stroke-width="0.95"/>
<rect x="487.8" y="391.5" width="6" height="29.5" fill="#cea5a4" stroke="#585858" stroke-width="1"/>
<line x1="490.8" y1="421" x2="490.8" y2="423.4" stroke="#262626" stroke-width="0.9"/>
<polygon points="490.8,381.47 491.36,382.6 492.61,382.78 491.7,383.66 491.92,384.9 490.8,384.32 489.68,384.9 489.9,383.66 488.99,382.78 490.24,382.6" fill="#3a3a3a"/>
<polygon points="490.8,377.72 491.36,378.85 492.61,379.03 491.7,379.91 491.92,381.15 490.8,380.57 489.68,381.15 489.9,379.91 488.99,379.03 490.24,378.85" fill="#3a3a3a"/>
<text x="387.9" y="428.8" font-size="6.1" font-weight="bold" text-anchor="end" fill="#1a1a1a" stroke="#1a1a1a" stroke-width="0.15" transform="rotate(-45 387.9 428.8)">Medium</text>
<text x="398.7" y="428.8" font-size="6.1" font-weight="bold" text-anchor="end" fill="#1a1a1a" stroke="#1a1a1a" stroke-width="0.15" transform="rotate(-45 398.7 428.8)">1</text>
<text x="409.4" y="428.8" font-size="6.1" font-weight="bold" text-anchor="end" fill="#1a1a1a" stroke="#1a1a1a" stroke-width="0.15" transform="rotate(-45 409.4 428.8)">3</text>
<text x="420.1" y="428.8" font-size="6.1" font-weight="bold" text-anchor="end" fill="#1a1a1a" stroke="#1a1a1a" stroke-width="0.15" transform="rotate(-45 420.1 428.8)">5</text>
<text x="430.9" y="428.8" font-size="6.1" font-weight="bold" text-anchor="end" fill="#1a1a1a" stroke="#1a1a1a" stroke-width="0.15" transform="rotate(-45 430.9 428.8)">10</text>
<text x="449.2" y="428.8" font-size="6.1" font-weight="bold" text-anchor="end" fill="#1a1a1a" stroke="#1a1a1a" stroke-width="0.15" transform="rotate(-45 449.2 428.8)">Medium</text>
<text x="460.2" y="428.8" font-size="6.1" font-weight="bold" text-anchor="end" fill="#1a1a1a" stroke="#1a1a1a" stroke-width="0.15" transform="rotate(-45 460.2 428.8)">1</text>
<text x="471.1" y="428.8" font-size="6.1" font-weight="bold" text-anchor="end" fill="#1a1a1a" stroke="#1a1a1a" stroke-width="0.15" transform="rotate(-45 471.1 428.8)">3</text>
<text x="482.2" y="428.8" font-size="6.1" font-weight="bold" text-anchor="end" fill="#1a1a1a" stroke="#1a1a1a" stroke-width="0.15" transform="rotate(-45 482.2 428.8)">5</text>
<text x="493.1" y="428.8" font-size="6.1" font-weight="bold" text-anchor="end" fill="#1a1a1a" stroke="#1a1a1a" stroke-width="0.15" transform="rotate(-45 493.1 428.8)">10</text>
<line x1="393.4" y1="436.5" x2="429.5" y2="436.5" stroke="#7c7c7c" stroke-width="0.9"/>
<text x="411.45" y="444" font-size="6" font-weight="bold" text-anchor="middle" fill="#1a1a1a" stroke="#1a1a1a" stroke-width="0.15">17-AAG</text>
<text x="411.45" y="450.5" font-size="6" font-weight="bold" text-anchor="middle" fill="#1a1a1a" stroke="#1a1a1a" stroke-width="0.15">[&#956;M]</text>
<line x1="454.9" y1="436.5" x2="491.7" y2="436.5" stroke="#7c7c7c" stroke-width="0.9"/>
<text x="473.3" y="444" font-size="6" font-weight="bold" text-anchor="middle" fill="#1a1a1a" stroke="#1a1a1a" stroke-width="0.15">17-AAG [&#956;M]</text>
<text x="358.7" y="381.2" font-size="6.85" font-weight="bold" text-anchor="middle" fill="#1a1a1a" stroke="#1a1a1a" stroke-width="0.15" transform="rotate(-90 358.7 381.2)">fold of control</text>
<text x="366.5" y="381.2" font-size="6.7" font-weight="bold" text-anchor="middle" fill="#1a1a1a" stroke="#1a1a1a" stroke-width="0.15" transform="rotate(-90 366.5 381.2)">[HSP40/&#946;-Actin]</text>
<line x1="382.5" y1="452.4" x2="382.5" y2="532" stroke="#262626" stroke-width="1"/>
<line x1="382" y1="531.5" x2="503" y2="531.5" stroke="#262626" stroke-width="1"/>
<line x1="379" y1="531.5" x2="382.5" y2="531.5" stroke="#262626" stroke-width="0.9"/>
<text x="378.2" y="533.8" font-size="6.4" font-weight="normal" text-anchor="end" fill="#1a1a1a" stroke="#1a1a1a" stroke-width="0.2">0</text>
<line x1="379" y1="511.73" x2="382.5" y2="511.73" stroke="#262626" stroke-width="0.9"/>
<text x="378.2" y="514.02" font-size="6.4" font-weight="normal" text-anchor="end" fill="#1a1a1a" stroke="#1a1a1a" stroke-width="0.2">0.5</text>
<line x1="379" y1="491.95" x2="382.5" y2="491.95" stroke="#262626" stroke-width="0.9"/>
<text x="378.2" y="494.25" font-size="6.4" font-weight="normal" text-anchor="end" fill="#1a1a1a" stroke="#1a1a1a" stroke-width="0.2">1.0</text>
<line x1="379" y1="472.17" x2="382.5" y2="472.17" stroke="#262626" stroke-width="0.9"/>
<text x="378.2" y="474.47" font-size="6.4" font-weight="normal" text-anchor="end" fill="#1a1a1a" stroke="#1a1a1a" stroke-width="0.2">1.5</text>
<line x1="379" y1="452.4" x2="382.5" y2="452.4" stroke="#262626" stroke-width="0.9"/>
<text x="378.2" y="454.7" font-size="6.4" font-weight="normal" text-anchor="end" fill="#1a1a1a" stroke="#1a1a1a" stroke-width="0.2">2.0</text>
<line x1="390.2" y1="490.5" x2="390.2" y2="491.5" stroke="#5a5a5a" stroke-width="0.85"/>
<line x1="388.4" y1="490.5" x2="392" y2="490.5" stroke="#555" stroke-width="0.95"/>
<rect x="387.2" y="491.5" width="6" height="40" fill="#b6b7b6" stroke="#585858" stroke-width="1"/>
<line x1="390.2" y1="531.5" x2="390.2" y2="533.9" stroke="#262626" stroke-width="0.9"/>
<line x1="401" y1="472.17" x2="401" y2="476.5" stroke="#5a5a5a" stroke-width="0.85"/>
<line x1="399.2" y1="472.17" x2="402.8" y2="472.17" stroke="#555" stroke-width="0.95"/>
<rect x="398" y="476.5" width="6" height="55" fill="#b6b7b6" stroke="#585858" stroke-width="1"/>
<line x1="401" y1="531.5" x2="401" y2="533.9" stroke="#262626" stroke-width="0.9"/>
<polygon points="401,465.67 401.56,466.81 402.81,466.99 401.9,467.87 402.12,469.11 401,468.52 399.88,469.11 400.1,467.87 399.19,466.99 400.44,466.81" fill="#3a3a3a"/>
<line x1="411.8" y1="470.2" x2="411.8" y2="476.5" stroke="#5a5a5a" stroke-width="0.85"/>
<line x1="410" y1="470.2" x2="413.6" y2="470.2" stroke="#555" stroke-width="0.95"/>
<rect x="408.8" y="476.5" width="6" height="55" fill="#b6b7b6" stroke="#585858" stroke-width="1"/>
<line x1="411.8" y1="531.5" x2="411.8" y2="533.9" stroke="#262626" stroke-width="0.9"/>
<polygon points="411.8,463.7 412.36,464.83 413.61,465.01 412.7,465.89 412.92,467.13 411.8,466.55 410.68,467.13 410.9,465.89 409.99,465.01 411.24,464.83" fill="#3a3a3a"/>
<line x1="422.7" y1="480.08" x2="422.7" y2="484.5" stroke="#5a5a5a" stroke-width="0.85"/>
<line x1="420.9" y1="480.08" x2="424.5" y2="480.08" stroke="#555" stroke-width="0.95"/>
<rect x="419.7" y="484.5" width="6" height="47" fill="#b6b7b6" stroke="#585858" stroke-width="1"/>
<line x1="422.7" y1="531.5" x2="422.7" y2="533.9" stroke="#262626" stroke-width="0.9"/>
<line x1="433.6" y1="476.92" x2="433.6" y2="484.5" stroke="#5a5a5a" stroke-width="0.85"/>
<line x1="431.8" y1="476.92" x2="435.4" y2="476.92" stroke="#555" stroke-width="0.95"/>
<rect x="430.6" y="484.5" width="6" height="47" fill="#b6b7b6" stroke="#585858" stroke-width="1"/>
<line x1="433.6" y1="531.5" x2="433.6" y2="533.9" stroke="#262626" stroke-width="0.9"/>
<line x1="451.9" y1="488" x2="451.9" y2="491.5" stroke="#5a5a5a" stroke-width="0.85"/>
<line x1="450.1" y1="488" x2="453.7" y2="488" stroke="#555" stroke-width="0.95"/>
<rect x="448.9" y="491.5" width="6" height="40" fill="#cea5a4" stroke="#585858" stroke-width="1"/>
<line x1="451.9" y1="531.5" x2="451.9" y2="533.9" stroke="#262626" stroke-width="0.9"/>
<line x1="462.9" y1="475.34" x2="462.9" y2="480.5" stroke="#5a5a5a" stroke-width="0.85"/>
<line x1="461.1" y1="475.34" x2="464.7" y2="475.34" stroke="#555" stroke-width="0.95"/>
<rect x="459.9" y="480.5" width="6" height="51" fill="#cea5a4" stroke="#585858" stroke-width="1"/>
<line x1="462.9" y1="531.5" x2="462.9" y2="533.9" stroke="#262626" stroke-width="0.9"/>
<polygon points="462.9,468.84 463.46,469.97 464.71,470.15 463.8,471.03 464.02,472.28 462.9,471.69 461.78,472.28 462,471.03 461.09,470.15 462.34,469.97" fill="#3a3a3a"/>
<line x1="473.8" y1="480.08" x2="473.8" y2="482.5" stroke="#5a5a5a" stroke-width="0.85"/>
<line x1="472" y1="480.08" x2="475.6" y2="480.08" stroke="#555" stroke-width="0.95"/>
<rect x="470.8" y="482.5" width="6" height="49" fill="#cea5a4" stroke="#585858" stroke-width="1"/>
<line x1="473.8" y1="531.5" x2="473.8" y2="533.9" stroke="#262626" stroke-width="0.9"/>
<polygon points="473.8,473.58 474.36,474.72 475.61,474.9 474.7,475.78 474.92,477.02 473.8,476.43 472.68,477.02 472.9,475.78 471.99,474.9 473.24,474.72" fill="#3a3a3a"/>
<line x1="484.8" y1="480.08" x2="484.8" y2="484.5" stroke="#5a5a5a" stroke-width="0.85"/>
<line x1="483" y1="480.08" x2="486.6" y2="480.08" stroke="#555" stroke-width="0.95"/>
<rect x="481.8" y="484.5" width="6" height="47" fill="#cea5a4" stroke="#585858" stroke-width="1"/>
<line x1="484.8" y1="531.5" x2="484.8" y2="533.9" stroke="#262626" stroke-width="0.9"/>
<line x1="495.8" y1="475.34" x2="495.8" y2="480.5" stroke="#5a5a5a" stroke-width="0.85"/>
<line x1="494" y1="475.34" x2="497.6" y2="475.34" stroke="#555" stroke-width="0.95"/>
<rect x="492.8" y="480.5" width="6" height="51" fill="#cea5a4" stroke="#585858" stroke-width="1"/>
<line x1="495.8" y1="531.5" x2="495.8" y2="533.9" stroke="#262626" stroke-width="0.9"/>
<polygon points="495.8,468.84 496.36,469.97 497.61,470.15 496.7,471.03 496.92,472.28 495.8,471.69 494.68,472.28 494.9,471.03 493.99,470.15 495.24,469.97" fill="#3a3a3a"/>
<text x="392.5" y="539.3" font-size="6.1" font-weight="bold" text-anchor="end" fill="#1a1a1a" stroke="#1a1a1a" stroke-width="0.15" transform="rotate(-45 392.5 539.3)">Medium</text>
<text x="403.3" y="539.3" font-size="6.1" font-weight="bold" text-anchor="end" fill="#1a1a1a" stroke="#1a1a1a" stroke-width="0.15" transform="rotate(-45 403.3 539.3)">1</text>
<text x="414.1" y="539.3" font-size="6.1" font-weight="bold" text-anchor="end" fill="#1a1a1a" stroke="#1a1a1a" stroke-width="0.15" transform="rotate(-45 414.1 539.3)">3</text>
<text x="425" y="539.3" font-size="6.1" font-weight="bold" text-anchor="end" fill="#1a1a1a" stroke="#1a1a1a" stroke-width="0.15" transform="rotate(-45 425 539.3)">5</text>
<text x="435.9" y="539.3" font-size="6.1" font-weight="bold" text-anchor="end" fill="#1a1a1a" stroke="#1a1a1a" stroke-width="0.15" transform="rotate(-45 435.9 539.3)">10</text>
<text x="454.2" y="539.3" font-size="6.1" font-weight="bold" text-anchor="end" fill="#1a1a1a" stroke="#1a1a1a" stroke-width="0.15" transform="rotate(-45 454.2 539.3)">Medium</text>
<text x="465.2" y="539.3" font-size="6.1" font-weight="bold" text-anchor="end" fill="#1a1a1a" stroke="#1a1a1a" stroke-width="0.15" transform="rotate(-45 465.2 539.3)">1</text>
<text x="476.1" y="539.3" font-size="6.1" font-weight="bold" text-anchor="end" fill="#1a1a1a" stroke="#1a1a1a" stroke-width="0.15" transform="rotate(-45 476.1 539.3)">3</text>
<text x="487.1" y="539.3" font-size="6.1" font-weight="bold" text-anchor="end" fill="#1a1a1a" stroke="#1a1a1a" stroke-width="0.15" transform="rotate(-45 487.1 539.3)">5</text>
<text x="498.1" y="539.3" font-size="6.1" font-weight="bold" text-anchor="end" fill="#1a1a1a" stroke="#1a1a1a" stroke-width="0.15" transform="rotate(-45 498.1 539.3)">10</text>
<line x1="398" y1="548.5" x2="434.5" y2="548.5" stroke="#7c7c7c" stroke-width="0.9"/>
<text x="416.25" y="556" font-size="6" font-weight="bold" text-anchor="middle" fill="#1a1a1a" stroke="#1a1a1a" stroke-width="0.15">17-AAG</text>
<text x="416.25" y="562.5" font-size="6" font-weight="bold" text-anchor="middle" fill="#1a1a1a" stroke="#1a1a1a" stroke-width="0.15">[&#956;M]</text>
<line x1="459.9" y1="548.5" x2="496.7" y2="548.5" stroke="#7c7c7c" stroke-width="0.9"/>
<text x="478.3" y="556" font-size="6" font-weight="bold" text-anchor="middle" fill="#1a1a1a" stroke="#1a1a1a" stroke-width="0.15">17-AAG [&#956;M]</text>
<text x="358.9" y="491.95" font-size="6.85" font-weight="bold" text-anchor="middle" fill="#1a1a1a" stroke="#1a1a1a" stroke-width="0.15" transform="rotate(-90 358.9 491.95)">fold of control</text>
<text x="367.4" y="491.95" font-size="6.7" font-weight="bold" text-anchor="middle" fill="#1a1a1a" stroke="#1a1a1a" stroke-width="0.15" transform="rotate(-90 367.4 491.95)">[HSP27/&#946;-Actin]</text>
<rect x="463.1" y="108.7" width="8.4" height="3.8" fill="#b6b7b6" stroke="#585858" stroke-width="1"/>
<rect x="463.1" y="120.9" width="8.4" height="3.8" fill="#cea5a4" stroke="#585858" stroke-width="1"/>
<text x="477.2" y="113.7" font-size="7.7" font-weight="normal" text-anchor="start" fill="#1e1e1e" stroke="#1e1e1e" stroke-width="0.22">T24</text>
<text x="477.2" y="125.9" font-size="7.7" font-weight="normal" text-anchor="start" fill="#1e1e1e" stroke="#1e1e1e" stroke-width="0.22">T24-CR</text>
<line x1="551.5" y1="114" x2="551.5" y2="195" stroke="#262626" stroke-width="1"/>
<line x1="551" y1="194.5" x2="672.5" y2="194.5" stroke="#262626" stroke-width="1"/>
<line x1="548" y1="194.5" x2="551.5" y2="194.5" stroke="#262626" stroke-width="0.9"/>
<text x="547.2" y="196.8" font-size="6.4" font-weight="normal" text-anchor="end" fill="#1a1a1a" stroke="#1a1a1a" stroke-width="0.2">0</text>
<line x1="548" y1="167.67" x2="551.5" y2="167.67" stroke="#262626" stroke-width="0.9"/>
<text x="547.2" y="169.97" font-size="6.4" font-weight="normal" text-anchor="end" fill="#1a1a1a" stroke="#1a1a1a" stroke-width="0.2">0.5</text>
<line x1="548" y1="140.83" x2="551.5" y2="140.83" stroke="#262626" stroke-width="0.9"/>
<text x="547.2" y="143.13" font-size="6.4" font-weight="normal" text-anchor="end" fill="#1a1a1a" stroke="#1a1a1a" stroke-width="0.2">1.0</text>
<line x1="548" y1="114" x2="551.5" y2="114" stroke="#262626" stroke-width="0.9"/>
<text x="547.2" y="116.3" font-size="6.4" font-weight="normal" text-anchor="end" fill="#1a1a1a" stroke="#1a1a1a" stroke-width="0.2">1.5</text>
<line x1="558.5" y1="134.39" x2="558.5" y2="140.5" stroke="#5a5a5a" stroke-width="0.85"/>
<line x1="556.7" y1="134.39" x2="560.3" y2="134.39" stroke="#555" stroke-width="0.95"/>
<rect x="555.5" y="140.5" width="6" height="54" fill="#b6b7b6" stroke="#585858" stroke-width="1"/>
<line x1="558.5" y1="194.5" x2="558.5" y2="196.9" stroke="#262626" stroke-width="0.9"/>
<line x1="569.5" y1="129.56" x2="569.5" y2="140.5" stroke="#5a5a5a" stroke-width="0.85"/>
<line x1="567.7" y1="129.56" x2="571.3" y2="129.56" stroke="#555" stroke-width="0.95"/>
<rect x="566.5" y="140.5" width="6" height="54" fill="#b6b7b6" stroke="#585858" stroke-width="1"/>
<line x1="569.5" y1="194.5" x2="569.5" y2="196.9" stroke="#262626" stroke-width="0.9"/>
<line x1="580.5" y1="137.61" x2="580.5" y2="146.5" stroke="#5a5a5a" stroke-width="0.85"/>
<line x1="578.7" y1="137.61" x2="582.3" y2="137.61" stroke="#555" stroke-width="0.95"/>
<rect x="577.5" y="146.5" width="6" height="48" fill="#b6b7b6" stroke="#585858" stroke-width="1"/>
<line x1="580.5" y1="194.5" x2="580.5" y2="196.9" stroke="#262626" stroke-width="0.9"/>
<line x1="591.6" y1="142.44" x2="591.6" y2="150.5" stroke="#5a5a5a" stroke-width="0.85"/>
<line x1="589.8" y1="142.44" x2="593.4" y2="142.44" stroke="#555" stroke-width="0.95"/>
<rect x="588.6" y="150.5" width="6" height="44" fill="#b6b7b6" stroke="#585858" stroke-width="1"/>
<line x1="591.6" y1="194.5" x2="591.6" y2="196.9" stroke="#262626" stroke-width="0.9"/>
<line x1="602.5" y1="153.71" x2="602.5" y2="159.5" stroke="#5a5a5a" stroke-width="0.85"/>
<line x1="600.7" y1="153.71" x2="604.3" y2="153.71" stroke="#555" stroke-width="0.95"/>
<rect x="599.5" y="159.5" width="6" height="35" fill="#b6b7b6" stroke="#585858" stroke-width="1"/>
<line x1="602.5" y1="194.5" x2="602.5" y2="196.9" stroke="#262626" stroke-width="0.9"/>
<line x1="620.5" y1="137.61" x2="620.5" y2="140.5" stroke="#5a5a5a" stroke-width="0.85"/>
<line x1="618.7" y1="137.61" x2="622.3" y2="137.61" stroke="#555" stroke-width="0.95"/>
<rect x="617.5" y="140.5" width="6" height="54" fill="#cea5a4" stroke="#585858" stroke-width="1"/>
<line x1="620.5" y1="194.5" x2="620.5" y2="196.9" stroke="#262626" stroke-width="0.9"/>
<line x1="631.5" y1="139.76" x2="631.5" y2="144.5" stroke="#5a5a5a" stroke-width="0.85"/>
<line x1="629.7" y1="139.76" x2="633.3" y2="139.76" stroke="#555" stroke-width="0.95"/>
<rect x="628.5" y="144.5" width="6" height="50" fill="#cea5a4" stroke="#585858" stroke-width="1"/>
<line x1="631.5" y1="194.5" x2="631.5" y2="196.9" stroke="#262626" stroke-width="0.9"/>
<line x1="642.7" y1="140.3" x2="642.7" y2="146.5" stroke="#5a5a5a" stroke-width="0.85"/>
<line x1="640.9" y1="140.3" x2="644.5" y2="140.3" stroke="#555" stroke-width="0.95"/>
<rect x="639.7" y="146.5" width="6" height="48" fill="#cea5a4" stroke="#585858" stroke-width="1"/>
<line x1="642.7" y1="194.5" x2="642.7" y2="196.9" stroke="#262626" stroke-width="0.9"/>
<line x1="653.7" y1="140.83" x2="653.7" y2="147.5" stroke="#5a5a5a" stroke-width="0.85"/>
<line x1="651.9" y1="140.83" x2="655.5" y2="140.83" stroke="#555" stroke-width="0.95"/>
<rect x="650.7" y="147.5" width="6" height="47" fill="#cea5a4" stroke="#585858" stroke-width="1"/>
<line x1="653.7" y1="194.5" x2="653.7" y2="196.9" stroke="#262626" stroke-width="0.9"/>
<line x1="664.6" y1="132.25" x2="664.6" y2="142.5" stroke="#5a5a5a" stroke-width="0.85"/>
<line x1="662.8" y1="132.25" x2="666.4" y2="132.25" stroke="#555" stroke-width="0.95"/>
<rect x="661.6" y="142.5" width="6" height="52" fill="#cea5a4" stroke="#585858" stroke-width="1"/>
<line x1="664.6" y1="194.5" x2="664.6" y2="196.9" stroke="#262626" stroke-width="0.9"/>
<text x="560.8" y="202.3" font-size="6.1" font-weight="bold" text-anchor="end" fill="#1a1a1a" stroke="#1a1a1a" stroke-width="0.15" transform="rotate(-45 560.8 202.3)">Medium</text>
<text x="571.8" y="202.3" font-size="6.1" font-weight="bold" text-anchor="end" fill="#1a1a1a" stroke="#1a1a1a" stroke-width="0.15" transform="rotate(-45 571.8 202.3)">1</text>
<text x="582.8" y="202.3" font-size="6.1" font-weight="bold" text-anchor="end" fill="#1a1a1a" stroke="#1a1a1a" stroke-width="0.15" transform="rotate(-45 582.8 202.3)">3</text>
<text x="593.9" y="202.3" font-size="6.1" font-weight="bold" text-anchor="end" fill="#1a1a1a" stroke="#1a1a1a" stroke-width="0.15" transform="rotate(-45 593.9 202.3)">5</text>
<text x="604.8" y="202.3" font-size="6.1" font-weight="bold" text-anchor="end" fill="#1a1a1a" stroke="#1a1a1a" stroke-width="0.15" transform="rotate(-45 604.8 202.3)">10</text>
<text x="622.8" y="202.3" font-size="6.1" font-weight="bold" text-anchor="end" fill="#1a1a1a" stroke="#1a1a1a" stroke-width="0.15" transform="rotate(-45 622.8 202.3)">Medium</text>
<text x="633.8" y="202.3" font-size="6.1" font-weight="bold" text-anchor="end" fill="#1a1a1a" stroke="#1a1a1a" stroke-width="0.15" transform="rotate(-45 633.8 202.3)">1</text>
<text x="645" y="202.3" font-size="6.1" font-weight="bold" text-anchor="end" fill="#1a1a1a" stroke="#1a1a1a" stroke-width="0.15" transform="rotate(-45 645 202.3)">3</text>
<text x="656" y="202.3" font-size="6.1" font-weight="bold" text-anchor="end" fill="#1a1a1a" stroke="#1a1a1a" stroke-width="0.15" transform="rotate(-45 656 202.3)">5</text>
<text x="666.9" y="202.3" font-size="6.1" font-weight="bold" text-anchor="end" fill="#1a1a1a" stroke="#1a1a1a" stroke-width="0.15" transform="rotate(-45 666.9 202.3)">10</text>
<line x1="567" y1="209.5" x2="604.5" y2="209.5" stroke="#7c7c7c" stroke-width="0.9"/>
<text x="585.75" y="217" font-size="6" font-weight="bold" text-anchor="middle" fill="#1a1a1a" stroke="#1a1a1a" stroke-width="0.15">VWK147</text>
<text x="585.75" y="223.5" font-size="6" font-weight="bold" text-anchor="middle" fill="#1a1a1a" stroke="#1a1a1a" stroke-width="0.15">[&#956;M]</text>
<line x1="629" y1="209.5" x2="666.6" y2="209.5" stroke="#7c7c7c" stroke-width="0.9"/>
<text x="647.8" y="217" font-size="6" font-weight="bold" text-anchor="middle" fill="#1a1a1a" stroke="#1a1a1a" stroke-width="0.15">VWK147 [&#956;M]</text>
<text x="527.1" y="154.25" font-size="6.85" font-weight="bold" text-anchor="middle" fill="#1a1a1a" stroke="#1a1a1a" stroke-width="0.15" transform="rotate(-90 527.1 154.25)">fold of control</text>
<text x="534.9" y="154.25" font-size="6.7" font-weight="bold" text-anchor="middle" fill="#1a1a1a" stroke="#1a1a1a" stroke-width="0.15" transform="rotate(-90 534.9 154.25)">[HSP90/&#946;-Actin]</text>
<line x1="551.5" y1="231.4" x2="551.5" y2="312" stroke="#262626" stroke-width="1"/>
<line x1="551" y1="311.5" x2="672.5" y2="311.5" stroke="#262626" stroke-width="1"/>
<line x1="548" y1="311.5" x2="551.5" y2="311.5" stroke="#262626" stroke-width="0.9"/>
<text x="547.2" y="313.8" font-size="6.4" font-weight="normal" text-anchor="end" fill="#1a1a1a" stroke="#1a1a1a" stroke-width="0.2">0</text>
<line x1="548" y1="284.8" x2="551.5" y2="284.8" stroke="#262626" stroke-width="0.9"/>
<text x="547.2" y="287.1" font-size="6.4" font-weight="normal" text-anchor="end" fill="#1a1a1a" stroke="#1a1a1a" stroke-width="0.2">0.5</text>
<line x1="548" y1="258.1" x2="551.5" y2="258.1" stroke="#262626" stroke-width="0.9"/>
<text x="547.2" y="260.4" font-size="6.4" font-weight="normal" text-anchor="end" fill="#1a1a1a" stroke="#1a1a1a" stroke-width="0.2">1.0</text>
<line x1="548" y1="231.4" x2="551.5" y2="231.4" stroke="#262626" stroke-width="0.9"/>
<text x="547.2" y="233.7" font-size="6.4" font-weight="normal" text-anchor="end" fill="#1a1a1a" stroke="#1a1a1a" stroke-width="0.2">1.5</text>
<line x1="558.5" y1="255.43" x2="558.5" y2="258.5" stroke="#5a5a5a" stroke-width="0.85"/>
<line x1="556.7" y1="255.43" x2="560.3" y2="255.43" stroke="#555" stroke-width="0.95"/>
<rect x="555.5" y="258.5" width="6" height="53" fill="#b6b7b6" stroke="#585858" stroke-width="1"/>
<line x1="558.5" y1="311.5" x2="558.5" y2="313.9" stroke="#262626" stroke-width="0.9"/>
<line x1="569.5" y1="251.16" x2="569.5" y2="255.5" stroke="#5a5a5a" stroke-width="0.85"/>
<line x1="567.7" y1="251.16" x2="571.3" y2="251.16" stroke="#555" stroke-width="0.95"/>
<rect x="566.5" y="255.5" width="6" height="56" fill="#b6b7b6" stroke="#585858" stroke-width="1"/>
<line x1="569.5" y1="311.5" x2="569.5" y2="313.9" stroke="#262626" stroke-width="0.9"/>
<line x1="580.5" y1="254.36" x2="580.5" y2="258.5" stroke="#5a5a5a" stroke-width="0.85"/>
<line x1="578.7" y1="254.36" x2="582.3" y2="254.36" stroke="#555" stroke-width="0.95"/>
<rect x="577.5" y="258.5" width="6" height="53" fill="#b6b7b6" stroke="#585858" stroke-width="1"/>
<line x1="580.5" y1="311.5" x2="580.5" y2="313.9" stroke="#262626" stroke-width="0.9"/>
<line x1="591.6" y1="261.84" x2="591.6" y2="263.5" stroke="#5a5a5a" stroke-width="0.85"/>
<line x1="589.8" y1="261.84" x2="593.4" y2="261.84" stroke="#555" stroke-width="0.95"/>
<rect x="588.6" y="263.5" width="6" height="48" fill="#b6b7b6" stroke="#585858" stroke-width="1"/>
<line x1="591.6" y1="311.5" x2="591.6" y2="313.9" stroke="#262626" stroke-width="0.9"/>
<line x1="602.5" y1="266.64" x2="602.5" y2="268.5" stroke="#5a5a5a" stroke-width="0.85"/>
<line x1="600.7" y1="266.64" x2="604.3" y2="266.64" stroke="#555" stroke-width="0.95"/>
<rect x="599.5" y="268.5" width="6" height="43" fill="#b6b7b6" stroke="#585858" stroke-width="1"/>
<line x1="602.5" y1="311.5" x2="602.5" y2="313.9" stroke="#262626" stroke-width="0.9"/>
<polygon points="602.5,260.14 603.06,261.28 604.31,261.46 603.4,262.34 603.62,263.58 602.5,262.99 601.38,263.58 601.6,262.34 600.69,261.46 601.94,261.28" fill="#3a3a3a"/>
<polygon points="602.5,256.39 603.06,257.53 604.31,257.71 603.4,258.59 603.62,259.83 602.5,259.24 601.38,259.83 601.6,258.59 600.69,257.71 601.94,257.53" fill="#3a3a3a"/>
<line x1="620.5" y1="255.43" x2="620.5" y2="258.5" stroke="#5a5a5a" stroke-width="0.85"/>
<line x1="618.7" y1="255.43" x2="622.3" y2="255.43" stroke="#555" stroke-width="0.95"/>
<rect x="617.5" y="258.5" width="6" height="53" fill="#cea5a4" stroke="#585858" stroke-width="1"/>
<line x1="620.5" y1="311.5" x2="620.5" y2="313.9" stroke="#262626" stroke-width="0.9"/>
<line x1="631.5" y1="249.56" x2="631.5" y2="252.5" stroke="#5a5a5a" stroke-width="0.85"/>
<line x1="629.7" y1="249.56" x2="633.3" y2="249.56" stroke="#555" stroke-width="0.95"/>
<rect x="628.5" y="252.5" width="6" height="59" fill="#cea5a4" stroke="#585858" stroke-width="1"/>
<line x1="631.5" y1="311.5" x2="631.5" y2="313.9" stroke="#262626" stroke-width="0.9"/>
<line x1="642.7" y1="246.35" x2="642.7" y2="252.5" stroke="#5a5a5a" stroke-width="0.85"/>
<line x1="640.9" y1="246.35" x2="644.5" y2="246.35" stroke="#555" stroke-width="0.95"/>
<rect x="639.7" y="252.5" width="6" height="59" fill="#cea5a4" stroke="#585858" stroke-width="1"/>
<line x1="642.7" y1="311.5" x2="642.7" y2="313.9" stroke="#262626" stroke-width="0.9"/>
<line x1="653.7" y1="245.28" x2="653.7" y2="251.5" stroke="#5a5a5a" stroke-width="0.85"/>
<line x1="651.9" y1="245.28" x2="655.5" y2="245.28" stroke="#555" stroke-width="0.95"/>
<rect x="650.7" y="251.5" width="6" height="60" fill="#cea5a4" stroke="#585858" stroke-width="1"/>
<line x1="653.7" y1="311.5" x2="653.7" y2="313.9" stroke="#262626" stroke-width="0.9"/>
<line x1="664.6" y1="247.95" x2="664.6" y2="253.5" stroke="#5a5a5a" stroke-width="0.85"/>
<line x1="662.8" y1="247.95" x2="666.4" y2="247.95" stroke="#555" stroke-width="0.95"/>
<rect x="661.6" y="253.5" width="6" height="58" fill="#cea5a4" stroke="#585858" stroke-width="1"/>
<line x1="664.6" y1="311.5" x2="664.6" y2="313.9" stroke="#262626" stroke-width="0.9"/>
<text x="560.8" y="319.3" font-size="6.1" font-weight="bold" text-anchor="end" fill="#1a1a1a" stroke="#1a1a1a" stroke-width="0.15" transform="rotate(-45 560.8 319.3)">Medium</text>
<text x="571.8" y="319.3" font-size="6.1" font-weight="bold" text-anchor="end" fill="#1a1a1a" stroke="#1a1a1a" stroke-width="0.15" transform="rotate(-45 571.8 319.3)">1</text>
<text x="582.8" y="319.3" font-size="6.1" font-weight="bold" text-anchor="end" fill="#1a1a1a" stroke="#1a1a1a" stroke-width="0.15" transform="rotate(-45 582.8 319.3)">3</text>
<text x="593.9" y="319.3" font-size="6.1" font-weight="bold" text-anchor="end" fill="#1a1a1a" stroke="#1a1a1a" stroke-width="0.15" transform="rotate(-45 593.9 319.3)">5</text>
<text x="604.8" y="319.3" font-size="6.1" font-weight="bold" text-anchor="end" fill="#1a1a1a" stroke="#1a1a1a" stroke-width="0.15" transform="rotate(-45 604.8 319.3)">10</text>
<text x="622.8" y="319.3" font-size="6.1" font-weight="bold" text-anchor="end" fill="#1a1a1a" stroke="#1a1a1a" stroke-width="0.15" transform="rotate(-45 622.8 319.3)">Medium</text>
<text x="633.8" y="319.3" font-size="6.1" font-weight="bold" text-anchor="end" fill="#1a1a1a" stroke="#1a1a1a" stroke-width="0.15" transform="rotate(-45 633.8 319.3)">1</text>
<text x="645" y="319.3" font-size="6.1" font-weight="bold" text-anchor="end" fill="#1a1a1a" stroke="#1a1a1a" stroke-width="0.15" transform="rotate(-45 645 319.3)">3</text>
<text x="656" y="319.3" font-size="6.1" font-weight="bold" text-anchor="end" fill="#1a1a1a" stroke="#1a1a1a" stroke-width="0.15" transform="rotate(-45 656 319.3)">5</text>
<text x="666.9" y="319.3" font-size="6.1" font-weight="bold" text-anchor="end" fill="#1a1a1a" stroke="#1a1a1a" stroke-width="0.15" transform="rotate(-45 666.9 319.3)">10</text>
<line x1="567" y1="327.5" x2="604.5" y2="327.5" stroke="#7c7c7c" stroke-width="0.9"/>
<text x="585.75" y="335" font-size="6" font-weight="bold" text-anchor="middle" fill="#1a1a1a" stroke="#1a1a1a" stroke-width="0.15">VWK147</text>
<text x="585.75" y="341.5" font-size="6" font-weight="bold" text-anchor="middle" fill="#1a1a1a" stroke="#1a1a1a" stroke-width="0.15">[&#956;M]</text>
<line x1="629" y1="327.5" x2="666.6" y2="327.5" stroke="#7c7c7c" stroke-width="0.9"/>
<text x="647.8" y="335" font-size="6" font-weight="bold" text-anchor="middle" fill="#1a1a1a" stroke="#1a1a1a" stroke-width="0.15">VWK147 [&#956;M]</text>
<text x="527.1" y="271.45" font-size="6.85" font-weight="bold" text-anchor="middle" fill="#1a1a1a" stroke="#1a1a1a" stroke-width="0.15" transform="rotate(-90 527.1 271.45)">fold of control</text>
<text x="534.9" y="271.45" font-size="6.7" font-weight="bold" text-anchor="middle" fill="#1a1a1a" stroke="#1a1a1a" stroke-width="0.15" transform="rotate(-90 534.9 271.45)">[HSP70/&#946;-Actin]</text>
<line x1="551.5" y1="341.4" x2="551.5" y2="422" stroke="#262626" stroke-width="1"/>
<line x1="551" y1="421.5" x2="672.5" y2="421.5" stroke="#262626" stroke-width="1"/>
<line x1="548" y1="421.5" x2="551.5" y2="421.5" stroke="#262626" stroke-width="0.9"/>
<text x="547.2" y="423.8" font-size="6.4" font-weight="normal" text-anchor="end" fill="#1a1a1a" stroke="#1a1a1a" stroke-width="0.2">0</text>
<line x1="548" y1="394.8" x2="551.5" y2="394.8" stroke="#262626" stroke-width="0.9"/>
<text x="547.2" y="397.1" font-size="6.4" font-weight="normal" text-anchor="end" fill="#1a1a1a" stroke="#1a1a1a" stroke-width="0.2">0.5</text>
<line x1="548" y1="368.1" x2="551.5" y2="368.1" stroke="#262626" stroke-width="0.9"/>
<text x="547.2" y="370.4" font-size="6.4" font-weight="normal" text-anchor="end" fill="#1a1a1a" stroke="#1a1a1a" stroke-width="0.2">1.0</text>
<line x1="548" y1="341.4" x2="551.5" y2="341.4" stroke="#262626" stroke-width="0.9"/>
<text x="547.2" y="343.7" font-size="6.4" font-weight="normal" text-anchor="end" fill="#1a1a1a" stroke="#1a1a1a" stroke-width="0.2">1.5</text>
<line x1="558.5" y1="356.89" x2="558.5" y2="368.5" stroke="#5a5a5a" stroke-width="0.85"/>
<line x1="556.7" y1="356.89" x2="560.3" y2="356.89" stroke="#555" stroke-width="0.95"/>
<rect x="555.5" y="368.5" width="6" height="53" fill="#b6b7b6" stroke="#585858" stroke-width="1"/>
<line x1="558.5" y1="421.5" x2="558.5" y2="423.9" stroke="#262626" stroke-width="0.9"/>
<line x1="569.5" y1="352.08" x2="569.5" y2="364.5" stroke="#5a5a5a" stroke-width="0.85"/>
<line x1="567.7" y1="352.08" x2="571.3" y2="352.08" stroke="#555" stroke-width="0.95"/>
<rect x="566.5" y="364.5" width="6" height="57" fill="#b6b7b6" stroke="#585858" stroke-width="1"/>
<line x1="569.5" y1="421.5" x2="569.5" y2="423.9" stroke="#262626" stroke-width="0.9"/>
<line x1="580.5" y1="356.89" x2="580.5" y2="364.5" stroke="#5a5a5a" stroke-width="0.85"/>
<line x1="578.7" y1="356.89" x2="582.3" y2="356.89" stroke="#555" stroke-width="0.95"/>
<rect x="577.5" y="364.5" width="6" height="57" fill="#b6b7b6" stroke="#585858" stroke-width="1"/>
<line x1="580.5" y1="421.5" x2="580.5" y2="423.9" stroke="#262626" stroke-width="0.9"/>
<line x1="591.6" y1="351.01" x2="591.6" y2="365.5" stroke="#5a5a5a" stroke-width="0.85"/>
<line x1="589.8" y1="351.01" x2="593.4" y2="351.01" stroke="#555" stroke-width="0.95"/>
<rect x="588.6" y="365.5" width="6" height="56" fill="#b6b7b6" stroke="#585858" stroke-width="1"/>
<line x1="591.6" y1="421.5" x2="591.6" y2="423.9" stroke="#262626" stroke-width="0.9"/>
<line x1="602.5" y1="356.89" x2="602.5" y2="370.5" stroke="#5a5a5a" stroke-width="0.85"/>
<line x1="600.7" y1="356.89" x2="604.3" y2="356.89" stroke="#555" stroke-width="0.95"/>
<rect x="599.5" y="370.5" width="6" height="51" fill="#b6b7b6" stroke="#585858" stroke-width="1"/>
<line x1="602.5" y1="421.5" x2="602.5" y2="423.9" stroke="#262626" stroke-width="0.9"/>
<line x1="620.5" y1="361.69" x2="620.5" y2="368.5" stroke="#5a5a5a" stroke-width="0.85"/>
<line x1="618.7" y1="361.69" x2="622.3" y2="361.69" stroke="#555" stroke-width="0.95"/>
<rect x="617.5" y="368.5" width="6" height="53" fill="#cea5a4" stroke="#585858" stroke-width="1"/>
<line x1="620.5" y1="421.5" x2="620.5" y2="423.9" stroke="#262626" stroke-width="0.9"/>
<line x1="631.5" y1="361.69" x2="631.5" y2="364.5" stroke="#5a5a5a" stroke-width="0.85"/>
<line x1="629.7" y1="361.69" x2="633.3" y2="361.69" stroke="#555" stroke-width="0.95"/>
<rect x="628.5" y="364.5" width="6" height="57" fill="#cea5a4" stroke="#585858" stroke-width="1"/>
<line x1="631.5" y1="421.5" x2="631.5" y2="423.9" stroke="#262626" stroke-width="0.9"/>
<line x1="642.7" y1="352.08" x2="642.7" y2="359.5" stroke="#5a5a5a" stroke-width="0.85"/>
<line x1="640.9" y1="352.08" x2="644.5" y2="352.08" stroke="#555" stroke-width="0.95"/>
<rect x="639.7" y="359.5" width="6" height="62" fill="#cea5a4" stroke="#585858" stroke-width="1"/>
<line x1="642.7" y1="421.5" x2="642.7" y2="423.9" stroke="#262626" stroke-width="0.9"/>
<line x1="653.7" y1="343.54" x2="653.7" y2="354.5" stroke="#5a5a5a" stroke-width="0.85"/>
<line x1="651.9" y1="343.54" x2="655.5" y2="343.54" stroke="#555" stroke-width="0.95"/>
<rect x="650.7" y="354.5" width="6" height="67" fill="#cea5a4" stroke="#585858" stroke-width="1"/>
<line x1="653.7" y1="421.5" x2="653.7" y2="423.9" stroke="#262626" stroke-width="0.9"/>
<line x1="664.6" y1="356.89" x2="664.6" y2="362.5" stroke="#5a5a5a" stroke-width="0.85"/>
<line x1="662.8" y1="356.89" x2="666.4" y2="356.89" stroke="#555" stroke-width="0.95"/>
<rect x="661.6" y="362.5" width="6" height="59" fill="#cea5a4" stroke="#585858" stroke-width="1"/>
<line x1="664.6" y1="421.5" x2="664.6" y2="423.9" stroke="#262626" stroke-width="0.9"/>
<text x="560.8" y="429.3" font-size="6.1" font-weight="bold" text-anchor="end" fill="#1a1a1a" stroke="#1a1a1a" stroke-width="0.15" transform="rotate(-45 560.8 429.3)">Medium</text>
<text x="571.8" y="429.3" font-size="6.1" font-weight="bold" text-anchor="end" fill="#1a1a1a" stroke="#1a1a1a" stroke-width="0.15" transform="rotate(-45 571.8 429.3)">1</text>
<text x="582.8" y="429.3" font-size="6.1" font-weight="bold" text-anchor="end" fill="#1a1a1a" stroke="#1a1a1a" stroke-width="0.15" transform="rotate(-45 582.8 429.3)">3</text>
<text x="593.9" y="429.3" font-size="6.1" font-weight="bold" text-anchor="end" fill="#1a1a1a" stroke="#1a1a1a" stroke-width="0.15" transform="rotate(-45 593.9 429.3)">5</text>
<text x="604.8" y="429.3" font-size="6.1" font-weight="bold" text-anchor="end" fill="#1a1a1a" stroke="#1a1a1a" stroke-width="0.15" transform="rotate(-45 604.8 429.3)">10</text>
<text x="622.8" y="429.3" font-size="6.1" font-weight="bold" text-anchor="end" fill="#1a1a1a" stroke="#1a1a1a" stroke-width="0.15" transform="rotate(-45 622.8 429.3)">Medium</text>
<text x="633.8" y="429.3" font-size="6.1" font-weight="bold" text-anchor="end" fill="#1a1a1a" stroke="#1a1a1a" stroke-width="0.15" transform="rotate(-45 633.8 429.3)">1</text>
<text x="645" y="429.3" font-size="6.1" font-weight="bold" text-anchor="end" fill="#1a1a1a" stroke="#1a1a1a" stroke-width="0.15" transform="rotate(-45 645 429.3)">3</text>
<text x="656" y="429.3" font-size="6.1" font-weight="bold" text-anchor="end" fill="#1a1a1a" stroke="#1a1a1a" stroke-width="0.15" transform="rotate(-45 656 429.3)">5</text>
<text x="666.9" y="429.3" font-size="6.1" font-weight="bold" text-anchor="end" fill="#1a1a1a" stroke="#1a1a1a" stroke-width="0.15" transform="rotate(-45 666.9 429.3)">10</text>
<line x1="567" y1="437.5" x2="604.5" y2="437.5" stroke="#7c7c7c" stroke-width="0.9"/>
<text x="585.75" y="445" font-size="6" font-weight="bold" text-anchor="middle" fill="#1a1a1a" stroke="#1a1a1a" stroke-width="0.15">VWK147</text>
<text x="585.75" y="451.5" font-size="6" font-weight="bold" text-anchor="middle" fill="#1a1a1a" stroke="#1a1a1a" stroke-width="0.15">[&#956;M]</text>
<line x1="629" y1="437.5" x2="666.6" y2="437.5" stroke="#7c7c7c" stroke-width="0.9"/>
<text x="647.8" y="445" font-size="6" font-weight="bold" text-anchor="middle" fill="#1a1a1a" stroke="#1a1a1a" stroke-width="0.15">VWK147 [&#956;M]</text>
<text x="527.1" y="381.45" font-size="6.85" font-weight="bold" text-anchor="middle" fill="#1a1a1a" stroke="#1a1a1a" stroke-width="0.15" transform="rotate(-90 527.1 381.45)">fold of control</text>
<text x="534.9" y="381.45" font-size="6.7" font-weight="bold" text-anchor="middle" fill="#1a1a1a" stroke="#1a1a1a" stroke-width="0.15" transform="rotate(-90 534.9 381.45)">[HSP40/&#946;-Actin]</text>
<line x1="551.5" y1="452.4" x2="551.5" y2="532" stroke="#262626" stroke-width="1"/>
<line x1="551" y1="531.5" x2="672.5" y2="531.5" stroke="#262626" stroke-width="1"/>
<line x1="548" y1="531.5" x2="551.5" y2="531.5" stroke="#262626" stroke-width="0.9"/>
<text x="547.2" y="533.8" font-size="6.4" font-weight="normal" text-anchor="end" fill="#1a1a1a" stroke="#1a1a1a" stroke-width="0.2">0</text>
<line x1="548" y1="505.13" x2="551.5" y2="505.13" stroke="#262626" stroke-width="0.9"/>
<text x="547.2" y="507.43" font-size="6.4" font-weight="normal" text-anchor="end" fill="#1a1a1a" stroke="#1a1a1a" stroke-width="0.2">0.5</text>
<line x1="548" y1="478.77" x2="551.5" y2="478.77" stroke="#262626" stroke-width="0.9"/>
<text x="547.2" y="481.07" font-size="6.4" font-weight="normal" text-anchor="end" fill="#1a1a1a" stroke="#1a1a1a" stroke-width="0.2">1.0</text>
<line x1="548" y1="452.4" x2="551.5" y2="452.4" stroke="#262626" stroke-width="0.9"/>
<text x="547.2" y="454.7" font-size="6.4" font-weight="normal" text-anchor="end" fill="#1a1a1a" stroke="#1a1a1a" stroke-width="0.2">1.5</text>
<line x1="558.5" y1="471.91" x2="558.5" y2="478.5" stroke="#5a5a5a" stroke-width="0.85"/>
<line x1="556.7" y1="471.91" x2="560.3" y2="471.91" stroke="#555" stroke-width="0.95"/>
<rect x="555.5" y="478.5" width="6" height="53" fill="#b6b7b6" stroke="#585858" stroke-width="1"/>
<line x1="558.5" y1="531.5" x2="558.5" y2="533.9" stroke="#262626" stroke-width="0.9"/>
<line x1="569.5" y1="462.95" x2="569.5" y2="474.5" stroke="#5a5a5a" stroke-width="0.85"/>
<line x1="567.7" y1="462.95" x2="571.3" y2="462.95" stroke="#555" stroke-width="0.95"/>
<rect x="566.5" y="474.5" width="6" height="57" fill="#b6b7b6" stroke="#585858" stroke-width="1"/>
<line x1="569.5" y1="531.5" x2="569.5" y2="533.9" stroke="#262626" stroke-width="0.9"/>
<line x1="580.5" y1="464" x2="580.5" y2="469.5" stroke="#5a5a5a" stroke-width="0.85"/>
<line x1="578.7" y1="464" x2="582.3" y2="464" stroke="#555" stroke-width="0.95"/>
<rect x="577.5" y="469.5" width="6" height="62" fill="#b6b7b6" stroke="#585858" stroke-width="1"/>
<line x1="580.5" y1="531.5" x2="580.5" y2="533.9" stroke="#262626" stroke-width="0.9"/>
<line x1="591.6" y1="474.02" x2="591.6" y2="478.5" stroke="#5a5a5a" stroke-width="0.85"/>
<line x1="589.8" y1="474.02" x2="593.4" y2="474.02" stroke="#555" stroke-width="0.95"/>
<rect x="588.6" y="478.5" width="6" height="53" fill="#b6b7b6" stroke="#585858" stroke-width="1"/>
<line x1="591.6" y1="531.5" x2="591.6" y2="533.9" stroke="#262626" stroke-width="0.9"/>
<line x1="602.5" y1="486.15" x2="602.5" y2="494.5" stroke="#5a5a5a" stroke-width="0.85"/>
<line x1="600.7" y1="486.15" x2="604.3" y2="486.15" stroke="#555" stroke-width="0.95"/>
<rect x="599.5" y="494.5" width="6" height="37" fill="#b6b7b6" stroke="#585858" stroke-width="1"/>
<line x1="602.5" y1="531.5" x2="602.5" y2="533.9" stroke="#262626" stroke-width="0.9"/>
<line x1="620.5" y1="475.6" x2="620.5" y2="478.5" stroke="#5a5a5a" stroke-width="0.85"/>
<line x1="618.7" y1="475.6" x2="622.3" y2="475.6" stroke="#555" stroke-width="0.95"/>
<rect x="617.5" y="478.5" width="6" height="53" fill="#cea5a4" stroke="#585858" stroke-width="1"/>
<line x1="620.5" y1="531.5" x2="620.5" y2="533.9" stroke="#262626" stroke-width="0.9"/>
<line x1="631.5" y1="468.75" x2="631.5" y2="474.5" stroke="#5a5a5a" stroke-width="0.85"/>
<line x1="629.7" y1="468.75" x2="633.3" y2="468.75" stroke="#555" stroke-width="0.95"/>
<rect x="628.5" y="474.5" width="6" height="57" fill="#cea5a4" stroke="#585858" stroke-width="1"/>
<line x1="631.5" y1="531.5" x2="631.5" y2="533.9" stroke="#262626" stroke-width="0.9"/>
<line x1="642.7" y1="474.55" x2="642.7" y2="477.5" stroke="#5a5a5a" stroke-width="0.85"/>
<line x1="640.9" y1="474.55" x2="644.5" y2="474.55" stroke="#555" stroke-width="0.95"/>
<rect x="639.7" y="477.5" width="6" height="54" fill="#cea5a4" stroke="#585858" stroke-width="1"/>
<line x1="642.7" y1="531.5" x2="642.7" y2="533.9" stroke="#262626" stroke-width="0.9"/>
<line x1="653.7" y1="494.59" x2="653.7" y2="497.5" stroke="#5a5a5a" stroke-width="0.85"/>
<line x1="651.9" y1="494.59" x2="655.5" y2="494.59" stroke="#555" stroke-width="0.95"/>
<rect x="650.7" y="497.5" width="6" height="34" fill="#cea5a4" stroke="#585858" stroke-width="1"/>
<line x1="653.7" y1="531.5" x2="653.7" y2="533.9" stroke="#262626" stroke-width="0.9"/>
<polygon points="653.7,488.09 654.26,489.22 655.51,489.4 654.6,490.28 654.82,491.52 653.7,490.94 652.58,491.52 652.8,490.28 651.89,489.4 653.14,489.22" fill="#3a3a3a"/>
<polygon points="653.7,484.34 654.26,485.47 655.51,485.65 654.6,486.53 654.82,487.77 653.7,487.19 652.58,487.77 652.8,486.53 651.89,485.65 653.14,485.47" fill="#3a3a3a"/>
<polygon points="653.7,480.59 654.26,481.72 655.51,481.9 654.6,482.78 654.82,484.02 653.7,483.44 652.58,484.02 652.8,482.78 651.89,481.9 653.14,481.72" fill="#3a3a3a"/>
<line x1="664.6" y1="515.68" x2="664.6" y2="519.5" stroke="#5a5a5a" stroke-width="0.85"/>
<line x1="662.8" y1="515.68" x2="666.4" y2="515.68" stroke="#555" stroke-width="0.95"/>
<rect x="661.6" y="519.5" width="6" height="12" fill="#cea5a4" stroke="#585858" stroke-width="1"/>
<line x1="664.6" y1="531.5" x2="664.6" y2="533.9" stroke="#262626" stroke-width="0.9"/>
<polygon points="664.6,509.18 665.16,510.31 666.41,510.49 665.5,511.37 665.72,512.62 664.6,512.03 663.48,512.62 663.7,511.37 662.79,510.49 664.04,510.31" fill="#3a3a3a"/>
<polygon points="664.6,505.43 665.16,506.56 666.41,506.74 665.5,507.62 665.72,508.87 664.6,508.28 663.48,508.87 663.7,507.62 662.79,506.74 664.04,506.56" fill="#3a3a3a"/>
<polygon points="664.6,501.68 665.16,502.81 666.41,502.99 665.5,503.87 665.72,505.12 664.6,504.53 663.48,505.12 663.7,503.87 662.79,502.99 664.04,502.81" fill="#3a3a3a"/>
<polygon points="664.6,497.93 665.16,499.06 666.41,499.24 665.5,500.12 665.72,501.37 664.6,500.78 663.48,501.37 663.7,500.12 662.79,499.24 664.04,499.06" fill="#3a3a3a"/>
<text x="560.8" y="539.3" font-size="6.1" font-weight="bold" text-anchor="end" fill="#1a1a1a" stroke="#1a1a1a" stroke-width="0.15" transform="rotate(-45 560.8 539.3)">Medium</text>
<text x="571.8" y="539.3" font-size="6.1" font-weight="bold" text-anchor="end" fill="#1a1a1a" stroke="#1a1a1a" stroke-width="0.15" transform="rotate(-45 571.8 539.3)">1</text>
<text x="582.8" y="539.3" font-size="6.1" font-weight="bold" text-anchor="end" fill="#1a1a1a" stroke="#1a1a1a" stroke-width="0.15" transform="rotate(-45 582.8 539.3)">3</text>
<text x="593.9" y="539.3" font-size="6.1" font-weight="bold" text-anchor="end" fill="#1a1a1a" stroke="#1a1a1a" stroke-width="0.15" transform="rotate(-45 593.9 539.3)">5</text>
<text x="604.8" y="539.3" font-size="6.1" font-weight="bold" text-anchor="end" fill="#1a1a1a" stroke="#1a1a1a" stroke-width="0.15" transform="rotate(-45 604.8 539.3)">10</text>
<text x="622.8" y="539.3" font-size="6.1" font-weight="bold" text-anchor="end" fill="#1a1a1a" stroke="#1a1a1a" stroke-width="0.15" transform="rotate(-45 622.8 539.3)">Medium</text>
<text x="633.8" y="539.3" font-size="6.1" font-weight="bold" text-anchor="end" fill="#1a1a1a" stroke="#1a1a1a" stroke-width="0.15" transform="rotate(-45 633.8 539.3)">1</text>
<text x="645" y="539.3" font-size="6.1" font-weight="bold" text-anchor="end" fill="#1a1a1a" stroke="#1a1a1a" stroke-width="0.15" transform="rotate(-45 645 539.3)">3</text>
<text x="656" y="539.3" font-size="6.1" font-weight="bold" text-anchor="end" fill="#1a1a1a" stroke="#1a1a1a" stroke-width="0.15" transform="rotate(-45 656 539.3)">5</text>
<text x="666.9" y="539.3" font-size="6.1" font-weight="bold" text-anchor="end" fill="#1a1a1a" stroke="#1a1a1a" stroke-width="0.15" transform="rotate(-45 666.9 539.3)">10</text>
<line x1="567" y1="548.5" x2="604.5" y2="548.5" stroke="#7c7c7c" stroke-width="0.9"/>
<text x="585.75" y="556" font-size="6" font-weight="bold" text-anchor="middle" fill="#1a1a1a" stroke="#1a1a1a" stroke-width="0.15">VWK147</text>
<text x="585.75" y="562.5" font-size="6" font-weight="bold" text-anchor="middle" fill="#1a1a1a" stroke="#1a1a1a" stroke-width="0.15">[&#956;M]</text>
<line x1="629" y1="548.5" x2="666.6" y2="548.5" stroke="#7c7c7c" stroke-width="0.9"/>
<text x="647.8" y="556" font-size="6" font-weight="bold" text-anchor="middle" fill="#1a1a1a" stroke="#1a1a1a" stroke-width="0.15">VWK147 [&#956;M]</text>
<text x="527.1" y="491.95" font-size="6.85" font-weight="bold" text-anchor="middle" fill="#1a1a1a" stroke="#1a1a1a" stroke-width="0.15" transform="rotate(-90 527.1 491.95)">fold of control</text>
<text x="534.9" y="491.95" font-size="6.7" font-weight="bold" text-anchor="middle" fill="#1a1a1a" stroke="#1a1a1a" stroke-width="0.15" transform="rotate(-90 534.9 491.95)">[HSP27/&#946;-Actin]</text>
<rect x="632.1" y="111.9" width="8.4" height="3.8" fill="#b6b7b6" stroke="#585858" stroke-width="1"/>
<rect x="632.1" y="124.1" width="8.4" height="3.8" fill="#cea5a4" stroke="#585858" stroke-width="1"/>
<text x="646.2" y="116.9" font-size="7.7" font-weight="normal" text-anchor="start" fill="#1e1e1e" stroke="#1e1e1e" stroke-width="0.22">T24</text>
<text x="646.2" y="129.1" font-size="7.7" font-weight="normal" text-anchor="start" fill="#1e1e1e" stroke="#1e1e1e" stroke-width="0.22">T24-CR</text>
</svg>
</body></html>
